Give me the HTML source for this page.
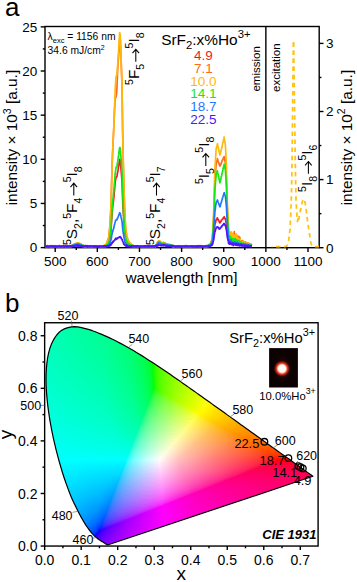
<!DOCTYPE html><html><head><meta charset="utf-8"><style>html,body{margin:0;padding:0;background:#fff;overflow:hidden}svg{display:block}text{font-family:"Liberation Sans", sans-serif}</style></head><body>
<svg width="357" height="582" viewBox="0 0 357 582">
<defs>
<clipPath id="ca"><rect x="45.0" y="26.5" width="274.2" height="223.2"/></clipPath>
</defs>
<text x="5" y="15.5" font-size="26" text-anchor="start" fill="#000" >a</text>
<rect x="45.0" y="26.5" width="274.2" height="221.2" fill="none" stroke="#000" stroke-width="1.4"/>
<line x1="265.87" y1="26.5" x2="265.87" y2="247.7" stroke="#000" stroke-width="1.4" />
<g clip-path="url(#ca)" fill="none" stroke-width="1.7" stroke-linejoin="round">
<polyline points="45.09,246.65 45.3,246.69 45.51,246.26 45.72,246.17 45.93,246.4 46.14,246.21 46.35,246.94 46.56,246.59 46.77,246.62 46.98,246.47 47.19,246.32 47.41,247.11 47.62,245.51 47.83,246.74 48.04,246.37 48.25,246.22 48.46,246.21 48.67,246.4 48.88,247.38 49.09,246.81 49.3,246.24 49.51,246.76 49.72,246.81 49.93,247.21 50.14,246.1 50.35,246.32 50.57,246.76 50.78,246.52 50.99,246.52 51.2,246.83 51.41,246.57 51.62,246.41 51.83,246.32 52.04,246.1 52.25,246.48 52.46,246.63 52.67,246.36 52.88,246.68 53.09,246.88 53.3,246.14 53.51,246.61 53.73,246.45 53.94,246.29 54.15,246.83 54.36,246.29 54.57,246.35 54.78,246.52 54.99,246.37 55.2,246.72 55.41,247.17 55.62,246.58 55.83,246.77 56.04,246.22 56.25,246.41 56.46,246.65 56.67,246.48 56.89,246.07 57.1,246.14 57.31,246.38 57.52,246.36 57.73,246.58 57.94,246.53 58.15,246.31 58.36,246.53 58.57,246.4 58.78,246.84 58.99,247.01 59.2,247.02 59.41,246.63 59.62,246.08 59.83,246.13 60.05,246.8 60.26,246.97 60.47,246.25 60.68,246.35 60.89,246.91 61.1,246.16 61.31,246.44 61.52,246.08 61.73,246.39 61.94,246.22 62.15,246.39 62.36,246.79 62.57,246.56 62.78,246.7 62.99,246.23 63.21,246.8 63.42,246.97 63.63,246.28 63.84,246.14 64.05,246.04 64.26,246.15 64.47,246.96 64.68,246.71 64.89,246.66 65.1,246.5 65.31,247.16 65.52,246.49 65.73,246.4 65.94,246.78 66.15,246.45 66.37,246.12 66.58,246.47 66.79,246.15 67,246.16 67.21,246.35 67.42,246.35 67.63,246.58 67.84,246.08 68.05,246.6 68.26,246.66 68.47,246.22 68.68,246.65 68.89,246.28 69.1,246.07 69.31,246.36 69.53,246.33 69.74,246.06 69.95,246.09 70.16,246.77 70.37,246.68 70.58,245.83 70.79,246.08 71,246.81 71.21,246.54 71.42,246.07 71.63,246.34 71.84,245.84 72.05,245.9 72.26,245.71 72.47,246.16 72.69,245.54 72.9,245.06 73.11,245.84 73.32,245.11 73.53,245.14 73.74,245.17 73.95,245.3 74.16,245.56 74.37,245.4 74.58,244.81 74.79,244.66 75,244.51 75.21,244.52 75.42,244.47 75.63,244.81 75.85,244.99 76.06,244.5 76.27,244.36 76.48,244.44 76.69,244.9 76.9,244.57 77.11,244.84 77.32,244.33 77.53,244.69 77.74,244.43 77.95,244.29 78.16,244.36 78.37,244.01 78.58,244.81 78.79,245.19 79.01,244.27 79.22,244.18 79.43,244.24 79.64,244.66 79.85,244.65 80.06,244.85 80.27,245.36 80.48,245.22 80.69,244.97 80.9,245.38 81.11,244.69 81.32,245.84 81.53,245.57 81.74,245.17 81.95,245.78 82.17,246.01 82.38,246.15 82.59,246.02 82.8,245.39 83.01,245.79 83.22,245.82 83.43,246.19 83.64,245.82 83.85,246.09 84.06,246.45 84.27,246.34 84.48,246.17 84.69,245.9 84.9,246.31 85.11,246.16 85.33,245.72 85.54,246.61 85.75,246.76 85.96,246.09 86.17,246.27 86.38,246.45 86.59,246.35 86.8,246.54 87.01,246.29 87.22,246.56 87.43,246.21 87.64,246.82 87.85,246.72 88.06,246.43 88.27,246.62 88.49,246.26 88.7,246.49 88.91,246.65 89.12,246.41 89.33,246.64 89.54,246.96 89.75,246.83 89.96,246.73 90.17,246.63 90.38,246.45 90.59,246.2 90.8,246.31 91.01,245.93 91.22,246.09 91.43,246.54 91.65,245.97 91.86,246.12 92.07,246.62 92.28,246.39 92.49,246.14 92.7,246.41 92.91,246.17 93.12,246.36 93.33,246.26 93.54,246.58 93.75,246.36 93.96,246.59 94.17,246.27 94.38,247 94.59,246.38 94.81,246.1 95.02,246.3 95.23,246.49 95.44,246.32 95.65,246.74 95.86,246.74 96.07,246.59 96.28,246.53 96.49,246.18 96.7,246.76 96.91,246.17 97.12,246.97 97.33,246.72 97.54,246.49 97.75,246.12 97.96,246.67 98.18,247.14 98.39,246.35 98.6,246.49 98.81,246.82 99.02,246.8 99.23,246.7 99.44,246.45 99.65,246.28 99.86,246.94 100.07,245.77 100.28,246.49 100.49,246.6 100.7,246.27 100.91,246.45 101.12,245.76 101.34,246.14 101.55,246.6 101.76,246.6 101.97,246.64 102.18,246.59 102.39,246.27 102.6,246.64 102.81,245.91 103.02,246.39 103.23,246.37 103.44,246 103.65,246.86 103.86,246.5 104.07,245.99 104.28,246.13 104.5,246.1 104.71,245.93 104.92,246.2 105.13,246.03 105.34,246.36 105.55,246.48 105.76,245.47 105.97,246.11 106.18,246.01 106.39,245.1 106.6,244.95 106.81,245.19 107.02,244.94 107.23,244.55 107.44,244.56 107.66,243.85 107.87,243.72 108.08,243.47 108.29,243.03 108.5,242.78 108.71,242.18 108.92,241.9 109.13,241.97 109.34,240.24 109.55,239.94 109.76,239.11 109.97,237.52 110.18,236.39 110.39,234.71 110.6,232.71 110.82,231.68 111.03,229.85 111.24,226.22 111.45,222.69 111.66,219.66 111.87,217.05 112.08,213.76 112.29,211.56 112.5,208.88 112.71,207.16 112.92,205.14 113.13,203.28 113.34,202 113.55,200.01 113.76,198.25 113.98,196.38 114.19,193.76 114.4,191.25 114.61,189.43 114.82,186.52 115.03,184.21 115.24,181.8 115.45,180.8 115.66,179.48 115.87,178.02 116.08,177.18 116.29,177.45 116.5,176.92 116.71,176.33 116.92,176.57 117.14,175.21 117.35,173.31 117.56,172.89 117.77,171.69 117.98,170.74 118.19,169.41 118.4,167.38 118.61,166.51 118.82,165.46 119.03,164.02 119.24,162.36 119.45,160.75 119.66,159.85 119.87,159.25 120.08,160.3 120.3,160.71 120.51,163.13 120.72,165.57 120.93,168.36 121.14,170.76 121.35,173.05 121.56,176.1 121.77,178.14 121.98,180.53 122.19,185.79 122.4,192.27 122.61,198.47 122.82,202.69 123.03,207.28 123.24,211.45 123.46,215.05 123.67,218.1 123.88,221.52 124.09,224.31 124.3,227.88 124.51,229.99 124.72,232.08 124.93,233.52 125.14,235.61 125.35,236.98 125.56,238.49 125.77,238.98 125.98,240.36 126.19,240.34 126.4,241.31 126.62,242.15 126.83,242.42 127.04,242.88 127.25,243.1 127.46,243.44 127.67,243.37 127.88,243.65 128.09,243.93 128.3,244.39 128.51,244.47 128.72,244.41 128.93,244.36 129.14,244.85 129.35,244.49 129.56,245.02 129.78,245.44 129.99,245 130.2,245.58 130.41,245.24 130.62,245.12 130.83,245.64 131.04,245.66 131.25,244.95 131.46,245.73 131.67,245.76 131.88,245.64 132.09,245.95 132.3,245.99 132.51,245.88 132.72,246.77 132.94,245.64 133.15,246.44 133.36,246.49 133.57,246.02 133.78,246.22 133.99,246.65 134.2,246.24 134.41,246.7 134.62,246.6 134.83,246.89 135.04,246.72 135.25,246.38 135.46,246.46 135.67,246.41 135.88,246.22 136.1,246.51 136.31,246.71 136.52,246.59 136.73,245.99 136.94,246.49 137.15,246.4 137.36,246.53 137.57,246.43 137.78,246.37 137.99,246.5 138.2,246.55 138.41,246.74 138.62,246.76 138.83,246.38 139.04,246.27 139.26,246.22 139.47,246.49 139.68,246.76 139.89,246.31 140.1,246.31 140.31,246.97 140.52,246.25 140.73,246.32 140.94,245.99 141.15,246.85 141.36,246.9 141.57,246.26 141.78,247.06 141.99,246.73 142.2,246.84 142.42,246.81 142.63,247.09 142.84,246.57 143.05,246.2 143.26,246.36 143.47,246.36 143.68,246.61 143.89,246.05 144.1,246.34 144.31,246.18 144.52,246.98 144.73,246.39 144.94,246.85 145.15,246.39 145.36,246.44 145.58,246.85 145.79,246.44 146,246.14 146.21,246.34 146.42,246.32 146.63,246.76 146.84,246.71 147.05,246.84 147.26,246.46 147.47,246.13 147.68,246.36 147.89,246.5 148.1,246.84 148.31,246.36 148.52,246.57 148.74,247.08 148.95,247.03 149.16,246.6 149.37,246.77 149.58,245.99 149.79,246.49 150,246.82 150.21,246.65 150.42,246.01 150.63,246.79 150.84,246.26 151.05,246.36 151.26,246.04 151.47,246.33 151.68,246.62 151.9,246.33 152.11,246.47 152.32,246.19 152.53,246.51 152.74,245.88 152.95,246.52 153.16,246.35 153.37,246.68 153.58,246.42 153.79,246.44 154,246.38 154.21,246.13 154.42,246.53 154.63,246.58 154.84,245.91 155.06,246.26 155.27,246.28 155.48,245.6 155.69,245.57 155.9,246.44 156.11,245.54 156.32,244.95 156.53,244.68 156.74,244.81 156.95,243.88 157.16,244.3 157.37,243.81 157.58,243.4 157.79,243.16 158,242.65 158.22,242.36 158.43,242.51 158.64,241.93 158.85,242.5 159.06,242.33 159.27,241.76 159.48,242.33 159.69,242.14 159.9,242.74 160.11,242.85 160.32,242.97 160.53,243.05 160.74,243.37 160.95,243.4 161.16,243.32 161.38,243.25 161.59,243.65 161.8,243.53 162.01,243.47 162.22,244.09 162.43,244.23 162.64,243.24 162.85,243.31 163.06,243.68 163.27,243.59 163.48,243.99 163.69,244.14 163.9,243.65 164.11,244.25 164.32,243.58 164.54,244.14 164.75,243.93 164.96,243.52 165.17,243.64 165.38,244.41 165.59,244.1 165.8,244.85 166.01,244.81 166.22,244.6 166.43,244.37 166.64,245.04 166.85,244.76 167.06,244.95 167.27,245.41 167.48,245.1 167.7,244.62 167.91,245.14 168.12,244.98 168.33,244.89 168.54,245.39 168.75,244.81 168.96,244.75 169.17,244.74 169.38,244.86 169.59,245.44 169.8,245.51 170.01,245.62 170.22,245.7 170.43,245.72 170.64,245.22 170.86,245.13 171.07,245.84 171.28,245.45 171.49,246.15 171.7,245.93 171.91,246.19 172.12,246.45 172.33,245.98 172.54,246.03 172.75,246.23 172.96,246.31 173.17,246.5 173.38,246.27 173.59,246.45 173.8,246.23 174.02,246.7 174.23,246.29 174.44,246.22 174.65,246.01 174.86,246.09 175.07,246.37 175.28,246.65 175.49,247.02 175.7,246.46 175.91,246.03 176.12,245.96 176.33,247.26 176.54,246.71 176.75,246.59 176.96,246.81 177.18,246.43 177.39,246.48 177.6,246.65 177.81,246.5 178.02,246.98 178.23,246.79 178.44,246.77 178.65,246.22 178.86,247 179.07,246.56 179.28,246.25 179.49,246.51 179.7,246.24 179.91,246.7 180.12,246.36 180.34,246.22 180.55,245.8 180.76,246.27 180.97,246.05 181.18,246.49 181.39,246.46 181.6,246.01 181.81,246.31 182.02,246.05 182.23,246.27 182.44,245.84 182.65,245.76 182.86,246.75 183.07,245.92 183.28,246.36 183.49,246.34 183.71,246.53 183.92,246.27 184.13,246.83 184.34,246.71 184.55,246.73 184.76,246.4 184.97,246.2 185.18,246.26 185.39,246.37 185.6,246.67 185.81,247.03 186.02,246.36 186.23,246.44 186.44,246.38 186.65,246.05 186.87,246.54 187.08,246.55 187.29,247.2 187.5,246.31 187.71,246.5 187.92,246.72 188.13,246.37 188.34,246.81 188.55,246.65 188.76,245.88 188.97,246.25 189.18,246.2 189.39,246.26 189.6,246.29 189.81,246.43 190.03,245.78 190.24,246.51 190.45,246.26 190.66,246.56 190.87,246.6 191.08,247.24 191.29,247.08 191.5,246.01 191.71,246.03 191.92,246.62 192.13,246.5 192.34,246.3 192.55,246.8 192.76,245.94 192.97,246.81 193.19,246.71 193.4,247.34 193.61,246.02 193.82,246.47 194.03,245.99 194.24,246.8 194.45,246.39 194.66,246.47 194.87,246.43 195.08,245.85 195.29,245.79 195.5,246.07 195.71,246.62 195.92,246.22 196.13,246.08 196.35,246.32 196.56,246.32 196.77,246.34 196.98,246.77 197.19,246.42 197.4,246 197.61,246.8 197.82,246.47 198.03,246.23 198.24,246.91 198.45,246.54 198.66,247.02 198.87,246.68 199.08,246.93 199.29,246.77 199.51,246.65 199.72,246.58 199.93,246.56 200.14,247.24 200.35,246 200.56,246.58 200.77,246.83 200.98,246.69 201.19,246.4 201.4,246.81 201.61,246.62 201.82,246.64 202.03,246.33 202.24,246.73 202.45,246.36 202.67,246.39 202.88,246.54 203.09,246.11 203.3,246.49 203.51,246.86 203.72,246.4 203.93,246.46 204.14,246.51 204.35,246.42 204.56,245.77 204.77,246.42 204.98,246.35 205.19,246.57 205.4,246.09 205.61,246.51 205.83,246.74 206.04,246.87 206.25,246.3 206.46,246.21 206.67,246.9 206.88,246.6 207.09,246.15 207.3,246 207.51,246.7 207.72,246.39 207.93,245.97 208.14,246.37 208.35,246.31 208.56,246.31 208.77,246.52 208.99,246.07 209.2,245.96 209.41,246.46 209.62,245.96 209.83,245.62 210.04,245.87 210.25,245.61 210.46,245.9 210.67,245.13 210.88,245.62 211.09,244.61 211.3,245.16 211.51,245.06 211.72,244.94 211.93,244.61 212.15,244.46 212.36,244.34 212.57,243.15 212.78,241.76 212.99,240.6 213.2,239.9 213.41,238.33 213.62,237.93 213.83,235.89 214.04,233.87 214.25,231.28 214.46,229.89 214.67,227.79 214.88,224.91 215.09,223.83 215.31,223.01 215.52,222.94 215.73,221.53 215.94,220.34 216.15,219.63 216.36,219.92 216.57,219.29 216.78,219.47 216.99,219.09 217.2,217.81 217.41,218.03 217.62,219.06 217.83,219.44 218.04,219.21 218.25,219.9 218.47,219.9 218.68,220.65 218.89,220.88 219.1,221.11 219.31,221.87 219.52,222.52 219.73,222.66 219.94,222.87 220.15,222.43 220.36,222.1 220.57,221.82 220.78,221.35 220.99,221.5 221.2,220.51 221.41,220.03 221.63,220.25 221.84,220.02 222.05,219.4 222.26,219.3 222.47,219.16 222.68,218.98 222.89,218.87 223.1,218.72 223.31,217.86 223.52,217.41 223.73,217.82 223.94,217.23 224.15,216.85 224.36,217.4 224.57,217.85 224.79,218.08 225,218.91 225.21,218.67 225.42,219.08 225.63,219.58 225.84,221.19 226.05,222.83 226.26,223.96 226.47,224.67 226.68,226.9 226.89,229.52 227.1,231.81 227.31,234.41 227.52,236.25 227.73,237.34 227.95,237.8 228.16,237.13 228.37,239.51 228.58,239.01 228.79,239.93 229,240.89 229.21,237.31 229.42,238.95 229.63,237.35 229.84,241.06 230.05,238.24 230.26,240 230.47,237.57 230.68,239.67 230.89,240.47 231.11,240.39 231.32,236.51 231.53,238.69 231.74,240.41 231.95,241.44 232.16,241.5 232.37,237.14 232.58,243.04 232.79,241.19 233,238.18 233.21,237.67 233.42,240.29 233.63,238.81 233.84,239.07 234.05,238.05 234.27,240.64 234.48,237.46 234.69,240.34 234.9,238.24 235.11,242.5 235.32,238.7 235.53,242.4 235.74,241.93 235.95,240.22 236.16,242.23 236.37,239.95 236.58,242.17 236.79,238.77 237,241.59 237.21,242.13 237.43,240.74 237.64,239.97 237.85,242.51 238.06,240.59 238.27,239.19 238.48,240.57 238.69,241.8 238.9,242.1 239.11,241.42 239.32,243.81 239.53,245.07 239.74,242.86 239.95,243.44 240.16,240.73 240.37,242.08 240.59,243.76 240.8,243.66 241.01,241.73 241.22,243.52 241.43,243.75 241.64,243.56 241.85,243.09 242.06,243.61 242.27,243.81 242.48,242.77 242.69,242.72 242.9,244.57 243.11,242.52 243.32,243.32 243.53,243.46 243.75,244.45 243.96,243.67 244.17,243.91 244.38,243.86 244.59,244 244.8,244.57 245.01,244.88 245.22,244.89 245.43,244.13 245.64,243.72 245.85,244.65 246.06,244.78 246.27,244.92 246.48,245.16 246.69,245.24 246.91,244.36 247.12,244.74 247.33,244.98 247.54,244.99 247.75,244.34 247.96,243.75 248.17,244.66 248.38,244.67 248.59,245.25 248.8,244.14 249.01,244.22 249.22,245.01 249.43,244.57 249.64,244.88 249.85,244.51 250.07,245.56 250.28,245.26 250.49,245.7 250.7,244.68 250.91,245.49 251.12,245.67 251.33,245.19 251.54,245.49" stroke="#f01c1c"/>
<polyline points="45.09,246.82 45.3,246.16 45.51,246.34 45.72,247 45.93,247.14 46.14,246.21 46.35,245.78 46.56,246.23 46.77,246.57 46.98,246.41 47.19,247.37 47.41,246.82 47.62,246.17 47.83,246.22 48.04,247.18 48.25,246.12 48.46,246.32 48.67,246.19 48.88,246.56 49.09,246.49 49.3,246.84 49.51,246.39 49.72,246.21 49.93,246.8 50.14,246.38 50.35,246.67 50.57,246.16 50.78,246.18 50.99,247.25 51.2,246.35 51.41,246.17 51.62,246.68 51.83,246.56 52.04,246.54 52.25,246.86 52.46,246.53 52.67,246 52.88,246.34 53.09,246.01 53.3,246.18 53.51,246.11 53.73,246.46 53.94,246.25 54.15,245.85 54.36,246.02 54.57,246.39 54.78,246.72 54.99,246.79 55.2,246.42 55.41,246.35 55.62,247.08 55.83,246.42 56.04,246.38 56.25,246.4 56.46,246.67 56.67,245.76 56.89,246.21 57.1,246.94 57.31,246.73 57.52,246.24 57.73,246.33 57.94,246.46 58.15,246.51 58.36,246.57 58.57,246.64 58.78,246.83 58.99,246.31 59.2,247.39 59.41,246.74 59.62,246.1 59.83,246.75 60.05,246.89 60.26,245.9 60.47,246.17 60.68,246.55 60.89,246.69 61.1,246.58 61.31,246.62 61.52,246.59 61.73,246.74 61.94,246.33 62.15,246.69 62.36,247.09 62.57,246.92 62.78,246.51 62.99,246.84 63.21,247.3 63.42,246.03 63.63,246.35 63.84,246.67 64.05,246.68 64.26,246.35 64.47,246.07 64.68,246.71 64.89,246.38 65.1,246.71 65.31,246.41 65.52,246.88 65.73,247.1 65.94,246.48 66.15,246.53 66.37,246.28 66.58,246.72 66.79,246.06 67,246.47 67.21,246 67.42,246.6 67.63,246 67.84,246.49 68.05,246.42 68.26,246.15 68.47,247.01 68.68,246.77 68.89,245.83 69.1,246.88 69.31,246.53 69.53,246.18 69.74,245.86 69.95,246.46 70.16,246.22 70.37,246.58 70.58,246.3 70.79,245.81 71,245.98 71.21,246.04 71.42,245.83 71.63,245.86 71.84,245.78 72.05,245.87 72.26,245.99 72.47,245.38 72.69,245.88 72.9,245.09 73.11,244.64 73.32,244.74 73.53,244.38 73.74,245.35 73.95,244.83 74.16,245.06 74.37,244.93 74.58,245.13 74.79,244.87 75,244.1 75.21,244.06 75.42,243.8 75.63,243.74 75.85,243.76 76.06,244.2 76.27,243.91 76.48,243.58 76.69,243.37 76.9,243.85 77.11,243.86 77.32,243.82 77.53,243.17 77.74,243.5 77.95,243.8 78.16,243.97 78.37,243.62 78.58,244.34 78.79,243.94 79.01,244.11 79.22,244.19 79.43,244.02 79.64,244.04 79.85,243.3 80.06,244.33 80.27,244.24 80.48,244.83 80.69,245.2 80.9,244.42 81.11,244.26 81.32,245.31 81.53,245.12 81.74,244.85 81.95,245.27 82.17,246.16 82.38,245.17 82.59,245.62 82.8,245.43 83.01,246.04 83.22,245.53 83.43,245.55 83.64,246.17 83.85,245.85 84.06,246.26 84.27,246.27 84.48,246.44 84.69,246.33 84.9,246.45 85.11,245.89 85.33,246.37 85.54,246.68 85.75,245.91 85.96,246.19 86.17,246.07 86.38,246.42 86.59,246.19 86.8,246.46 87.01,246.74 87.22,246.41 87.43,246.41 87.64,246.41 87.85,246.2 88.06,247.02 88.27,246.38 88.49,246.73 88.7,246.56 88.91,246.34 89.12,246.46 89.33,246.69 89.54,246.24 89.75,246.5 89.96,246.18 90.17,246.09 90.38,246.59 90.59,246.83 90.8,246.45 91.01,246.22 91.22,246.38 91.43,246.85 91.65,247.02 91.86,246.78 92.07,246.78 92.28,246.28 92.49,246.46 92.7,246.2 92.91,246.51 93.12,245.95 93.33,246.47 93.54,246.3 93.75,246.61 93.96,246.34 94.17,246.13 94.38,246.23 94.59,246.07 94.81,246.67 95.02,246.33 95.23,245.94 95.44,246.4 95.65,246.53 95.86,246.55 96.07,246.64 96.28,246.43 96.49,246.04 96.7,246.33 96.91,246.48 97.12,246.72 97.33,246.83 97.54,247.34 97.75,246.78 97.96,246.63 98.18,246.29 98.39,246.11 98.6,246.18 98.81,246.54 99.02,246.72 99.23,246.7 99.44,246.69 99.65,246.63 99.86,246.31 100.07,246.73 100.28,247.19 100.49,247.04 100.7,245.77 100.91,246.26 101.12,246.83 101.34,246.76 101.55,246.45 101.76,246.58 101.97,246.58 102.18,247.28 102.39,247.1 102.6,246.53 102.81,246.27 103.02,246.29 103.23,245.81 103.44,246.18 103.65,246.02 103.86,245.98 104.07,245.61 104.28,246 104.5,245.09 104.71,245.95 104.92,245.28 105.13,245.21 105.34,244.84 105.55,245.58 105.76,245.42 105.97,245.13 106.18,244.73 106.39,244.07 106.6,244.5 106.81,243.18 107.02,242.39 107.23,241.74 107.44,241.11 107.66,240.65 107.87,239.95 108.08,239.94 108.29,238.47 108.5,238.87 108.71,237.55 108.92,236.83 109.13,234.17 109.34,232.31 109.55,229.46 109.76,227.35 109.97,224.99 110.18,221 110.39,217.13 110.6,213.69 110.82,209.52 111.03,204.94 111.24,196.86 111.45,189.05 111.66,181.88 111.87,173.18 112.08,165.71 112.29,160.84 112.5,155.89 112.71,150.61 112.92,145.86 113.13,141.16 113.34,136.71 113.55,132.87 113.76,128.46 113.98,123.65 114.19,118.38 114.4,113.29 114.61,109.03 114.82,104.78 115.03,101.36 115.24,97.91 115.45,97.65 115.66,97.31 115.87,97.64 116.08,96.12 116.29,95.38 116.5,93.96 116.71,92.27 116.92,88.41 117.14,82.48 117.35,77.56 117.56,72.26 117.77,67.96 117.98,64.22 118.19,61.09 118.4,59.14 118.61,56.48 118.82,53.2 119.03,50.54 119.24,47.21 119.45,44.11 119.66,39.72 119.87,39.4 120.08,39 120.3,39.9 120.51,45.05 120.72,50.16 120.93,54.95 121.14,60.47 121.35,66.93 121.56,72.86 121.77,78.43 121.98,85.09 122.19,98.11 122.4,113.11 122.61,128.06 122.82,139.14 123.03,150.54 123.24,160.38 123.46,169.45 123.67,177.21 123.88,184.64 124.09,192.17 124.3,199.15 124.51,206.64 124.72,210.73 124.93,214.94 125.14,218.68 125.35,223.1 125.56,227.35 125.77,229.28 125.98,230.68 126.19,232.17 126.4,233.33 126.62,235.24 126.83,237.1 127.04,237.31 127.25,237.88 127.46,238.75 127.67,239.01 127.88,240.02 128.09,240.19 128.3,240.15 128.51,241 128.72,241.64 128.93,242.11 129.14,242.37 129.35,243.16 129.56,243.16 129.78,243.44 129.99,243.3 130.2,243.38 130.41,243.26 130.62,244.14 130.83,244.65 131.04,244.43 131.25,244.75 131.46,244.87 131.67,245.04 131.88,244.99 132.09,245.41 132.3,245.24 132.51,245.13 132.72,245.47 132.94,245.45 133.15,245.91 133.36,245.55 133.57,245.93 133.78,246.2 133.99,246.16 134.2,246.31 134.41,246.34 134.62,246.55 134.83,245.96 135.04,246.3 135.25,246.53 135.46,246.53 135.67,246.7 135.88,246.42 136.1,246.74 136.31,246.69 136.52,246.9 136.73,246.3 136.94,246.31 137.15,246.34 137.36,246.33 137.57,247.39 137.78,246.64 137.99,246.36 138.2,246.52 138.41,247.15 138.62,246.58 138.83,246.47 139.04,246.84 139.26,247.02 139.47,246.83 139.68,246.91 139.89,246.43 140.1,247.21 140.31,246.05 140.52,246.94 140.73,246.7 140.94,246.53 141.15,246.11 141.36,246.36 141.57,247.07 141.78,247.01 141.99,246.42 142.2,247.14 142.42,246.58 142.63,246.75 142.84,246.25 143.05,246.12 143.26,247.27 143.47,246.36 143.68,246.3 143.89,246.74 144.1,246.69 144.31,246.87 144.52,246.61 144.73,246.38 144.94,246.09 145.15,246.06 145.36,246.59 145.58,246.76 145.79,246.2 146,247.36 146.21,246.94 146.42,246.31 146.63,245.82 146.84,246.75 147.05,246.48 147.26,246.85 147.47,246.53 147.68,246.53 147.89,246.74 148.1,246.39 148.31,246.56 148.52,246.35 148.74,246.57 148.95,246.88 149.16,246.46 149.37,246.24 149.58,246.75 149.79,246.09 150,246.36 150.21,246.61 150.42,246.49 150.63,246.63 150.84,246.78 151.05,246.22 151.26,246.22 151.47,246.64 151.68,246.56 151.9,246.56 152.11,246.28 152.32,246.04 152.53,246.7 152.74,246.4 152.95,246.49 153.16,246.31 153.37,246.03 153.58,246.73 153.79,247.08 154,246.47 154.21,246.88 154.42,245.82 154.63,246.5 154.84,246.29 155.06,246.03 155.27,245.92 155.48,245.96 155.69,245.65 155.9,245.14 156.11,245.28 156.32,244.33 156.53,244.48 156.74,244.98 156.95,243.61 157.16,244.05 157.37,243.03 157.58,242.06 157.79,242.08 158,242.45 158.22,242.08 158.43,241.6 158.64,241 158.85,241.58 159.06,240.98 159.27,241.26 159.48,241.47 159.69,241.63 159.9,241.23 160.11,242.41 160.32,242.5 160.53,242.07 160.74,242.24 160.95,243.12 161.16,243.15 161.38,243.34 161.59,242.89 161.8,243.32 162.01,242.71 162.22,242.91 162.43,243.06 162.64,243.06 162.85,242.93 163.06,242.82 163.27,243.07 163.48,243 163.69,242.86 163.9,243.17 164.11,242.89 164.32,243.32 164.54,243.61 164.75,243.42 164.96,243.08 165.17,243.26 165.38,244.34 165.59,243.88 165.8,244.25 166.01,244.32 166.22,244.43 166.43,244.5 166.64,244.67 166.85,244.67 167.06,244.58 167.27,245.08 167.48,245.13 167.7,245.13 167.91,245.16 168.12,244.65 168.33,245.2 168.54,244.91 168.75,244.89 168.96,244.71 169.17,244.95 169.38,244.67 169.59,245.06 169.8,245.01 170.01,244.9 170.22,245.64 170.43,245.13 170.64,244.85 170.86,245.36 171.07,245.54 171.28,244.95 171.49,245.58 171.7,245.3 171.91,246.49 172.12,245.8 172.33,246.05 172.54,245.84 172.75,245.66 172.96,246.13 173.17,246.2 173.38,247.05 173.59,245.98 173.8,245.85 174.02,246.25 174.23,246.48 174.44,246.24 174.65,246.06 174.86,246.2 175.07,245.77 175.28,246.6 175.49,246.86 175.7,246.3 175.91,246.07 176.12,246.61 176.33,246.47 176.54,246.68 176.75,246.87 176.96,246.71 177.18,247.13 177.39,246.41 177.6,246.35 177.81,246.22 178.02,246.75 178.23,246.69 178.44,247.02 178.65,246.95 178.86,246.22 179.07,245.62 179.28,246.82 179.49,246.62 179.7,246.21 179.91,246.71 180.12,246.32 180.34,246.59 180.55,246.59 180.76,246.22 180.97,246.58 181.18,246.89 181.39,246.24 181.6,246.49 181.81,246.67 182.02,246.75 182.23,246.32 182.44,246.72 182.65,246.46 182.86,246.19 183.07,246.53 183.28,246.16 183.49,246.92 183.71,246.31 183.92,246.33 184.13,245.92 184.34,246.49 184.55,246.22 184.76,246.55 184.97,246.83 185.18,246.77 185.39,246.72 185.6,246.26 185.81,246.74 186.02,246.48 186.23,246.22 186.44,246.11 186.65,246.21 186.87,246.04 187.08,246.85 187.29,246.65 187.5,246.4 187.71,246.15 187.92,246.34 188.13,246.73 188.34,246.56 188.55,247.01 188.76,246.25 188.97,247.05 189.18,246.43 189.39,246.16 189.6,246.22 189.81,246.99 190.03,246.43 190.24,246.6 190.45,246.59 190.66,245.99 190.87,246.41 191.08,246.94 191.29,246.83 191.5,246.28 191.71,246.43 191.92,246.85 192.13,247.02 192.34,246.67 192.55,246.63 192.76,246.25 192.97,246.69 193.19,246.29 193.4,246.12 193.61,246.99 193.82,246.68 194.03,246.02 194.24,246.64 194.45,246.51 194.66,246.2 194.87,246.74 195.08,246.63 195.29,247.01 195.5,246.33 195.71,246.66 195.92,246.62 196.13,247.3 196.35,246.21 196.56,246.29 196.77,246.75 196.98,246.13 197.19,247.27 197.4,246.53 197.61,247.03 197.82,245.67 198.03,247.32 198.24,246.89 198.45,246.75 198.66,246.27 198.87,246.26 199.08,246.4 199.29,246.59 199.51,245.85 199.72,246.74 199.93,246.42 200.14,245.98 200.35,246.9 200.56,246.77 200.77,246.18 200.98,246.38 201.19,246.92 201.4,246.51 201.61,245.92 201.82,246.6 202.03,246.27 202.24,246.48 202.45,246.73 202.67,246.02 202.88,246.22 203.09,246.15 203.3,246.57 203.51,246.49 203.72,246.45 203.93,246.38 204.14,246.63 204.35,246.68 204.56,246.11 204.77,246.86 204.98,246.66 205.19,246.64 205.4,246.68 205.61,246.9 205.83,246.76 206.04,246.27 206.25,246.55 206.46,246.57 206.67,245.74 206.88,246.58 207.09,245.75 207.3,245.87 207.51,246.31 207.72,245.93 207.93,245.83 208.14,245.22 208.35,245.25 208.56,245.53 208.77,245.72 208.99,245.79 209.2,245.23 209.41,245.52 209.62,245.05 209.83,244.97 210.04,244.7 210.25,244.41 210.46,244.15 210.67,243.5 210.88,243.16 211.09,242.24 211.3,241.77 211.51,240.99 211.72,240.51 211.93,240.63 212.15,240.31 212.36,239.12 212.57,235.66 212.78,232.92 212.99,228.95 213.2,226.08 213.41,222.83 213.62,219.39 213.83,213.52 214.04,207.17 214.25,200.34 214.46,194.18 214.67,187.4 214.88,180.97 215.09,178.85 215.31,175.39 215.52,172.06 215.73,170.04 215.94,166.51 216.15,163.91 216.36,163.37 216.57,161.69 216.78,160.97 216.99,160.71 217.2,160 217.41,158.69 217.62,159.34 217.83,160.3 218.04,160.62 218.25,161.44 218.47,162.16 218.68,162.46 218.89,163.37 219.1,163.65 219.31,164.5 219.52,165.15 219.73,165.77 219.94,166.05 220.15,165.41 220.36,165.08 220.57,165 220.78,164.05 220.99,164.04 221.2,163.62 221.41,162.85 221.63,162.05 221.84,161.6 222.05,161.15 222.26,160.42 222.47,160.09 222.68,159.98 222.89,159.14 223.1,158.98 223.31,158.29 223.52,157.74 223.73,157.46 223.94,157.41 224.15,156.51 224.36,157.61 224.57,158.6 224.79,159.74 225,161.01 225.21,162.21 225.42,162.56 225.63,166.3 225.84,170.21 226.05,174.12 226.26,177.29 226.47,181.47 226.68,188.33 226.89,194.75 227.1,201.69 227.31,208.11 227.52,214.91 227.73,217.99 227.95,222.26 228.16,225.37 228.37,227.55 228.58,232.02 228.79,233.48 229,231.29 229.21,232.98 229.42,234.81 229.63,237.52 229.84,235.19 230.05,239.46 230.26,237.08 230.47,238.37 230.68,234.85 230.89,233.56 231.11,237.9 231.32,237.67 231.53,239 231.74,240.07 231.95,237.21 232.16,234.25 232.37,235.56 232.58,235.29 232.79,237.96 233,244.12 233.21,234.52 233.42,233.76 233.63,234.9 233.84,234.99 234.05,235.05 234.27,231.71 234.48,236.51 234.69,234.03 234.9,235.6 235.11,236.37 235.32,238.04 235.53,238.99 235.74,240.62 235.95,237.07 236.16,238.93 236.37,240.56 236.58,239.95 236.79,241.98 237,235.6 237.21,239.37 237.43,238.57 237.64,241.43 237.85,241.45 238.06,237.75 238.27,240.1 238.48,239.53 238.69,236.23 238.9,236.26 239.11,238.96 239.32,239.17 239.53,239.36 239.74,241.04 239.95,237.61 240.16,242.7 240.37,241.45 240.59,243.98 240.8,243.24 241.01,240.67 241.22,240.76 241.43,240.94 241.64,242.4 241.85,242.45 242.06,242.97 242.27,242.67 242.48,240.73 242.69,240.54 242.9,241.81 243.11,242.61 243.32,243.43 243.53,242.8 243.75,243.33 243.96,244.95 244.17,241.9 244.38,243.45 244.59,243.72 244.8,244.34 245.01,244.6 245.22,241.95 245.43,243.95 245.64,244.09 245.85,242.97 246.06,242.44 246.27,243.9 246.48,243.83 246.69,244.04 246.91,243.08 247.12,242.89 247.33,244.5 247.54,243.64 247.75,243.94 247.96,244.95 248.17,244.66 248.38,243.71 248.59,243.06 248.8,244.33 249.01,244.94 249.22,244.28 249.43,244.07 249.64,244.03 249.85,245.32 250.07,244.44 250.28,245.16 250.49,244.4 250.7,244.7 250.91,244.56 251.12,244.48 251.33,244.42 251.54,245.17" stroke="#ff6a14"/>
<polyline points="45.09,246.21 45.3,246.52 45.51,246.52 45.72,246.74 45.93,246.32 46.14,246.52 46.35,246.62 46.56,246.59 46.77,245.99 46.98,246.49 47.19,246.41 47.41,246.07 47.62,246.53 47.83,246.19 48.04,246.81 48.25,246.29 48.46,247.16 48.67,246.45 48.88,246.63 49.09,246.72 49.3,246.15 49.51,246.26 49.72,246.22 49.93,246.02 50.14,246.33 50.35,246.31 50.57,246.51 50.78,245.9 50.99,246.21 51.2,246.74 51.41,246.77 51.62,246.73 51.83,246.73 52.04,246.09 52.25,246.4 52.46,246.16 52.67,246.74 52.88,246.74 53.09,246.11 53.3,247.13 53.51,246.88 53.73,247.16 53.94,246.71 54.15,245.69 54.36,246.74 54.57,246.17 54.78,245.98 54.99,246.71 55.2,246.72 55.41,246.4 55.62,246.29 55.83,247 56.04,246.76 56.25,245.98 56.46,246.76 56.67,246.38 56.89,246.18 57.1,246.61 57.31,246.56 57.52,246.67 57.73,246.71 57.94,246.69 58.15,247.01 58.36,246.66 58.57,246.57 58.78,246.28 58.99,246.63 59.2,246.71 59.41,245.91 59.62,246.5 59.83,246.57 60.05,246.66 60.26,246.5 60.47,246.77 60.68,246.66 60.89,246.77 61.1,246.88 61.31,246.64 61.52,246.93 61.73,245.96 61.94,246.86 62.15,245.95 62.36,246.4 62.57,246.22 62.78,246.04 62.99,247.02 63.21,245.98 63.42,246.34 63.63,246.65 63.84,246.73 64.05,246.38 64.26,246.99 64.47,245.93 64.68,246.54 64.89,246.24 65.1,246.45 65.31,246.61 65.52,246.6 65.73,246.75 65.94,246.08 66.15,246.47 66.37,246.31 66.58,246.32 66.79,246.25 67,246.31 67.21,246.05 67.42,246.64 67.63,246.74 67.84,246.46 68.05,246.52 68.26,246.38 68.47,246.02 68.68,246.07 68.89,246.18 69.1,246.58 69.31,246.15 69.53,246.23 69.74,246.02 69.95,246.22 70.16,246.3 70.37,246.1 70.58,246.32 70.79,246.31 71,245.91 71.21,245.92 71.42,245.55 71.63,245.74 71.84,246.07 72.05,245.2 72.26,245.03 72.47,245.78 72.69,245.53 72.9,244.93 73.11,245.07 73.32,245.47 73.53,244.55 73.74,244.76 73.95,244.57 74.16,244.19 74.37,244.63 74.58,244.53 74.79,243.99 75,243.79 75.21,243.94 75.42,243.51 75.63,243.64 75.85,243.34 76.06,243.84 76.27,243.58 76.48,243.13 76.69,243.66 76.9,243.61 77.11,243.29 77.32,243.4 77.53,243.6 77.74,243.82 77.95,242.91 78.16,243.35 78.37,242.97 78.58,243.73 78.79,243.5 79.01,243.65 79.22,243.65 79.43,244.26 79.64,243.5 79.85,244.07 80.06,244.02 80.27,244.51 80.48,243.85 80.69,244.91 80.9,243.98 81.11,244.81 81.32,244.91 81.53,245.13 81.74,244.61 81.95,245.42 82.17,245.53 82.38,245.66 82.59,245.32 82.8,245.39 83.01,245.87 83.22,245.57 83.43,245.34 83.64,245.67 83.85,245.83 84.06,246.32 84.27,245.59 84.48,245.91 84.69,246.6 84.9,246.44 85.11,247.09 85.33,246.13 85.54,246.69 85.75,246.42 85.96,245.94 86.17,246.82 86.38,246.14 86.59,246.51 86.8,246.77 87.01,246.05 87.22,246.33 87.43,246.68 87.64,246.31 87.85,246.66 88.06,246.75 88.27,246.61 88.49,246.19 88.7,246.99 88.91,246.9 89.12,246.23 89.33,246.94 89.54,246.57 89.75,246.61 89.96,246.91 90.17,246.74 90.38,246.55 90.59,246.54 90.8,246.32 91.01,246.45 91.22,246.23 91.43,246.45 91.65,246.65 91.86,246.32 92.07,246.38 92.28,246.25 92.49,246.56 92.7,246.55 92.91,246.55 93.12,246.97 93.33,246.37 93.54,246.72 93.75,246.75 93.96,246.63 94.17,245.87 94.38,246.76 94.59,246.05 94.81,247.16 95.02,246.6 95.23,245.92 95.44,246.46 95.65,246.39 95.86,246.68 96.07,247.11 96.28,246.35 96.49,246.22 96.7,246.18 96.91,245.92 97.12,246.53 97.33,246.34 97.54,247.16 97.75,246.61 97.96,246.46 98.18,246.11 98.39,245.93 98.6,246 98.81,246.36 99.02,246.54 99.23,246.52 99.44,246.51 99.65,246.45 99.86,246.14 100.07,246.56 100.28,247.01 100.49,246.87 100.7,245.59 100.91,246.08 101.12,246.65 101.34,246.58 101.55,246.27 101.76,246.4 101.97,246.4 102.18,247.1 102.39,246.92 102.6,246.36 102.81,246.09 103.02,246.11 103.23,245.63 103.44,246 103.65,245.84 103.86,245.81 104.07,245.43 104.28,245.82 104.5,244.91 104.71,245.77 104.92,245.11 105.13,245.03 105.34,244.67 105.55,245.41 105.76,245.24 105.97,244.96 106.18,244.55 106.39,243.89 106.6,244.33 106.81,243.01 107.02,242.21 107.23,241.56 107.44,240.94 107.66,240.47 107.87,239.77 108.08,239.76 108.29,238.29 108.5,238.69 108.71,237.38 108.92,236.65 109.13,234 109.34,232.13 109.55,229.28 109.76,227.17 109.97,224.81 110.18,220.82 110.39,216.95 110.6,213.51 110.82,209.35 111.03,204.77 111.24,196.68 111.45,188.87 111.66,181.7 111.87,173 112.08,165.53 112.29,160.66 112.5,155.71 112.71,150.43 112.92,145.67 113.13,140.96 113.34,136.47 113.55,132.55 113.76,128 113.98,122.9 114.19,117.12 114.4,111.18 114.61,105.66 114.82,99.62 115.03,93.89 115.24,87.7 115.45,84.52 115.66,81.4 115.87,79.53 116.08,76.72 116.29,75.86 116.5,75.47 116.71,75.78 116.92,74.51 117.14,71.35 117.35,68.94 117.56,65.61 117.77,62.55 117.98,59.33 118.19,56.05 118.4,53.48 118.61,49.97 118.82,45.85 119.03,42.59 119.24,39.06 119.45,36.22 119.66,32.53 119.87,33.22 120.08,34 120.3,36.09 120.51,42.29 120.72,48.27 120.93,53.7 121.14,59.66 121.35,66.4 121.56,72.5 121.77,78.17 121.98,84.87 122.19,97.91 122.4,112.93 122.61,127.88 122.82,138.96 123.03,150.36 123.24,160.2 123.46,169.27 123.67,177.03 123.88,184.47 124.09,191.99 124.3,198.97 124.51,206.46 124.72,210.55 124.93,214.77 125.14,218.51 125.35,222.92 125.56,227.17 125.77,229.1 125.98,230.5 126.19,231.99 126.4,233.15 126.62,235.07 126.83,236.93 127.04,237.13 127.25,237.71 127.46,238.57 127.67,238.83 127.88,239.84 128.09,240.02 128.3,239.97 128.51,240.82 128.72,241.47 128.93,241.93 129.14,242.2 129.35,242.98 129.56,242.98 129.78,243.26 129.99,243.13 130.2,243.21 130.41,243.08 130.62,243.96 130.83,244.47 131.04,244.26 131.25,244.57 131.46,244.69 131.67,244.86 131.88,244.81 132.09,245.23 132.3,245.06 132.51,244.95 132.72,245.29 132.94,245.27 133.15,245.73 133.36,245.37 133.57,245.76 133.78,246.02 133.99,245.98 134.2,246.13 134.41,246.16 134.62,246.37 134.83,245.78 135.04,246.12 135.25,246.35 135.46,246.35 135.67,246.52 135.88,246.25 136.1,246.56 136.31,246.52 136.52,246.73 136.73,246.13 136.94,246.14 137.15,246.16 137.36,246.16 137.57,247.21 137.78,246.47 137.99,246.19 138.2,246.34 138.41,246.97 138.62,246.41 138.83,246.29 139.04,246.66 139.26,246.85 139.47,246.68 139.68,247.4 139.89,246.43 140.1,246.76 140.31,246.6 140.52,246.56 140.73,246.54 140.94,246.03 141.15,246.77 141.36,246.58 141.57,247.16 141.78,246.72 141.99,247.1 142.2,246.29 142.42,246.53 142.63,246.71 142.84,246.26 143.05,246.83 143.26,246.57 143.47,246.77 143.68,246.8 143.89,246.59 144.1,246.7 144.31,246.56 144.52,246.85 144.73,246.99 144.94,246.11 145.15,246.4 145.36,246.63 145.58,246.45 145.79,246.82 146,246.4 146.21,246.96 146.42,246.37 146.63,246.4 146.84,246.53 147.05,246.29 147.26,246.53 147.47,246 147.68,246.32 147.89,246.97 148.1,246.81 148.31,246.01 148.52,246.67 148.74,246.4 148.95,246.67 149.16,246.05 149.37,246.17 149.58,246.26 149.79,246.63 150,246.59 150.21,246.08 150.42,246.67 150.63,247.15 150.84,246.02 151.05,246.2 151.26,246.89 151.47,246.41 151.68,246.31 151.9,246.43 152.11,245.99 152.32,246.11 152.53,246.73 152.74,246.53 152.95,246.2 153.16,246.19 153.37,246.57 153.58,246.11 153.79,246.68 154,246.15 154.21,246.91 154.42,246.18 154.63,245.63 154.84,245.71 155.06,246.32 155.27,246.84 155.48,245.69 155.69,245.25 155.9,245.31 156.11,245 156.32,245.18 156.53,244.58 156.74,244.44 156.95,244.05 157.16,243.42 157.37,242.4 157.58,242.32 157.79,242.29 158,241.76 158.22,241.7 158.43,241.35 158.64,240.95 158.85,241.36 159.06,240.78 159.27,241.1 159.48,240.67 159.69,241.44 159.9,241.28 160.11,241.81 160.32,241.62 160.53,242.54 160.74,242.37 160.95,242.67 161.16,243.05 161.38,242.8 161.59,242.84 161.8,243.02 162.01,243.18 162.22,243.09 162.43,243.09 162.64,242.53 162.85,242.66 163.06,242.4 163.27,242.5 163.48,242.24 163.69,242.79 163.9,242.76 164.11,242.88 164.32,243.11 164.54,242.89 164.75,243.08 164.96,243.18 165.17,243.38 165.38,243.28 165.59,244.16 165.8,243.69 166.01,244.01 166.22,244.3 166.43,244.32 166.64,244.16 166.85,244.15 167.06,244.53 167.27,244.3 167.48,244.45 167.7,244.29 167.91,244.33 168.12,244.43 168.33,244.79 168.54,245.05 168.75,244.32 168.96,245.01 169.17,244.55 169.38,244.81 169.59,244.38 169.8,244.96 170.01,245.08 170.22,245.67 170.43,244.93 170.64,245.19 170.86,245.44 171.07,245.46 171.28,245.04 171.49,245.38 171.7,245.33 171.91,245.73 172.12,245.64 172.33,245.53 172.54,245.96 172.75,245.56 172.96,246.08 173.17,245.48 173.38,246.28 173.59,246.3 173.8,246.16 174.02,246.34 174.23,246.3 174.44,246.31 174.65,245.96 174.86,246.49 175.07,246.01 175.28,246.12 175.49,246.35 175.7,246.47 175.91,245.84 176.12,247.18 176.33,246.57 176.54,246.47 176.75,246.28 176.96,246.43 177.18,246.17 177.39,246.28 177.6,246.12 177.81,246.63 178.02,246.31 178.23,245.95 178.44,246.64 178.65,246.39 178.86,246.87 179.07,246.33 179.28,246.69 179.49,246.26 179.7,246.8 179.91,246.44 180.12,246.77 180.34,246.47 180.55,246.33 180.76,245.77 180.97,246.33 181.18,246.31 181.39,245.9 181.6,246.13 181.81,246.78 182.02,246.3 182.23,246.43 182.44,246.21 182.65,246.3 182.86,247 183.07,246.64 183.28,245.92 183.49,246.21 183.71,246.74 183.92,246.62 184.13,246.56 184.34,246.89 184.55,247.5 184.76,246.34 184.97,246.82 185.18,246.71 185.39,246.74 185.6,246.63 185.81,246.65 186.02,246.04 186.23,246.61 186.44,246.33 186.65,246.52 186.87,246.12 187.08,246.48 187.29,247.13 187.5,245.95 187.71,246 187.92,246.3 188.13,247 188.34,246.1 188.55,246.4 188.76,246.77 188.97,246.69 189.18,246.15 189.39,246.71 189.6,246.57 189.81,246.75 190.03,246.35 190.24,246.79 190.45,246.34 190.66,246.61 190.87,245.88 191.08,246.65 191.29,246.48 191.5,246.21 191.71,246.24 191.92,246.98 192.13,246.45 192.34,246.38 192.55,246.29 192.76,246.55 192.97,246.04 193.19,246.07 193.4,246.61 193.61,246.83 193.82,246.52 194.03,246.32 194.24,246.15 194.45,246.85 194.66,246.69 194.87,247.09 195.08,246.78 195.29,246.13 195.5,245.82 195.71,246.24 195.92,246.51 196.13,246.55 196.35,245.86 196.56,246.08 196.77,246.39 196.98,246.62 197.19,246.69 197.4,246.46 197.61,245.89 197.82,246.53 198.03,246.56 198.24,246.37 198.45,246.54 198.66,246.16 198.87,246.77 199.08,246.43 199.29,246.68 199.51,246.2 199.72,246.42 199.93,246.7 200.14,246.64 200.35,246.49 200.56,246.03 200.77,246.31 200.98,246.39 201.19,246.8 201.4,246.96 201.61,246.98 201.82,246.69 202.03,246.38 202.24,246.49 202.45,246.15 202.67,246.84 202.88,246.57 203.09,246.58 203.3,246.81 203.51,247.18 203.72,246.76 203.93,246.22 204.14,247.05 204.35,246.24 204.56,246.24 204.77,246.56 204.98,246.42 205.19,246.55 205.4,246.5 205.61,246.06 205.83,246.15 206.04,246.2 206.25,246.32 206.46,246.32 206.67,246.1 206.88,246.47 207.09,246.23 207.3,245.83 207.51,246.3 207.72,245.63 207.93,245.57 208.14,245.47 208.35,245.35 208.56,245.41 208.77,244.45 208.99,245.58 209.2,245.11 209.41,245.32 209.62,244.56 209.83,244.28 210.04,243.89 210.25,244.57 210.46,243.48 210.67,243.31 210.88,242.4 211.09,241.52 211.3,241.53 211.51,240.47 211.72,239.96 211.93,239 212.15,238.21 212.36,238.26 212.57,233.84 212.78,230.24 212.99,226.52 213.2,222.15 213.41,218.02 213.62,214.19 213.83,206.75 214.04,198.6 214.25,191.56 214.46,183.85 214.67,176.34 214.88,169.32 215.09,165.14 215.31,162.37 215.52,159.03 215.73,155.9 215.94,152.32 216.15,148.67 216.36,147.9 216.57,147 216.78,146.1 216.99,145.78 217.2,144.74 217.41,143.77 217.62,144.77 217.83,145.97 218.04,146.54 218.25,147.75 218.47,148.12 218.68,149.64 218.89,150.27 219.1,151.92 219.31,152.31 219.52,152.91 219.73,154.16 219.94,154.93 220.15,154.18 220.36,153.46 220.57,152.33 220.78,151.47 220.99,150.6 221.2,150.02 221.41,149.1 221.63,148.92 221.84,147.16 222.05,146.63 222.26,145.66 222.47,144.29 222.68,143.6 222.89,142.65 223.1,142.12 223.31,140.86 223.52,140.12 223.73,139.18 223.94,138.39 224.15,136.97 224.36,139.09 224.57,139.95 224.79,141.2 225,142.27 225.21,143.67 225.42,145.25 225.63,149.63 225.84,153.79 226.05,158.51 226.26,163.54 226.47,167.94 226.68,176.11 226.89,183.73 227.1,192.33 227.31,199.87 227.52,207.83 227.73,213.11 227.95,216.62 228.16,222.52 228.37,226.32 228.58,229.6 228.79,231.58 229,231.92 229.21,234.4 229.42,235.75 229.63,237.11 229.84,232.15 230.05,236.9 230.26,235.12 230.47,235.63 230.68,234.9 230.89,237.09 231.11,240.9 231.32,231.96 231.53,239.64 231.74,235.98 231.95,239.67 232.16,236.05 232.37,240.73 232.58,233.43 232.79,236.43 233,240.67 233.21,234.08 233.42,241.75 233.63,238.94 233.84,235.97 234.05,239.05 234.27,235.42 234.48,238.22 234.69,239.28 234.9,235.55 235.11,238.88 235.32,239.78 235.53,236.33 235.74,238.93 235.95,241.96 236.16,240.66 236.37,233.85 236.58,235.25 236.79,241.79 237,238.57 237.21,237.33 237.43,240.42 237.64,238.46 237.85,241.2 238.06,240.4 238.27,238.09 238.48,239.98 238.69,240.11 238.9,240.79 239.11,243.26 239.32,242.75 239.53,241.38 239.74,241.02 239.95,242.01 240.16,238.85 240.37,243.87 240.59,243.5 240.8,242.83 241.01,241.21 241.22,243.86 241.43,242.28 241.64,242.7 241.85,243.18 242.06,241.92 242.27,241.7 242.48,241.69 242.69,244.28 242.9,241.73 243.11,242.32 243.32,243.23 243.53,242.56 243.75,243.3 243.96,243.34 244.17,243.37 244.38,241.66 244.59,244 244.8,243.68 245.01,243.08 245.22,245 245.43,242.84 245.64,243.37 245.85,242.38 246.06,244.14 246.27,244.49 246.48,244.04 246.69,243.76 246.91,245.03 247.12,243.02 247.33,244.44 247.54,245.03 247.75,243.34 247.96,244.42 248.17,244.64 248.38,244.57 248.59,244.09 248.8,245.09 249.01,244.82 249.22,244.48 249.43,244.3 249.64,245.26 249.85,244.45 250.07,245.1 250.28,245.17 250.49,244.72 250.7,244 250.91,245.36 251.12,244.71 251.33,244.87 251.54,244.87" stroke="#ffb80e"/>
<polyline points="45.09,246.58 45.3,246.33 45.51,246.9 45.72,246.49 45.93,246.42 46.14,246.12 46.35,247.08 46.56,246.7 46.77,246.69 46.98,246.19 47.19,245.89 47.41,245.96 47.62,246.72 47.83,246.43 48.04,246.55 48.25,246.51 48.46,246.72 48.67,246.44 48.88,246.53 49.09,246.32 49.3,246.55 49.51,245.71 49.72,247.01 49.93,246.68 50.14,246.68 50.35,246.44 50.57,246.21 50.78,246.51 50.99,245.55 51.2,246.38 51.41,246.04 51.62,246.51 51.83,246.72 52.04,245.72 52.25,246.75 52.46,246.96 52.67,246.71 52.88,246.43 53.09,246.05 53.3,246.57 53.51,246.57 53.73,246.4 53.94,246.24 54.15,246.74 54.36,246.39 54.57,246.66 54.78,246.35 54.99,246.33 55.2,246.17 55.41,245.92 55.62,246.64 55.83,246.76 56.04,246.43 56.25,246.46 56.46,246.46 56.67,246.21 56.89,246.42 57.1,246.2 57.31,246.45 57.52,246.5 57.73,246.73 57.94,246.25 58.15,246.45 58.36,246.09 58.57,246.27 58.78,246.63 58.99,246.4 59.2,246.5 59.41,246.51 59.62,246.89 59.83,246.41 60.05,246.45 60.26,246.85 60.47,246.38 60.68,246.36 60.89,246.82 61.1,246.82 61.31,246.4 61.52,246.25 61.73,246.39 61.94,247.03 62.15,246.82 62.36,246.32 62.57,246.79 62.78,246.16 62.99,246.14 63.21,246.74 63.42,246.41 63.63,246.27 63.84,246.34 64.05,246.62 64.26,246.55 64.47,246.51 64.68,246 64.89,246.28 65.1,246.13 65.31,246.41 65.52,246.31 65.73,246.21 65.94,246.53 66.15,246.7 66.37,246.35 66.58,246.6 66.79,246.64 67,246.7 67.21,246.89 67.42,246.42 67.63,246.74 67.84,246.69 68.05,246.53 68.26,246.8 68.47,246.26 68.68,246.14 68.89,246.73 69.1,246.48 69.31,246.42 69.53,246.41 69.74,246.28 69.95,246.17 70.16,246.44 70.37,245.99 70.58,246.76 70.79,246.44 71,245.8 71.21,246.16 71.42,245.87 71.63,245.55 71.84,245.33 72.05,246.11 72.26,245.93 72.47,245.84 72.69,245.75 72.9,245.37 73.11,245.95 73.32,245.14 73.53,245.18 73.74,244.62 73.95,245.43 74.16,244.67 74.37,244.88 74.58,244.88 74.79,244.31 75,244.21 75.21,244.79 75.42,244.04 75.63,244.29 75.85,244.25 76.06,244.2 76.27,244.02 76.48,244.12 76.69,243.87 76.9,244.6 77.11,243.56 77.32,243.73 77.53,243.98 77.74,243.7 77.95,243.9 78.16,243.68 78.37,243.58 78.58,243.8 78.79,244.92 79.01,243.66 79.22,244.11 79.43,244 79.64,244.53 79.85,244.43 80.06,244.54 80.27,244.4 80.48,244.45 80.69,244.66 80.9,244.8 81.11,244.71 81.32,244.74 81.53,244.97 81.74,245.38 81.95,245.12 82.17,245.64 82.38,245.47 82.59,245.19 82.8,246.16 83.01,246.14 83.22,246.54 83.43,245.36 83.64,245.95 83.85,245.91 84.06,246.03 84.27,246.2 84.48,246.47 84.69,246.17 84.9,246.57 85.11,246.12 85.33,245.86 85.54,245.68 85.75,246.66 85.96,246.53 86.17,246.7 86.38,246.95 86.59,246.81 86.8,246.52 87.01,246.18 87.22,246.12 87.43,246.77 87.64,246.3 87.85,246.57 88.06,246.44 88.27,246.2 88.49,246.22 88.7,246.23 88.91,246.42 89.12,246.43 89.33,246.43 89.54,246.33 89.75,246.54 89.96,246.38 90.17,246.47 90.38,246.1 90.59,246.8 90.8,246.63 91.01,246.49 91.22,246.54 91.43,247.19 91.65,246.19 91.86,246.07 92.07,247.02 92.28,246.92 92.49,246.12 92.7,246.97 92.91,246.48 93.12,246.54 93.33,246.64 93.54,246.41 93.75,246.84 93.96,247 94.17,246.7 94.38,246.57 94.59,246.46 94.81,246.27 95.02,246.07 95.23,246.36 95.44,246.54 95.65,246.38 95.86,246.88 96.07,246.74 96.28,246.75 96.49,246.99 96.7,246.29 96.91,246.84 97.12,246.95 97.33,246.82 97.54,246.08 97.75,246.15 97.96,246.45 98.18,246.33 98.39,247.08 98.6,246.8 98.81,246.44 99.02,246.84 99.23,246.96 99.44,246.75 99.65,246.3 99.86,246.09 100.07,246.84 100.28,246.12 100.49,246.91 100.7,246.5 100.91,246.55 101.12,246.64 101.34,246.02 101.55,246.29 101.76,246.51 101.97,246.21 102.18,246.73 102.39,246.4 102.6,246.05 102.81,246.31 103.02,245.8 103.23,246.67 103.44,246.67 103.65,246.34 103.86,246.27 104.07,246.32 104.28,245.69 104.5,245.97 104.71,246.33 104.92,246.19 105.13,245.81 105.34,246.27 105.55,245.74 105.76,246.12 105.97,245.78 106.18,245.65 106.39,245.88 106.6,245.28 106.81,244.98 107.02,244.53 107.23,244.06 107.44,244.02 107.66,244.12 107.87,243.54 108.08,243.4 108.29,242.9 108.5,242.26 108.71,241.99 108.92,241.47 109.13,241.01 109.34,240.22 109.55,238.94 109.76,237.61 109.97,236.72 110.18,235.12 110.39,232.99 110.6,230.81 110.82,229.49 111.03,227.1 111.24,222.88 111.45,219.96 111.66,215.84 111.87,212.81 112.08,209.19 112.29,206.65 112.5,203.94 112.71,201.9 112.92,199.76 113.13,197.42 113.34,195.16 113.55,193.18 113.76,191.89 113.98,188.78 114.19,186.48 114.4,183.44 114.61,180.67 114.82,178.68 115.03,175.04 115.24,173.61 115.45,171.2 115.66,170.59 115.87,169.03 116.08,167.21 116.29,167.03 116.5,166.6 116.71,167.03 116.92,166.98 117.14,165.58 117.35,163 117.56,162.18 117.77,161.38 117.98,159.69 118.19,158.32 118.4,156.44 118.61,155.35 118.82,154.14 119.03,152.28 119.24,150.31 119.45,148.89 119.66,147.52 119.87,147.57 120.08,147.58 120.3,148.53 120.51,151.8 120.72,154.52 120.93,156.61 121.14,160.1 121.35,162.44 121.56,165.75 121.77,168.6 121.98,171.54 122.19,177.4 122.4,184.45 122.61,191.89 122.82,196.03 123.03,201.61 123.24,206.59 123.46,210.4 123.67,214.42 123.88,217.69 124.09,220.98 124.3,224.22 124.51,228.43 124.72,230.15 124.93,232.51 125.14,233.52 125.35,235.52 125.56,237.35 125.77,238.18 125.98,239.22 126.19,239.59 126.4,240.84 126.62,241.56 126.83,242.12 127.04,241.96 127.25,242.92 127.46,241.86 127.67,243.24 127.88,243.75 128.09,243.47 128.3,244.03 128.51,243.82 128.72,244.01 128.93,244.83 129.14,244.47 129.35,244.89 129.56,244.74 129.78,245.07 129.99,245.06 130.2,245.02 130.41,244.78 130.62,245.45 130.83,245.18 131.04,245.04 131.25,245.87 131.46,245.38 131.67,245.86 131.88,245.7 132.09,245.71 132.3,245.97 132.51,245.48 132.72,245.6 132.94,245.98 133.15,246.08 133.36,246.09 133.57,245.99 133.78,246.04 133.99,246.67 134.2,246.08 134.41,246.18 134.62,246.49 134.83,246.66 135.04,246.98 135.25,246.41 135.46,246.72 135.67,246.65 135.88,245.73 136.1,246.96 136.31,247.11 136.52,246.29 136.73,247.07 136.94,246.69 137.15,246.52 137.36,246.82 137.57,246.17 137.78,246.52 137.99,246.49 138.2,246.75 138.41,246.85 138.62,246.61 138.83,245.96 139.04,246.56 139.26,246.37 139.47,246.39 139.68,246.81 139.89,246.3 140.1,246.7 140.31,247.07 140.52,247.1 140.73,246.34 140.94,245.95 141.15,246.33 141.36,246.2 141.57,246.88 141.78,247.43 141.99,245.99 142.2,246.23 142.42,247.03 142.63,246.46 142.84,246.54 143.05,246.57 143.26,246.86 143.47,246.41 143.68,246.31 143.89,246.95 144.1,246.41 144.31,246.98 144.52,246.32 144.73,246.6 144.94,246.25 145.15,246.38 145.36,247.03 145.58,246.85 145.79,246.5 146,246.35 146.21,246.15 146.42,246.89 146.63,246.57 146.84,245.79 147.05,246.49 147.26,246.81 147.47,247.07 147.68,246.39 147.89,246.24 148.1,246.76 148.31,246.26 148.52,246.18 148.74,246.08 148.95,246.31 149.16,246.6 149.37,246.74 149.58,246.23 149.79,246.93 150,246.04 150.21,246.32 150.42,246.6 150.63,247.08 150.84,246.78 151.05,246.98 151.26,246.85 151.47,246.37 151.68,245.83 151.9,246.84 152.11,246.77 152.32,245.88 152.53,246.49 152.74,246.4 152.95,246.72 153.16,246.02 153.37,246.47 153.58,246.25 153.79,246.21 154,245.97 154.21,246.29 154.42,246.56 154.63,246.15 154.84,246.27 155.06,246.7 155.27,246.24 155.48,246.39 155.69,245.8 155.9,245.71 156.11,245.44 156.32,245.59 156.53,244.63 156.74,244.43 156.95,243.82 157.16,244.18 157.37,243.62 157.58,243.34 157.79,242.68 158,242.75 158.22,242.12 158.43,242.42 158.64,241.8 158.85,241.81 159.06,241.84 159.27,241.91 159.48,241.97 159.69,241.77 159.9,241.9 160.11,242.11 160.32,242.53 160.53,242.92 160.74,243.13 160.95,243.18 161.16,243.25 161.38,243.51 161.59,243.78 161.8,243.79 162.01,243.26 162.22,243.71 162.43,243.5 162.64,243.6 162.85,243.36 163.06,243.52 163.27,243.08 163.48,243.37 163.69,243.8 163.9,243.49 164.11,243.88 164.32,243.73 164.54,243.43 164.75,244.22 164.96,243.74 165.17,244.04 165.38,243.82 165.59,244.24 165.8,244.07 166.01,244.43 166.22,244.2 166.43,244.58 166.64,244.96 166.85,244.74 167.06,244.85 167.27,244.37 167.48,245.18 167.7,245.44 167.91,244.62 168.12,245.22 168.33,245.56 168.54,245.35 168.75,245.32 168.96,245.24 169.17,244.47 169.38,245.24 169.59,245.02 169.8,245.1 170.01,245.47 170.22,245.88 170.43,244.84 170.64,245.62 170.86,245.79 171.07,245.43 171.28,245.93 171.49,245.9 171.7,245.5 171.91,246.01 172.12,245.87 172.33,246.11 172.54,245.59 172.75,246.6 172.96,247.01 173.17,246.18 173.38,246.35 173.59,245.42 173.8,246.3 174.02,246.32 174.23,246.15 174.44,246.32 174.65,246.24 174.86,246.72 175.07,246.56 175.28,246.03 175.49,246.85 175.7,246.61 175.91,246.39 176.12,246.28 176.33,246.5 176.54,246.32 176.75,246.27 176.96,246.48 177.18,246.74 177.39,246.38 177.6,246.7 177.81,246.69 178.02,246.14 178.23,246.38 178.44,246.86 178.65,247.06 178.86,246.77 179.07,246.45 179.28,246.34 179.49,246.53 179.7,245.91 179.91,246.56 180.12,246.83 180.34,246.56 180.55,246.24 180.76,246.39 180.97,246.42 181.18,246.12 181.39,246.2 181.6,246.04 181.81,246.65 182.02,246.39 182.23,246.43 182.44,246.46 182.65,245.93 182.86,246.35 183.07,246.35 183.28,246.85 183.49,246.58 183.71,246.33 183.92,246.44 184.13,246.78 184.34,246.29 184.55,246.49 184.76,246.16 184.97,246.28 185.18,246.17 185.39,246.74 185.6,246.67 185.81,246.2 186.02,245.57 186.23,246.24 186.44,246.27 186.65,246.56 186.87,245.82 187.08,246.35 187.29,246.44 187.5,246.31 187.71,246.58 187.92,246.23 188.13,246.39 188.34,246.49 188.55,246.87 188.76,246.78 188.97,246.55 189.18,247.13 189.39,246.72 189.6,246.46 189.81,246.47 190.03,245.81 190.24,247.08 190.45,246.54 190.66,246.6 190.87,246.39 191.08,246.56 191.29,246.72 191.5,246.42 191.71,246.57 191.92,245.83 192.13,246.59 192.34,246.34 192.55,246.2 192.76,246.35 192.97,246.53 193.19,246.5 193.4,246.54 193.61,246.74 193.82,246.46 194.03,245.98 194.24,246.03 194.45,246.74 194.66,246.22 194.87,246.48 195.08,246.52 195.29,246.56 195.5,246.22 195.71,246.75 195.92,246.75 196.13,246.11 196.35,247.01 196.56,246.64 196.77,246.35 196.98,246.5 197.19,246.57 197.4,245.91 197.61,246.07 197.82,246.37 198.03,246.17 198.24,246.49 198.45,246.57 198.66,246.1 198.87,246.05 199.08,246.83 199.29,246 199.51,245.83 199.72,246.17 199.93,246.81 200.14,246.24 200.35,246.65 200.56,246.09 200.77,246.46 200.98,246.49 201.19,246.73 201.4,246.48 201.61,246.41 201.82,246.88 202.03,246.65 202.24,246.77 202.45,246.15 202.67,246.42 202.88,246.62 203.09,246.15 203.3,246.44 203.51,246.54 203.72,246.59 203.93,246.12 204.14,246.44 204.35,247 204.56,246.66 204.77,246.56 204.98,247.19 205.19,246.19 205.4,246.09 205.61,246.75 205.83,246.15 206.04,246.32 206.25,246.32 206.46,246.58 206.67,245.67 206.88,246.04 207.09,246.29 207.3,245.74 207.51,245.86 207.72,246.08 207.93,245.51 208.14,245.54 208.35,246.17 208.56,245.5 208.77,245.28 208.99,245.05 209.2,244.9 209.41,245.12 209.62,244.99 209.83,245.34 210.04,244.95 210.25,245.05 210.46,244.09 210.67,243.48 210.88,243.53 211.09,243.53 211.3,242.27 211.51,241.57 211.72,241.47 211.93,241.33 212.15,240.2 212.36,240.16 212.57,236.88 212.78,233.95 212.99,230.66 213.2,228.28 213.41,224.48 213.62,221.75 213.83,215.86 214.04,211.5 214.25,206.52 214.46,200.56 214.67,195.63 214.88,189.86 215.09,187.96 215.31,184.58 215.52,182.29 215.73,179.59 215.94,177.32 216.15,175.18 216.36,173.81 216.57,173.12 216.78,172.41 216.99,172.4 217.2,171.57 217.41,170.81 217.62,172.15 217.83,172.96 218.04,173.93 218.25,174.68 218.47,176.52 218.68,176.48 218.89,177.92 219.1,178.9 219.31,180.09 219.52,180.59 219.73,181.69 219.94,182.86 220.15,181.66 220.36,181.21 220.57,179.86 220.78,179.44 220.99,178.36 221.2,176.77 221.41,176.59 221.63,175.7 221.84,174.61 222.05,173.55 222.26,172.52 222.47,171.73 222.68,170.83 222.89,169.89 223.1,168.18 223.31,168.53 223.52,167.02 223.73,165.92 223.94,165.55 224.15,164.14 224.36,165.11 224.57,167.06 224.79,166.6 225,167.84 225.21,168.96 225.42,170.32 225.63,173.57 225.84,177.18 226.05,180.64 226.26,183.54 226.47,187.98 226.68,194.09 226.89,199.66 227.1,205.32 227.31,211.94 227.52,217.48 227.73,221.49 227.95,223.87 228.16,228.42 228.37,232.21 228.58,235.12 228.79,237.55 229,237.58 229.21,238.03 229.42,237.05 229.63,235.98 229.84,237.46 230.05,239.42 230.26,238.69 230.47,240.86 230.68,236.63 230.89,239.3 231.11,238.71 231.32,241.37 231.53,241.54 231.74,242.06 231.95,241.98 232.16,241.11 232.37,238.68 232.58,241.69 232.79,239.66 233,239.37 233.21,240.14 233.42,239.06 233.63,243.71 233.84,240.78 234.05,241.27 234.27,238.77 234.48,240.53 234.69,241.93 234.9,241.01 235.11,241.16 235.32,238.63 235.53,241.59 235.74,240.43 235.95,242.19 236.16,240.96 236.37,241.07 236.58,241.11 236.79,241.92 237,239.9 237.21,240.7 237.43,241.15 237.64,242.47 237.85,240.87 238.06,241.71 238.27,241.13 238.48,241.23 238.69,242.62 238.9,241.85 239.11,240.49 239.32,242.04 239.53,243.7 239.74,243.05 239.95,241.93 240.16,241.91 240.37,244.12 240.59,242.25 240.8,242.26 241.01,242.17 241.22,243.95 241.43,243.22 241.64,242.24 241.85,242.89 242.06,244.11 242.27,244.81 242.48,244.24 242.69,243.53 242.9,244.67 243.11,244.11 243.32,243.6 243.53,242.81 243.75,244.41 243.96,243.14 244.17,244.52 244.38,244.28 244.59,244.14 244.8,244.41 245.01,244.24 245.22,244.5 245.43,244 245.64,244.63 245.85,243.5 246.06,244.81 246.27,244.79 246.48,244.54 246.69,245.34 246.91,244.87 247.12,245.02 247.33,243.83 247.54,244.05 247.75,244.78 247.96,244.88 248.17,245.36 248.38,245.21 248.59,244.68 248.8,245.17 249.01,244.59 249.22,245.22 249.43,244.85 249.64,245.4 249.85,244.55 250.07,245.67 250.28,246.11 250.49,245 250.7,245.63 250.91,245.98 251.12,244.61 251.33,245.97 251.54,245.98" stroke="#19e619"/>
<polyline points="45.09,246.86 45.3,246.53 45.51,246.48 45.72,246.18 45.93,247.17 46.14,246.12 46.35,246.23 46.56,246.31 46.77,246.92 46.98,246.97 47.19,246.18 47.41,246.59 47.62,246.19 47.83,246.86 48.04,246.29 48.25,246.33 48.46,246.91 48.67,246.59 48.88,245.95 49.09,246.73 49.3,246.16 49.51,246.5 49.72,246.79 49.93,246.67 50.14,246.82 50.35,245.96 50.57,246.98 50.78,246.87 50.99,246.5 51.2,246.2 51.41,246.91 51.62,246.78 51.83,246.58 52.04,246.61 52.25,246.49 52.46,246.71 52.67,246.52 52.88,246.28 53.09,246.87 53.3,247.01 53.51,246.74 53.73,246.47 53.94,245.7 54.15,246.25 54.36,246.35 54.57,247.41 54.78,247.09 54.99,246.31 55.2,246.69 55.41,246.73 55.62,246.27 55.83,246.14 56.04,246.34 56.25,246.45 56.46,247.07 56.67,246.58 56.89,246.25 57.1,246.57 57.31,246.97 57.52,247.26 57.73,246.62 57.94,246.34 58.15,246.74 58.36,246.58 58.57,246.38 58.78,246.67 58.99,246.55 59.2,246.71 59.41,246.74 59.62,246.36 59.83,246.33 60.05,246.58 60.26,246.95 60.47,246.38 60.68,246.26 60.89,246.28 61.1,246.29 61.31,246.5 61.52,246.58 61.73,246.34 61.94,246.31 62.15,246.31 62.36,246.77 62.57,247.06 62.78,246.39 62.99,246.4 63.21,246.42 63.42,246.34 63.63,246.97 63.84,246.69 64.05,246.3 64.26,246.65 64.47,246.55 64.68,246.06 64.89,246.27 65.1,246.65 65.31,246.41 65.52,246.72 65.73,246.36 65.94,246.9 66.15,247 66.37,246.02 66.58,246.18 66.79,246.76 67,246.34 67.21,247.22 67.42,246.46 67.63,246.13 67.84,246.23 68.05,246.41 68.26,246.47 68.47,246.37 68.68,245.8 68.89,246.56 69.1,246.34 69.31,246.16 69.53,246.65 69.74,245.9 69.95,246.94 70.16,246.4 70.37,246.44 70.58,246.3 70.79,246.65 71,246.34 71.21,246.1 71.42,246.4 71.63,245.84 71.84,246.67 72.05,246.07 72.26,245.48 72.47,246.21 72.69,245.84 72.9,245.92 73.11,245.92 73.32,245.48 73.53,246.03 73.74,245.4 73.95,245.92 74.16,245.5 74.37,245.12 74.58,245.47 74.79,245.22 75,244.48 75.21,245.05 75.42,244.96 75.63,244.79 75.85,244.76 76.06,244.89 76.27,244.93 76.48,244.74 76.69,244.68 76.9,244.35 77.11,244.72 77.32,244.49 77.53,244.13 77.74,245.24 77.95,244.81 78.16,244.84 78.37,244.84 78.58,244.39 78.79,244.94 79.01,244.84 79.22,244.43 79.43,245.64 79.64,245.43 79.85,245.46 80.06,245.16 80.27,245.07 80.48,245.56 80.69,244.94 80.9,244.93 81.11,245.74 81.32,245.73 81.53,245.94 81.74,245.5 81.95,245.89 82.17,245.52 82.38,245.53 82.59,245.92 82.8,246.23 83.01,246.8 83.22,245.97 83.43,245.96 83.64,246.14 83.85,246.45 84.06,245.9 84.27,246.28 84.48,246.08 84.69,246.07 84.9,246.03 85.11,246.15 85.33,246.86 85.54,246.28 85.75,246.44 85.96,246.58 86.17,246.71 86.38,246.74 86.59,246.6 86.8,246.55 87.01,246.45 87.22,247.05 87.43,246.75 87.64,246.28 87.85,246.15 88.06,246.57 88.27,246.64 88.49,245.92 88.7,246.81 88.91,246.18 89.12,246.24 89.33,246.38 89.54,246.17 89.75,246.29 89.96,246.54 90.17,246.27 90.38,245.72 90.59,246.44 90.8,246.18 91.01,245.91 91.22,246.77 91.43,246.5 91.65,246.79 91.86,246.45 92.07,246.65 92.28,246.13 92.49,246.58 92.7,246.28 92.91,246.43 93.12,246.35 93.33,246.77 93.54,246.2 93.75,246.52 93.96,246.55 94.17,246.73 94.38,246.35 94.59,246.64 94.81,246.72 95.02,246.5 95.23,247.18 95.44,246.13 95.65,246.64 95.86,246.2 96.07,246.87 96.28,247.12 96.49,246.78 96.7,246.38 96.91,246.11 97.12,246.07 97.33,246.15 97.54,246.73 97.75,246.66 97.96,246.38 98.18,246.27 98.39,246.79 98.6,246.79 98.81,246.91 99.02,246.13 99.23,246.78 99.44,246.41 99.65,246.47 99.86,246.35 100.07,246.97 100.28,246.48 100.49,246.22 100.7,246.31 100.91,246.61 101.12,246.26 101.34,246.42 101.55,246.59 101.76,246.47 101.97,245.79 102.18,246.64 102.39,246.96 102.6,246.26 102.81,246.22 103.02,246.29 103.23,246.47 103.44,246.11 103.65,245.79 103.86,245.93 104.07,247.01 104.28,246.61 104.5,246.26 104.71,246.99 104.92,245.76 105.13,246.05 105.34,246.52 105.55,246.57 105.76,245.89 105.97,246.33 106.18,246.12 106.39,246.45 106.6,246.36 106.81,246.07 107.02,245.82 107.23,245.48 107.44,245.79 107.66,245.3 107.87,245.58 108.08,245.61 108.29,245.38 108.5,245.3 108.71,245.44 108.92,245.48 109.13,244.4 109.34,244.13 109.55,243.62 109.76,243.98 109.97,243.24 110.18,242.95 110.39,241.53 110.6,240.82 110.82,240.54 111.03,239.57 111.24,239.2 111.45,237.55 111.66,236.19 111.87,234.84 112.08,233.82 112.29,232.85 112.5,232.19 112.71,231.59 112.92,230.33 113.13,230.17 113.34,229.14 113.55,228.51 113.76,228.36 113.98,227.26 114.19,225.59 114.4,225.33 114.61,224.23 114.82,223.68 115.03,222.31 115.24,221.73 115.45,220.85 115.66,220.48 115.87,220.61 116.08,219.95 116.29,219.66 116.5,220.09 116.71,219.68 116.92,219.68 117.14,218.94 117.35,218.99 117.56,218.07 117.77,217.46 117.98,217.42 118.19,216.92 118.4,216.04 118.61,215.9 118.82,215.06 119.03,214.32 119.24,214.57 119.45,213.5 119.66,212.74 119.87,213.5 120.08,213.25 120.3,213.43 120.51,214.64 120.72,215.39 120.93,216.74 121.14,217.36 121.35,218.56 121.56,219.07 121.77,220.24 121.98,221.19 122.19,222.99 122.4,225.53 122.61,228.2 122.82,229.74 123.03,231.54 123.24,232.82 123.46,234.05 123.67,235.01 123.88,236.5 124.09,238.13 124.3,238.83 124.51,240.54 124.72,241.29 124.93,241.82 125.14,242.04 125.35,243.3 125.56,243.28 125.77,243.73 125.98,243.43 126.19,244.2 126.4,244.57 126.62,245.04 126.83,245.21 127.04,244.97 127.25,245.55 127.46,246.02 127.67,245.47 127.88,245.43 128.09,245.54 128.3,245.67 128.51,245.91 128.72,246.19 128.93,245.37 129.14,245.62 129.35,245.77 129.56,246.06 129.78,246.18 129.99,246.05 130.2,245.82 130.41,246.02 130.62,246.08 130.83,245.93 131.04,246.35 131.25,246.44 131.46,246.33 131.67,246.29 131.88,245.71 132.09,245.57 132.3,246.6 132.51,246.54 132.72,246.31 132.94,246.92 133.15,246.53 133.36,245.95 133.57,246.6 133.78,246.53 133.99,246.08 134.2,245.88 134.41,246.5 134.62,246.45 134.83,246.37 135.04,246.2 135.25,247.03 135.46,246.4 135.67,246.62 135.88,246.4 136.1,246.3 136.31,247.21 136.52,246.18 136.73,246.47 136.94,246.59 137.15,246.33 137.36,246.33 137.57,245.85 137.78,246.25 137.99,246.23 138.2,246.4 138.41,246.27 138.62,246.75 138.83,246.25 139.04,246.42 139.26,246.23 139.47,246.21 139.68,246.91 139.89,246.35 140.1,246.26 140.31,246.17 140.52,247.08 140.73,246.36 140.94,246.9 141.15,246.71 141.36,246.39 141.57,246.32 141.78,246.46 141.99,246.59 142.2,246.62 142.42,246.26 142.63,246.24 142.84,246.45 143.05,247.02 143.26,247.18 143.47,246.98 143.68,246.64 143.89,246.26 144.1,246.62 144.31,246.66 144.52,246.55 144.73,246.58 144.94,246.64 145.15,246.75 145.36,246.72 145.58,246.57 145.79,246.5 146,246.68 146.21,246.25 146.42,246.84 146.63,246.36 146.84,246.72 147.05,246.32 147.26,246.82 147.47,246.51 147.68,246.21 147.89,246.26 148.1,246.76 148.31,246.69 148.52,246.86 148.74,246.61 148.95,246.98 149.16,246.63 149.37,246.77 149.58,246.54 149.79,246.59 150,246.54 150.21,246.51 150.42,246.22 150.63,246.59 150.84,246.67 151.05,246.18 151.26,247.45 151.47,246.81 151.68,246.82 151.9,246.04 152.11,246.32 152.32,246.34 152.53,246.5 152.74,246.39 152.95,246.07 153.16,247.01 153.37,246.76 153.58,246.34 153.79,246.72 154,246.21 154.21,246.19 154.42,246.06 154.63,246.86 154.84,246.26 155.06,245.93 155.27,246.3 155.48,245.77 155.69,246.04 155.9,246.18 156.11,245.15 156.32,245.93 156.53,245.25 156.74,245.11 156.95,245.02 157.16,244.78 157.37,244.89 157.58,244.04 157.79,244.24 158,243.13 158.22,243.66 158.43,243.89 158.64,243.18 158.85,242.97 159.06,242.86 159.27,243.34 159.48,243.31 159.69,243.42 159.9,243.3 160.11,243.18 160.32,243.44 160.53,243.98 160.74,244.04 160.95,244.13 161.16,244.37 161.38,244.59 161.59,244.46 161.8,244.2 162.01,244.22 162.22,244.7 162.43,244.28 162.64,244.43 162.85,244.25 163.06,244.12 163.27,244.19 163.48,244.05 163.69,244.14 163.9,244.12 164.11,244.45 164.32,244.98 164.54,245.2 164.75,244.65 164.96,244.74 165.17,245.23 165.38,245.27 165.59,245.6 165.8,244.63 166.01,245.79 166.22,245.8 166.43,245.03 166.64,245 166.85,245.49 167.06,245.2 167.27,245.21 167.48,245.58 167.7,244.62 167.91,245.27 168.12,245.31 168.33,245.45 168.54,245.33 168.75,245.77 168.96,245.52 169.17,245.47 169.38,245.44 169.59,245.68 169.8,245.52 170.01,245.78 170.22,245.23 170.43,246.05 170.64,246.18 170.86,245.8 171.07,245.62 171.28,246.05 171.49,245.91 171.7,245.98 171.91,245.93 172.12,245.62 172.33,246.45 172.54,246.38 172.75,246.2 172.96,246.33 173.17,246.17 173.38,245.79 173.59,246.13 173.8,246.49 174.02,246.13 174.23,246.2 174.44,245.78 174.65,246.71 174.86,246.33 175.07,246.12 175.28,246.19 175.49,246.38 175.7,246.66 175.91,246.74 176.12,246.77 176.33,246.41 176.54,246.33 176.75,246.57 176.96,246.68 177.18,246.43 177.39,246.96 177.6,245.74 177.81,246.72 178.02,246.4 178.23,246.48 178.44,246.48 178.65,246.38 178.86,246.81 179.07,245.89 179.28,246.4 179.49,246.95 179.7,246.03 179.91,246.26 180.12,246.49 180.34,246.4 180.55,246.72 180.76,245.82 180.97,246.41 181.18,246.63 181.39,246.95 181.6,246.77 181.81,247.05 182.02,246.53 182.23,246.64 182.44,246.76 182.65,246.57 182.86,246.4 183.07,246.5 183.28,246.67 183.49,246.31 183.71,246.55 183.92,246.43 184.13,246.55 184.34,246.63 184.55,245.92 184.76,246.76 184.97,247.07 185.18,246.97 185.39,246.84 185.6,245.91 185.81,245.57 186.02,247.1 186.23,246.2 186.44,246.51 186.65,245.88 186.87,246.35 187.08,246.65 187.29,246.19 187.5,246.42 187.71,246.43 187.92,247.03 188.13,246.38 188.34,246.41 188.55,246.45 188.76,246.55 188.97,246.34 189.18,246.53 189.39,246.88 189.6,246.37 189.81,246.92 190.03,246.4 190.24,246.43 190.45,245.92 190.66,246.19 190.87,246.12 191.08,246.16 191.29,246.6 191.5,246.23 191.71,246.2 191.92,246.83 192.13,246.63 192.34,246 192.55,245.96 192.76,245.9 192.97,246.07 193.19,247.1 193.4,246.73 193.61,247.02 193.82,246.94 194.03,246.29 194.24,246.65 194.45,246.73 194.66,246.75 194.87,246.72 195.08,246.84 195.29,246.89 195.5,246.2 195.71,246.51 195.92,247.03 196.13,246.68 196.35,246.51 196.56,246.76 196.77,246.34 196.98,246.67 197.19,246.39 197.4,246.31 197.61,246.46 197.82,246.6 198.03,246.32 198.24,246.2 198.45,246.06 198.66,246.35 198.87,246.95 199.08,246.05 199.29,246.97 199.51,246.82 199.72,245.81 199.93,246.38 200.14,245.84 200.35,246.47 200.56,246.52 200.77,247.18 200.98,246.51 201.19,246.29 201.4,246.38 201.61,245.71 201.82,246.21 202.03,246.31 202.24,246.14 202.45,246.32 202.67,246.28 202.88,246.69 203.09,247.05 203.3,246.55 203.51,246.6 203.72,246.4 203.93,246.24 204.14,246.49 204.35,246.89 204.56,246.42 204.77,246.21 204.98,246.82 205.19,246.22 205.4,246.7 205.61,246.65 205.83,246.05 206.04,246.52 206.25,246.15 206.46,246.14 206.67,246.23 206.88,245.68 207.09,245.99 207.3,245.81 207.51,245.95 207.72,246.58 207.93,246.58 208.14,246.04 208.35,245.82 208.56,245.29 208.77,245.45 208.99,245.84 209.2,245.64 209.41,245.53 209.62,245.41 209.83,245.37 210.04,245.69 210.25,245.2 210.46,244.91 210.67,244.84 210.88,243.9 211.09,243.82 211.3,243.36 211.51,243.47 211.72,243.82 211.93,242.57 212.15,242.8 212.36,242.53 212.57,240.59 212.78,238.7 212.99,236.3 213.2,234.68 213.41,232.86 213.62,230.8 213.83,227.47 214.04,224.64 214.25,221.34 214.46,217.8 214.67,215.11 214.88,211.88 215.09,210.18 215.31,209.41 215.52,206.82 215.73,205.15 215.94,204.67 216.15,202.57 216.36,201.97 216.57,201.8 216.78,201.17 216.99,201.03 217.2,200.63 217.41,199.97 217.62,200.7 217.83,201.08 218.04,202.02 218.25,202.5 218.47,203.05 218.68,203.42 218.89,203.76 219.1,204.71 219.31,205.31 219.52,205.98 219.73,205.99 219.94,206.88 220.15,206.35 220.36,205.31 220.57,204.7 220.78,203.72 220.99,203.2 221.2,202.45 221.41,202.04 221.63,201.38 221.84,199.98 222.05,199.76 222.26,199.38 222.47,198.05 222.68,197.43 222.89,196.8 223.1,196.31 223.31,195.37 223.52,194.64 223.73,194.58 223.94,193.21 224.15,193 224.36,192.65 224.57,193.58 224.79,194.72 225,195.26 225.21,195.83 225.42,196.58 225.63,198.79 225.84,201.28 226.05,202.67 226.26,205.31 226.47,207.76 226.68,211.33 226.89,215.81 227.1,218.68 227.31,223.9 227.52,227.09 227.73,230.14 227.95,232.52 228.16,234.53 228.37,236.57 228.58,239.21 228.79,239.04 229,241.97 229.21,240.67 229.42,241.22 229.63,240.28 229.84,242.19 230.05,241.78 230.26,241.52 230.47,240.46 230.68,242.18 230.89,239.86 231.11,241.62 231.32,243.79 231.53,243.65 231.74,242.8 231.95,241.91 232.16,242.8 232.37,243.28 232.58,242.44 232.79,243.38 233,243.59 233.21,242.91 233.42,242.89 233.63,244.2 233.84,242.48 234.05,242.6 234.27,244.06 234.48,244.52 234.69,241.95 234.9,241.91 235.11,242.58 235.32,243.04 235.53,243.79 235.74,242.57 235.95,244.59 236.16,243.72 236.37,243.03 236.58,243.74 236.79,243.35 237,243.38 237.21,242.3 237.43,243.86 237.64,244.86 237.85,243.97 238.06,243.88 238.27,242.95 238.48,243.11 238.69,245 238.9,244.17 239.11,243.87 239.32,244.73 239.53,244.25 239.74,243.97 239.95,243.53 240.16,243.81 240.37,245.16 240.59,244.24 240.8,245.19 241.01,244.13 241.22,243.98 241.43,245.89 241.64,244.46 241.85,244.28 242.06,243.88 242.27,244.57 242.48,244.61 242.69,244.76 242.9,244.36 243.11,244.87 243.32,245.2 243.53,244.01 243.75,244.86 243.96,245.21 244.17,245.26 244.38,244.86 244.59,245.3 244.8,245.56 245.01,245.76 245.22,243.96 245.43,244.92 245.64,245.04 245.85,246.13 246.06,245.14 246.27,245.16 246.48,245.76 246.69,245.45 246.91,245.49 247.12,245.09 247.33,245.36 247.54,246 247.75,244.93 247.96,245.4 248.17,245.8 248.38,245.85 248.59,245.33 248.8,245.98 249.01,245.57 249.22,246.31 249.43,245.64 249.64,245.89 249.85,245.67 250.07,245.65 250.28,245.9 250.49,245.82 250.7,245.74 250.91,245.9 251.12,245.88 251.33,245.36 251.54,245.68" stroke="#1e78ff"/>
<polyline points="45.09,246.32 45.3,245.74 45.51,246.15 45.72,246.88 45.93,245.84 46.14,246.75 46.35,246.3 46.56,246.96 46.77,246.32 46.98,246.35 47.19,246.9 47.41,246.89 47.62,246.2 47.83,246.27 48.04,246.76 48.25,246.51 48.46,246.35 48.67,246.8 48.88,247.02 49.09,246.49 49.3,246.49 49.51,246.34 49.72,246.74 49.93,246.75 50.14,246.73 50.35,246.51 50.57,246.09 50.78,246.45 50.99,246.7 51.2,246.06 51.41,246.57 51.62,246.22 51.83,245.98 52.04,245.92 52.25,246.69 52.46,246.78 52.67,246.78 52.88,246.43 53.09,246.16 53.3,246.87 53.51,246.63 53.73,246.59 53.94,246.68 54.15,246.34 54.36,245.95 54.57,246.63 54.78,246.67 54.99,246.73 55.2,246.58 55.41,246.27 55.62,246.66 55.83,246.11 56.04,246.53 56.25,246.84 56.46,246.59 56.67,246.34 56.89,246.55 57.1,246.85 57.31,246.38 57.52,246.78 57.73,246.65 57.94,246.28 58.15,246.27 58.36,246.37 58.57,246.73 58.78,246.04 58.99,246.62 59.2,245.67 59.41,246.73 59.62,246.79 59.83,246.57 60.05,246.22 60.26,246.86 60.47,246.42 60.68,246.82 60.89,246.53 61.1,246.21 61.31,246.21 61.52,246.75 61.73,246.44 61.94,246.36 62.15,246.69 62.36,246.65 62.57,246.52 62.78,246.41 62.99,246.46 63.21,245.59 63.42,246.67 63.63,246.57 63.84,246.15 64.05,246.35 64.26,247.22 64.47,246.55 64.68,246.19 64.89,246.49 65.1,246.7 65.31,246.45 65.52,246.08 65.73,246.37 65.94,246.72 66.15,246.79 66.37,246.9 66.58,246.38 66.79,246.13 67,246.33 67.21,246.04 67.42,246.6 67.63,245.92 67.84,246.88 68.05,246.14 68.26,246.52 68.47,246.54 68.68,246.75 68.89,246.59 69.1,246.22 69.31,246.68 69.53,246.34 69.74,246.65 69.95,246.98 70.16,246.22 70.37,246.6 70.58,246.41 70.79,245.91 71,245.89 71.21,246.61 71.42,246.32 71.63,245.99 71.84,246.37 72.05,246.7 72.26,245.88 72.47,245.57 72.69,245.98 72.9,246.3 73.11,246.46 73.32,246.32 73.53,246.21 73.74,246.16 73.95,246.31 74.16,246.2 74.37,245.72 74.58,245.99 74.79,245.87 75,245.83 75.21,245.44 75.42,245.4 75.63,245.74 75.85,246.21 76.06,245.32 76.27,245.5 76.48,245.77 76.69,245.3 76.9,245.58 77.11,245.76 77.32,245.01 77.53,245.07 77.74,246.5 77.95,245.22 78.16,245.7 78.37,245.1 78.58,246.06 78.79,245.54 79.01,245.89 79.22,245.76 79.43,245.77 79.64,245.62 79.85,246.14 80.06,246.03 80.27,245.81 80.48,246.2 80.69,245.91 80.9,246.35 81.11,246 81.32,246.46 81.53,246.61 81.74,246.21 81.95,245.71 82.17,245.92 82.38,245.8 82.59,246.08 82.8,246.26 83.01,246.08 83.22,246.64 83.43,246.34 83.64,246.59 83.85,245.96 84.06,246.25 84.27,246.55 84.48,246.39 84.69,246.13 84.9,246.44 85.11,246.38 85.33,246.28 85.54,246.46 85.75,245.73 85.96,246.33 86.17,246.67 86.38,246.65 86.59,245.71 86.8,246.41 87.01,246.8 87.22,247.02 87.43,246.28 87.64,245.68 87.85,246.28 88.06,246.56 88.27,246.1 88.49,246.57 88.7,246.58 88.91,246.56 89.12,246.65 89.33,246.92 89.54,246.42 89.75,245.82 89.96,246.93 90.17,246.83 90.38,246.33 90.59,246.58 90.8,246.52 91.01,246.4 91.22,246.29 91.43,246.43 91.65,246.28 91.86,246.25 92.07,246.66 92.28,246.21 92.49,246.46 92.7,246.82 92.91,246 93.12,246.68 93.33,246.27 93.54,246.66 93.75,246.15 93.96,246.95 94.17,246.6 94.38,246.61 94.59,246.68 94.81,245.81 95.02,246.97 95.23,246.73 95.44,246.61 95.65,246.07 95.86,246.48 96.07,246.77 96.28,246.42 96.49,246.69 96.7,246.64 96.91,245.85 97.12,246.71 97.33,246.52 97.54,246.43 97.75,247.09 97.96,246.52 98.18,246.94 98.39,247.23 98.6,246.38 98.81,246.54 99.02,246.33 99.23,247.11 99.44,245.96 99.65,246.07 99.86,246.81 100.07,246.38 100.28,246.62 100.49,246.28 100.7,246.42 100.91,246.46 101.12,246.44 101.34,246.72 101.55,246.79 101.76,246.63 101.97,246.31 102.18,246.59 102.39,246.46 102.6,246.81 102.81,246.46 103.02,246.28 103.23,246.47 103.44,246.77 103.65,245.97 103.86,246.27 104.07,246.72 104.28,246.15 104.5,246.52 104.71,246.26 104.92,246.49 105.13,246.93 105.34,246.55 105.55,245.71 105.76,246.01 105.97,246.35 106.18,246.57 106.39,246.73 106.6,246.5 106.81,246.09 107.02,245.92 107.23,245.7 107.44,246.68 107.66,246.44 107.87,246.03 108.08,246.38 108.29,245.89 108.5,246.32 108.71,245.86 108.92,246.22 109.13,245.46 109.34,245.86 109.55,245.9 109.76,245.42 109.97,245.67 110.18,244.27 110.39,245.01 110.6,245 110.82,245.36 111.03,244.29 111.24,243.91 111.45,244.18 111.66,243.76 111.87,242.9 112.08,242.36 112.29,243.07 112.5,242.72 112.71,241.97 112.92,241.38 113.13,242.13 113.34,241.49 113.55,240.79 113.76,241.2 113.98,240.55 114.19,240.34 114.4,240.3 114.61,240.47 114.82,239.65 115.03,239.48 115.24,238.98 115.45,239.53 115.66,238.8 115.87,238.17 116.08,238.83 116.29,239.24 116.5,238.67 116.71,239.23 116.92,238.7 117.14,238.39 117.35,238.31 117.56,237.88 117.77,238.31 117.98,237.93 118.19,237.69 118.4,237.81 118.61,237.7 118.82,237.29 119.03,237.23 119.24,237.19 119.45,237.08 119.66,236.83 119.87,236.77 120.08,236.72 120.3,237.53 120.51,237.44 120.72,237.66 120.93,237.46 121.14,237.79 121.35,238.54 121.56,238.86 121.77,239 121.98,239.12 122.19,240.08 122.4,240.79 122.61,241.27 122.82,241.5 123.03,241.72 123.24,242.31 123.46,243.32 123.67,243.8 123.88,243.26 124.09,244.52 124.3,244.47 124.51,244.9 124.72,244.61 124.93,245 125.14,245.21 125.35,245.33 125.56,245.96 125.77,245.7 125.98,245.86 126.19,245.47 126.4,246.18 126.62,246.18 126.83,245.04 127.04,246.05 127.25,245.8 127.46,246.13 127.67,246.22 127.88,246.25 128.09,246.67 128.3,246.69 128.51,246.54 128.72,246.39 128.93,246.27 129.14,246.58 129.35,246.43 129.56,246.59 129.78,246.21 129.99,246.6 130.2,246.37 130.41,246.38 130.62,246.83 130.83,246.43 131.04,246.85 131.25,245.79 131.46,246.61 131.67,246.46 131.88,246.92 132.09,246.39 132.3,246.06 132.51,246.42 132.72,246.55 132.94,246.29 133.15,246.33 133.36,246.11 133.57,246.76 133.78,246.06 133.99,246.41 134.2,246.06 134.41,246.35 134.62,246.5 134.83,246.04 135.04,246.71 135.25,246.54 135.46,246.78 135.67,246.16 135.88,246.17 136.1,245.96 136.31,246.83 136.52,246.4 136.73,246.77 136.94,246.27 137.15,246.63 137.36,246.96 137.57,245.84 137.78,246.16 137.99,245.92 138.2,246 138.41,246.23 138.62,246.43 138.83,246.25 139.04,246.44 139.26,246.47 139.47,247.13 139.68,246.31 139.89,246.34 140.1,246.7 140.31,246.32 140.52,246.44 140.73,246.84 140.94,246.23 141.15,246.75 141.36,246.07 141.57,246.15 141.78,246.36 141.99,246.71 142.2,246.43 142.42,246.36 142.63,246.75 142.84,246.53 143.05,246.65 143.26,246.75 143.47,246.02 143.68,246.46 143.89,246.56 144.1,246.71 144.31,246.06 144.52,246.81 144.73,245.95 144.94,246.06 145.15,247.11 145.36,246.67 145.58,245.91 145.79,246.44 146,246.69 146.21,246.26 146.42,246.58 146.63,246.35 146.84,246.68 147.05,246.2 147.26,246.18 147.47,246.25 147.68,246.76 147.89,246.67 148.1,246.69 148.31,245.66 148.52,246.83 148.74,246.48 148.95,246.98 149.16,246.08 149.37,246.92 149.58,246.61 149.79,246.42 150,246.66 150.21,245.94 150.42,246.43 150.63,246.15 150.84,246.45 151.05,246.41 151.26,246.13 151.47,246.37 151.68,246.67 151.9,246.79 152.11,245.97 152.32,246.39 152.53,246.38 152.74,246.3 152.95,246.02 153.16,246.39 153.37,246.8 153.58,246.88 153.79,246.47 154,246.95 154.21,246.14 154.42,245.99 154.63,247.07 154.84,246.55 155.06,246.68 155.27,245.55 155.48,246.5 155.69,245.78 155.9,245.55 156.11,246.07 156.32,245.89 156.53,245.47 156.74,246.55 156.95,245.8 157.16,245.63 157.37,245.97 157.58,245.7 157.79,245.15 158,245.12 158.22,245.72 158.43,244.79 158.64,244.63 158.85,244.65 159.06,244.97 159.27,245.34 159.48,245.05 159.69,245.02 159.9,245.07 160.11,245.34 160.32,245.18 160.53,245.5 160.74,245.65 160.95,245 161.16,245.49 161.38,245.73 161.59,245.24 161.8,245.42 162.01,245.68 162.22,245.5 162.43,245.12 162.64,245.74 162.85,245.3 163.06,244.99 163.27,245.24 163.48,245.05 163.69,245.84 163.9,245.47 164.11,244.78 164.32,245.33 164.54,245.03 164.75,245.57 164.96,245.4 165.17,245.34 165.38,245.21 165.59,245.68 165.8,245.34 166.01,246.02 166.22,246.2 166.43,246.15 166.64,245.82 166.85,245.96 167.06,246.23 167.27,245.97 167.48,245.87 167.7,245.65 167.91,245.84 168.12,246.38 168.33,246.1 168.54,245.62 168.75,245.59 168.96,246.28 169.17,245.99 169.38,246.22 169.59,246.23 169.8,246.16 170.01,245.96 170.22,246.04 170.43,246.26 170.64,246.45 170.86,246.37 171.07,245.37 171.28,246.08 171.49,245.52 171.7,245.74 171.91,245.99 172.12,246.22 172.33,246.76 172.54,246.23 172.75,245.74 172.96,246.74 173.17,246.51 173.38,245.99 173.59,246.4 173.8,246.08 174.02,246.45 174.23,246.33 174.44,246.52 174.65,246.57 174.86,246.51 175.07,246.3 175.28,246.5 175.49,247.12 175.7,246.47 175.91,246.02 176.12,246.57 176.33,246.92 176.54,246.58 176.75,246.95 176.96,246.13 177.18,246.43 177.39,246.41 177.6,246.6 177.81,246.33 178.02,246.51 178.23,246.1 178.44,246.29 178.65,246.95 178.86,246.83 179.07,246.57 179.28,246.34 179.49,246.59 179.7,246.85 179.91,246.77 180.12,246.59 180.34,246.06 180.55,246.81 180.76,246.7 180.97,246.4 181.18,246.46 181.39,246.39 181.6,246.38 181.81,246.31 182.02,246.16 182.23,246.6 182.44,246.05 182.65,246.51 182.86,246.62 183.07,246.64 183.28,246.25 183.49,246.15 183.71,246.73 183.92,246.26 184.13,246.36 184.34,246.74 184.55,246.48 184.76,246.26 184.97,245.97 185.18,246.39 185.39,246.59 185.6,246.63 185.81,246.67 186.02,246.17 186.23,246.71 186.44,246.56 186.65,246.69 186.87,246.41 187.08,246.28 187.29,246.12 187.5,246.02 187.71,246.55 187.92,246.71 188.13,246.16 188.34,246.34 188.55,246.44 188.76,246.52 188.97,246.36 189.18,246.77 189.39,246.64 189.6,246.51 189.81,246.36 190.03,246.32 190.24,246.6 190.45,246.45 190.66,246.42 190.87,246.21 191.08,246.3 191.29,246.71 191.5,246.27 191.71,245.81 191.92,246.94 192.13,246.29 192.34,246.6 192.55,246.92 192.76,246.37 192.97,246.14 193.19,246.85 193.4,246.45 193.61,246.13 193.82,246.64 194.03,246.36 194.24,246.45 194.45,246.94 194.66,246.21 194.87,246.63 195.08,246.21 195.29,246.9 195.5,246.92 195.71,246.68 195.92,245.92 196.13,246.37 196.35,246.32 196.56,246.67 196.77,246.97 196.98,247.08 197.19,246.81 197.4,246.41 197.61,245.94 197.82,247 198.03,247.14 198.24,246.23 198.45,246.14 198.66,246.43 198.87,246.83 199.08,246.14 199.29,246.79 199.51,245.72 199.72,246.57 199.93,246.74 200.14,246.7 200.35,245.71 200.56,246.3 200.77,246.35 200.98,246.84 201.19,246.41 201.4,246.54 201.61,246.06 201.82,246.74 202.03,246.04 202.24,246.79 202.45,246.77 202.67,246.44 202.88,246.45 203.09,247.02 203.3,246.95 203.51,246.8 203.72,246.29 203.93,246.17 204.14,246.24 204.35,246.37 204.56,246.3 204.77,246.69 204.98,246.44 205.19,246.59 205.4,246.65 205.61,245.9 205.83,246.49 206.04,246.14 206.25,246.8 206.46,246.54 206.67,246.63 206.88,246.54 207.09,246.44 207.3,246.25 207.51,246.31 207.72,246.48 207.93,245.79 208.14,246.49 208.35,245.91 208.56,246.39 208.77,246.51 208.99,245.77 209.2,246.57 209.41,246.42 209.62,245.93 209.83,246.18 210.04,246.45 210.25,246 210.46,245.47 210.67,245.58 210.88,245.55 211.09,245.31 211.3,245.51 211.51,244.92 211.72,245.08 211.93,245.39 212.15,245.05 212.36,244.65 212.57,243.79 212.78,243.01 212.99,242.45 213.2,241.21 213.41,240.74 213.62,240.18 213.83,238.51 214.04,236.64 214.25,235.44 214.46,234.5 214.67,232.9 214.88,231.75 215.09,231.49 215.31,230.38 215.52,230.03 215.73,229.41 215.94,228.48 216.15,228.3 216.36,227.75 216.57,227.29 216.78,227.17 216.99,227.4 217.2,226.87 217.41,227.48 217.62,227.01 217.83,227.53 218.04,227.12 218.25,227.64 218.47,227.72 218.68,227.83 218.89,228.4 219.1,229.14 219.31,228.63 219.52,228.54 219.73,228.21 219.94,228.83 220.15,228.35 220.36,228.31 220.57,227.99 220.78,227.54 220.99,227.57 221.2,226.92 221.41,226.36 221.63,226.29 221.84,226.69 222.05,225.88 222.26,225.65 222.47,225.28 222.68,225.42 222.89,224.71 223.1,224.72 223.31,224.68 223.52,223.98 223.73,224.09 223.94,224.22 224.15,223.49 224.36,224.19 224.57,224.26 224.79,224.27 225,225.24 225.21,225.06 225.42,225.26 225.63,226.4 225.84,227.36 226.05,228.53 226.26,229.25 226.47,230.23 226.68,231.51 226.89,233.39 227.1,234.7 227.31,236.52 227.52,238.33 227.73,239.11 227.95,240.42 228.16,240.31 228.37,241.6 228.58,243.39 228.79,243.21 229,243.4 229.21,243.99 229.42,243.45 229.63,244.17 229.84,243.74 230.05,242.33 230.26,243.55 230.47,242.95 230.68,242.86 230.89,243.15 231.11,244.36 231.32,244.04 231.53,243.5 231.74,244.6 231.95,244.22 232.16,243.07 232.37,243.09 232.58,244.42 232.79,244.44 233,243.06 233.21,245.57 233.42,245.17 233.63,243.34 233.84,243.93 234.05,243.99 234.27,244.65 234.48,244.1 234.69,244.28 234.9,244.06 235.11,244.51 235.32,244.49 235.53,243.6 235.74,243.91 235.95,245.46 236.16,243.68 236.37,243.44 236.58,244.05 236.79,244.08 237,244.52 237.21,244.07 237.43,245.51 237.64,244.95 237.85,245.37 238.06,244.94 238.27,245.43 238.48,243.78 238.69,244.93 238.9,245.52 239.11,245.33 239.32,244.52 239.53,245.35 239.74,245.91 239.95,245.23 240.16,244.74 240.37,245.07 240.59,244.25 240.8,244.84 241.01,245.66 241.22,245.6 241.43,245.03 241.64,244.49 241.85,245.18 242.06,245.33 242.27,245.37 242.48,246.02 242.69,245.11 242.9,245.68 243.11,245.18 243.32,245.1 243.53,245.88 243.75,245.31 243.96,246.17 244.17,245.9 244.38,245.4 244.59,246.24 244.8,246.07 245.01,245.19 245.22,245.75 245.43,245.55 245.64,245.74 245.85,246.02 246.06,245.91 246.27,245.35 246.48,245.75 246.69,246.46 246.91,246.59 247.12,246.21 247.33,246.23 247.54,245.93 247.75,245.63 247.96,245.38 248.17,245.36 248.38,245.23 248.59,245.97 248.8,245.95 249.01,246.7 249.22,246.06 249.43,245.51 249.64,246.03 249.85,245.83 250.07,246.26 250.28,245.78 250.49,246 250.7,246.05 250.91,246.47 251.12,245.89 251.33,246.51 251.54,246.4" stroke="#5014ff"/>
<polyline points="293.46,42.31 293.36,49.12 293.25,55.93 293.15,62.74 293.04,69.55 292.94,79.11 292.83,88.67 292.72,98.23 292.62,107.79 292.51,117.35 292.41,128.04 292.3,139.01 292.2,149.98 292.09,159.82 291.99,165.11 291.88,170.39 291.78,175.68 291.67,180.97 291.57,186.25 291.46,191.54 291.36,196.83 291.25,200.49 291.14,203.07 291.04,205.66 290.93,208.24 290.83,210.82 290.72,213.41 290.62,215.99 290.51,218.57 290.41,221.16 290.3,223.74 290.2,226.32 290.09,228.9 289.99,229.76 289.88,230.61 289.78,231.46 289.67,232.31 289.56,233.16 289.46,234.01 289.35,234.86 289.25,235.71 289.14,236.57 289.04,237.42 288.93,238.27 288.83,239.12 288.72,239.97 288.62,240.82 288.51,241.67 288.41,242.06 288.3,242.34 288.2,242.62 288.09,242.89 287.98,243.17 287.88,243.44 287.77,243.72 287.67,244 287.56,244.27 287.46,244.55 287.35,244.83 287.25,245.1 287.14,245.38 287.04,245.65 286.93,245.93 286.83,245.96 286.72,246 286.62,246.03 286.51,246.07 286.4,246.1 286.3,246.13 286.19,246.17 286.09,246.2 285.98,246.24 285.88,246.27 285.77,246.3 285.67,246.34 285.56,246.37 285.46,246.41 285.35,246.44 285.25,246.47 285.14,246.51 285.04,246.54 284.93,246.58 284.82,246.61 284.72,246.61 284.61,246.61 284.51,246.61 284.4,246.61 284.3,246.61 284.19,246.61 284.09,246.61 283.98,246.61 283.88,246.61 283.77,246.61 283.67,246.61 283.56,246.61 283.46,246.61 283.35,246.61 283.24,246.61 283.14,246.61 283.03,246.61 282.93,246.61 282.82,246.61 282.72,246.61 282.61,246.61 282.51,246.61 282.4,246.61 282.3,246.61 282.19,246.61 282.09,246.61 281.98,246.61 281.88,246.61 281.77,246.61 281.66,246.61 281.56,246.61 281.45,246.61 281.35,246.61 281.24,246.61 281.14,246.61 281.03,246.61 280.93,246.61 280.82,246.61 280.72,246.61 280.61,246.61 280.51,246.61 280.4,246.61 280.3,246.61 280.19,246.61 280.08,246.61 279.98,246.61 279.87,246.61 279.77,246.61 279.66,246.61 279.56,246.61 279.45,246.61 279.35,246.61 279.24,246.61 279.14,246.61 279.03,246.61 278.93,246.61 278.82,246.61 278.72,246.61 278.61,246.61 278.5,246.61 278.4,246.61 278.29,246.61 278.19,246.61 278.08,246.61 277.98,246.61 277.87,246.61 277.77,246.61 277.66,246.61 277.56,246.61 277.45,246.61 277.35,246.61 277.24,246.61 277.14,246.61 277.03,246.61 276.92,246.61 276.82,246.61 276.71,246.61 276.61,246.61 276.5,246.61 276.4,246.61 276.29,246.61 276.19,246.61 276.08,246.61 275.98,246.61 275.87,246.61 275.77,246.61 275.66,246.61 275.56,246.61 275.45,246.61 275.34,246.61 275.24,246.61 275.13,246.61 275.03,246.61 274.92,246.61 274.82,246.61 274.71,246.61 274.61,246.61 274.5,246.61 274.4,246.61 274.29,246.61 274.19,246.61 274.08,246.61 273.98,246.61 273.87,246.61 273.76,246.61 273.66,246.61 273.55,246.61 273.45,246.61 273.34,246.61 273.24,246.61 273.13,246.61 273.03,246.61 272.92,246.61 272.82,246.61 272.71,246.61 272.61,246.61 272.5,246.61 272.4,246.61 272.29,246.61 272.18,246.61 272.08,246.61 271.97,246.61 271.87,246.61 271.76,246.61" stroke="#ffc20e" stroke-width="1.75" stroke-dasharray="4.5 3.6"/>
<polyline points="293.46,42.31 293.57,43.33 293.67,49.57 293.78,55.82 293.88,62.06 293.99,68.3 294.09,75.76 294.2,83.53 294.3,91.3 294.41,99.07 294.52,106.84 294.62,114.6 294.73,122.55 294.83,130.78 294.94,139.01 295.04,147.24 295.15,155.47 295.25,161.93 295.36,167.22 295.46,172.51 295.57,177.79 295.67,183.08 295.78,188.37 295.88,193.65 295.99,198.94 296.1,200.94 296.2,202.95 296.31,204.95 296.41,206.95 296.52,208.96 296.62,210.96 296.73,212.81 296.83,214.07 296.94,215.32 297.04,216.57 297.15,217.83 297.25,219.08 297.36,220.34 297.46,221.59 297.57,221.51 297.68,220.54 297.78,219.56 297.89,218.59 297.99,217.62 298.1,216.65 298.2,217.1 298.31,217.55 298.41,218.01 298.52,218.46 298.62,218.92 298.73,219.37 298.83,218.8 298.94,218.24 299.04,217.67 299.15,217.1 299.26,216.53 299.36,215.97 299.47,215.4 299.57,214.83 299.68,214.26 299.78,213.7 299.89,213.13 299.99,212.56 300.1,212.04 300.2,211.53 300.31,211.01 300.41,210.5 300.52,209.98 300.62,209.46 300.73,208.95 300.84,208.43 300.94,207.92 301.05,207.4 301.15,206.89 301.26,206.37 301.36,205.85 301.47,205.4 301.57,204.96 301.68,204.51 301.78,204.07 301.89,203.63 301.99,203.19 302.1,202.75 302.2,202.31 302.31,201.87 302.42,201.42 302.52,200.98 302.63,200.81 302.73,200.64 302.84,200.47 302.94,200.3 303.05,200.13 303.15,199.96 303.26,199.79 303.36,199.62 303.47,199.45 303.57,199.28 303.68,199.11 303.78,198.94 303.89,199.11 304,199.28 304.1,199.45 304.21,199.62 304.31,199.79 304.42,199.96 304.52,200.13 304.63,200.3 304.73,200.87 304.84,201.44 304.94,202 305.05,202.57 305.15,203.14 305.26,203.71 305.36,204.27 305.47,204.84 305.58,205.41 305.68,205.98 305.79,206.54 305.89,207.11 306,208.02 306.1,208.93 306.21,209.84 306.31,210.74 306.42,211.65 306.52,212.56 306.63,213.47 306.73,214.38 306.84,215.28 306.94,216.19 307.05,217.1 307.16,218.01 307.26,218.73 307.37,219.46 307.47,220.18 307.58,220.9 307.68,221.63 307.79,222.35 307.89,223.07 308,223.8 308.1,224.52 308.21,225.24 308.31,225.97 308.42,226.69 308.52,227.41 308.63,228.14 308.74,228.86 308.84,229.59 308.95,230.31 309.05,231.03 309.16,231.76 309.26,232.48 309.37,233.2 309.47,233.93 309.58,234.65 309.68,235.37 309.79,236.1 309.89,236.82 310,237.54 310.1,238.27 310.21,238.99 310.32,239.72 310.42,240.44 310.53,241.16 310.63,241.59 310.74,242.01 310.84,242.44 310.95,242.86 311.05,243.29 311.16,243.72 311.26,244.14 311.37,244.57 311.47,244.7 311.58,244.82 311.68,244.95 311.79,245.08 311.9,245.21 312,245.33 312.11,245.46 312.21,245.59 312.32,245.72 312.42,245.84 312.53,245.97 312.63,246.1 312.74,246.23 312.84,246.36 312.95,246.48 313.05,246.61 313.16,246.61 313.26,246.61 313.37,246.61 313.48,246.61 313.58,246.61 313.69,246.61 313.79,246.61 313.9,246.61 314,246.61 314.11,246.61 314.21,246.61 314.32,246.61 314.42,246.61 314.53,246.61 314.63,246.61 314.74,246.61 314.84,246.61 314.95,246.61 315.06,246.61 315.16,246.61 315.27,246.61 315.37,246.61 315.48,246.61 315.58,246.61 315.69,246.61 315.79,246.61 315.9,246.61 316,246.61 316.11,246.61 316.21,246.61 316.32,246.61 316.42,246.61 316.53,246.61 316.64,246.61 316.74,246.61 316.85,246.61 316.95,246.61 317.06,246.61 317.16,246.61 317.27,246.61 317.37,246.61 317.48,246.61 317.58,246.61 317.69,246.61 317.79,246.61 317.9,246.61 318,246.61 318.11,246.61 318.22,246.61 318.32,246.61 318.43,246.61 318.53,246.61 318.64,246.61 318.74,246.61 318.85,246.61 318.95,246.61 319.06,246.61 319.16,246.61 319.27,246.61 319.37,246.61" stroke="#ffc20e" stroke-width="1.75" stroke-dasharray="4.5 3.6"/>
</g>
<line x1="40.7" y1="247.6" x2="45" y2="247.6" stroke="#000" stroke-width="1.4" />
<text x="37.3" y="252.4" font-size="13.5" text-anchor="end" fill="#000" >0</text>
<line x1="42.8" y1="225.53" x2="45" y2="225.53" stroke="#000" stroke-width="1.4" />
<line x1="40.7" y1="203.45" x2="45" y2="203.45" stroke="#000" stroke-width="1.4" />
<text x="37.3" y="208.25" font-size="13.5" text-anchor="end" fill="#000" >5</text>
<line x1="42.8" y1="181.38" x2="45" y2="181.38" stroke="#000" stroke-width="1.4" />
<line x1="40.7" y1="159.3" x2="45" y2="159.3" stroke="#000" stroke-width="1.4" />
<text x="37.3" y="164.1" font-size="13.5" text-anchor="end" fill="#000" >10</text>
<line x1="42.8" y1="137.22" x2="45" y2="137.22" stroke="#000" stroke-width="1.4" />
<line x1="40.7" y1="115.15" x2="45" y2="115.15" stroke="#000" stroke-width="1.4" />
<text x="37.3" y="119.95" font-size="13.5" text-anchor="end" fill="#000" >15</text>
<line x1="42.8" y1="93.07" x2="45" y2="93.07" stroke="#000" stroke-width="1.4" />
<line x1="40.7" y1="71" x2="45" y2="71" stroke="#000" stroke-width="1.4" />
<text x="37.3" y="75.8" font-size="13.5" text-anchor="end" fill="#000" >20</text>
<line x1="42.8" y1="48.92" x2="45" y2="48.92" stroke="#000" stroke-width="1.4" />
<line x1="40.7" y1="26.85" x2="45" y2="26.85" stroke="#000" stroke-width="1.4" />
<text x="37.3" y="31.65" font-size="13.5" text-anchor="end" fill="#000" >25</text>
<line x1="55.2" y1="247.7" x2="55.2" y2="252" stroke="#000" stroke-width="1.4" />
<text x="55.2" y="266" font-size="13.5" text-anchor="middle" fill="#000" >500</text>
<line x1="76.27" y1="247.7" x2="76.27" y2="249.9" stroke="#000" stroke-width="1.4" />
<line x1="97.33" y1="247.7" x2="97.33" y2="252" stroke="#000" stroke-width="1.4" />
<text x="97.33" y="266" font-size="13.5" text-anchor="middle" fill="#000" >600</text>
<line x1="118.4" y1="247.7" x2="118.4" y2="249.9" stroke="#000" stroke-width="1.4" />
<line x1="139.47" y1="247.7" x2="139.47" y2="252" stroke="#000" stroke-width="1.4" />
<text x="139.47" y="266" font-size="13.5" text-anchor="middle" fill="#000" >700</text>
<line x1="160.53" y1="247.7" x2="160.53" y2="249.9" stroke="#000" stroke-width="1.4" />
<line x1="181.6" y1="247.7" x2="181.6" y2="252" stroke="#000" stroke-width="1.4" />
<text x="181.6" y="266" font-size="13.5" text-anchor="middle" fill="#000" >800</text>
<line x1="202.67" y1="247.7" x2="202.67" y2="249.9" stroke="#000" stroke-width="1.4" />
<line x1="223.73" y1="247.7" x2="223.73" y2="252" stroke="#000" stroke-width="1.4" />
<text x="223.73" y="266" font-size="13.5" text-anchor="middle" fill="#000" >900</text>
<line x1="244.8" y1="247.7" x2="244.8" y2="249.9" stroke="#000" stroke-width="1.4" />
<line x1="265.87" y1="247.7" x2="265.87" y2="252" stroke="#000" stroke-width="1.4" />
<text x="265.87" y="266" font-size="13.5" text-anchor="middle" fill="#000" >1000</text>
<line x1="286.93" y1="247.7" x2="286.93" y2="249.9" stroke="#000" stroke-width="1.4" />
<line x1="308" y1="247.7" x2="308" y2="252" stroke="#000" stroke-width="1.4" />
<text x="308" y="266" font-size="13.5" text-anchor="middle" fill="#000" >1100</text>
<line x1="319.2" y1="247.7" x2="323.5" y2="247.7" stroke="#000" stroke-width="1.4" />
<text x="326" y="252.5" font-size="13.5" text-anchor="start" fill="#000" >0</text>
<line x1="319.2" y1="213.65" x2="321.4" y2="213.65" stroke="#000" stroke-width="1.4" />
<line x1="319.2" y1="179.6" x2="323.5" y2="179.6" stroke="#000" stroke-width="1.4" />
<text x="326" y="184.4" font-size="13.5" text-anchor="start" fill="#000" >1</text>
<line x1="319.2" y1="145.55" x2="321.4" y2="145.55" stroke="#000" stroke-width="1.4" />
<line x1="319.2" y1="111.5" x2="323.5" y2="111.5" stroke="#000" stroke-width="1.4" />
<text x="326" y="116.3" font-size="13.5" text-anchor="start" fill="#000" >2</text>
<line x1="319.2" y1="77.45" x2="321.4" y2="77.45" stroke="#000" stroke-width="1.4" />
<line x1="319.2" y1="43.4" x2="323.5" y2="43.4" stroke="#000" stroke-width="1.4" />
<text x="326" y="48.2" font-size="13.5" text-anchor="start" fill="#000" >3</text>
<text x="181.5" y="282.8" font-size="15.4" text-anchor="middle" fill="#000" >wavelength [nm]</text>
<text transform="translate(16.8,205.3) rotate(-90)" font-size="15.4">intensity × 10<tspan font-size="10.5" dy="-6.2">3</tspan><tspan dy="6.2"> [a.u.]</tspan></text>
<text transform="translate(351.5,205.3) rotate(-90)" font-size="15.4">intensity × 10<tspan font-size="10.5" dy="-6.2">2</tspan><tspan dy="6.2"> [a.u.]</tspan></text>
<text x="47.6" y="40.0" font-size="10.3">λ<tspan font-size="7.5" dy="2.7">exc</tspan><tspan dy="-2.7"> = 1156 nm</tspan></text>
<text x="47.6" y="54.1" font-size="10.3">34.6 mJ/cm<tspan font-size="7" dy="-4.2">2</tspan></text>
<text x="161.2" y="44.6" font-size="15.4">SrF<tspan font-size="11.3" dy="4.6">2</tspan><tspan dy="-4.6">:x%Ho</tspan><tspan font-size="11.3" dy="-6.6">3+</tspan></text>
<text x="203.3" y="59.8" font-size="13.5" text-anchor="middle" fill="#f01c1c" >4.9</text>
<text x="203.3" y="72.65" font-size="13.5" text-anchor="middle" fill="#ff6a14" >7.1</text>
<text x="203.3" y="85.5" font-size="13.5" text-anchor="middle" fill="#ffb80e" >10.0</text>
<text x="203.3" y="98.35" font-size="13.5" text-anchor="middle" fill="#19e619" >14.1</text>
<text x="203.3" y="111.2" font-size="13.5" text-anchor="middle" fill="#1e78ff" >18.7</text>
<text x="203.3" y="124.05" font-size="13.5" text-anchor="middle" fill="#5014ff" >22.5</text>
<text transform="translate(260.2,68.9) rotate(-90)" font-size="11.5" text-anchor="middle">emission</text>
<text transform="translate(279.7,67.7) rotate(-90)" font-size="11.5" text-anchor="middle">excitation</text>
<g transform="translate(139.2,84.9) rotate(-90)"><text x="0" y="-6.1" font-size="10.5">5</text><text x="5.84" y="0" font-size="15.4">F</text><text x="15.25" y="4.8" font-size="10.5">5</text><path d="M23.19,-3.4H35.59M31.69,-6.7L35.59,-3.4L31.69,-0.1" fill="none" stroke="#000" stroke-width="1.05"/><text x="36.49" y="-6.1" font-size="10.5">5</text><text x="42.33" y="0" font-size="15.4">I</text><text x="46.6" y="4.8" font-size="10.5">8</text></g>
<g transform="translate(77.2,245.0) rotate(-90)"><text x="0" y="-6.1" font-size="10.5">5</text><text x="5.84" y="0" font-size="15.4">S</text><text x="16.11" y="4.8" font-size="10.5">2</text><text x="21.95" y="0" font-size="15.4">,</text><text x="26.23" y="-6.1" font-size="10.5">5</text><text x="32.07" y="0" font-size="15.4">F</text><text x="41.48" y="4.8" font-size="10.5">4</text><path d="M49.42,-3.4H61.82M57.92,-6.7L61.82,-3.4L57.92,-0.1" fill="none" stroke="#000" stroke-width="1.05"/><text x="62.72" y="-6.1" font-size="10.5">5</text><text x="68.56" y="0" font-size="15.4">I</text><text x="72.83" y="4.8" font-size="10.5">8</text></g>
<g transform="translate(159.9,245.0) rotate(-90)"><text x="0" y="-6.1" font-size="10.5">5</text><text x="5.84" y="0" font-size="15.4">S</text><text x="16.11" y="4.8" font-size="10.5">2</text><text x="21.95" y="0" font-size="15.4">,</text><text x="26.23" y="-6.1" font-size="10.5">5</text><text x="32.07" y="0" font-size="15.4">F</text><text x="41.48" y="4.8" font-size="10.5">4</text><path d="M49.42,-3.4H61.82M57.92,-6.7L61.82,-3.4L57.92,-0.1" fill="none" stroke="#000" stroke-width="1.05"/><text x="62.72" y="-6.1" font-size="10.5">5</text><text x="68.56" y="0" font-size="15.4">I</text><text x="72.83" y="4.8" font-size="10.5">7</text></g>
<g transform="translate(209.2,184.0) rotate(-90)"><text x="0" y="-6.1" font-size="10.5">5</text><text x="5.84" y="0" font-size="15.4">I</text><text x="10.12" y="4.8" font-size="10.5">5</text><path d="M18.06,-3.4H30.46M26.56,-6.7L30.46,-3.4L26.56,-0.1" fill="none" stroke="#000" stroke-width="1.05"/><text x="31.36" y="-6.1" font-size="10.5">5</text><text x="37.2" y="0" font-size="15.4">I</text><text x="41.48" y="4.8" font-size="10.5">8</text></g>
<g transform="translate(311.8,191.9) rotate(-90)"><text x="0" y="-6.1" font-size="10.5">5</text><text x="5.84" y="0" font-size="15.4">I</text><text x="10.12" y="4.8" font-size="10.5">8</text><path d="M18.06,-3.4H30.46M26.56,-6.7L30.46,-3.4L26.56,-0.1" fill="none" stroke="#000" stroke-width="1.05"/><text x="31.36" y="-6.1" font-size="10.5">5</text><text x="37.2" y="0" font-size="15.4">I</text><text x="41.48" y="4.8" font-size="10.5">6</text></g>
<text x="5" y="311.8" font-size="26" text-anchor="start" fill="#000" >b</text>
<defs><clipPath id="cl"><polygon points="108.23,544.74 108.23,544.74 108.22,544.73 108.21,544.73 108.21,544.73 108.19,544.74 108.18,544.74 108.17,544.75 108.15,544.75 108.14,544.76 108.12,544.76 108.11,544.76 108.09,544.76 108.08,544.76 108.07,544.76 108.05,544.76 108.03,544.77 108.01,544.77 107.98,544.78 107.96,544.78 107.94,544.79 107.92,544.79 107.9,544.79 107.88,544.79 107.85,544.79 107.83,544.79 107.8,544.79 107.78,544.79 107.75,544.79 107.72,544.79 107.68,544.79 107.65,544.79 107.62,544.79 107.58,544.79 107.54,544.79 107.5,544.79 107.46,544.78 107.41,544.77 107.36,544.75 107.31,544.73 107.25,544.71 107.18,544.68 107.1,544.65 107.02,544.61 106.93,544.57 106.84,544.53 106.75,544.48 106.66,544.42 106.56,544.37 106.45,544.31 106.33,544.24 106.2,544.16 106.06,544.08 105.92,543.99 105.76,543.89 105.6,543.79 105.44,543.68 105.26,543.57 105.08,543.45 104.89,543.32 104.69,543.18 104.47,543.05 104.25,542.9 104.01,542.75 103.76,542.59 103.48,542.42 103.19,542.24 102.88,542.04 102.55,541.84 102.2,541.62 101.84,541.4 101.47,541.16 101.08,540.92 100.67,540.66 100.24,540.38 99.8,540.08 99.33,539.76 98.84,539.42 98.33,539.06 97.79,538.67 97.24,538.24 96.67,537.79 96.09,537.33 95.48,536.82 94.83,536.24 94.13,535.56 93.39,534.8 92.6,533.96 91.77,533.04 90.89,532.01 89.97,530.85 89.01,529.59 88,528.23 86.95,526.74 85.84,525.09 84.68,523.23 83.45,521.19 82.18,519 80.85,516.62 79.45,514.02 77.99,511.16 76.45,508.07 74.82,504.76 73.13,501.21 71.43,497.4 69.74,493.29 68.05,488.87 66.33,484.16 64.61,479.19 62.9,473.96 61.23,468.49 59.56,462.73 57.88,456.66 56.23,450.38 54.67,443.97 53.23,437.55 51.9,431.04 50.63,424.37 49.47,417.65 48.47,410.99 47.64,404.5 46.99,398.14 46.48,391.82 46.13,385.63 45.99,379.63 46.07,373.9 46.38,368.39 46.9,363.05 47.62,357.95 48.56,353.18 49.73,348.82 51.14,344.84 52.8,341.18 54.67,337.89 56.7,335.01 58.86,332.58 61.17,330.63 63.68,329.15 66.31,328.08 69.03,327.33 71.78,326.84 74.59,326.7 77.48,326.93 80.43,327.43 83.4,328.11 86.36,328.84 89.31,329.68 92.3,330.69 95.28,331.81 98.24,332.99 101.15,334.18 104,335.38 106.81,336.62 109.6,337.9 112.36,339.22 115.1,340.57 117.82,341.94 120.51,343.35 123.18,344.78 125.84,346.25 128.5,347.74 131.16,349.27 133.81,350.82 136.45,352.4 139.09,354.01 141.72,355.63 144.34,357.27 146.96,358.94 149.57,360.63 152.18,362.33 154.79,364.04 157.4,365.77 160.01,367.52 162.62,369.28 165.22,371.05 167.83,372.83 170.45,374.62 173.06,376.42 175.68,378.23 178.3,380.05 180.91,381.87 183.51,383.7 186.12,385.53 188.72,387.37 191.31,389.21 193.91,391.04 196.5,392.88 199.1,394.72 201.69,396.56 204.27,398.39 206.84,400.22 209.39,402.04 211.94,403.87 214.48,405.68 217,407.49 219.51,409.29 222,411.08 224.48,412.86 226.95,414.63 229.39,416.38 231.81,418.12 234.22,419.85 236.6,421.56 238.97,423.26 241.3,424.93 243.61,426.59 245.89,428.22 248.15,429.83 250.38,431.42 252.57,432.99 254.71,434.53 256.82,436.04 258.89,437.53 260.92,439 262.91,440.43 264.83,441.81 266.69,443.15 268.5,444.44 270.25,445.7 271.96,446.92 273.63,448.12 275.27,449.29 276.87,450.44 278.42,451.55 279.93,452.63 281.37,453.67 282.76,454.66 284.1,455.61 285.38,456.52 286.61,457.39 287.8,458.24 288.94,459.06 290.03,459.84 291.07,460.59 292.07,461.31 293.02,462 293.94,462.66 294.8,463.28 295.63,463.88 296.42,464.45 297.19,465 297.91,465.52 298.61,466.01 299.27,466.48 299.9,466.93 300.51,467.36 301.09,467.78 301.64,468.18 302.17,468.56 302.68,468.93 303.18,469.28 303.66,469.63 304.12,469.96 304.56,470.28 304.99,470.59 305.4,470.89 305.8,471.17 306.18,471.45 306.54,471.71 306.89,471.96 307.23,472.2 307.55,472.43 307.86,472.64 308.15,472.85 308.43,473.04 308.69,473.23 308.94,473.4 309.17,473.57 309.38,473.72 309.59,473.87 309.79,474.02 309.97,474.15 310.15,474.28 310.32,474.4 310.48,474.51 310.63,474.62 310.77,474.72 310.9,474.82 311.02,474.91 311.14,474.99 311.25,475.07 311.34,475.14 311.43,475.2 311.5,475.25 311.58,475.3 311.65,475.36 311.72,475.41 311.79,475.46 311.85,475.5 311.92,475.55 311.98,475.59 312.03,475.63 312.08,475.67 312.13,475.71 312.18,475.74 312.23,475.78 312.28,475.81 312.34,475.85 312.39,475.89 312.44,475.93 312.49,475.96 312.54,475.99 312.58,476.03 312.63,476.06 312.67,476.09 312.71,476.12 312.74,476.14 312.77,476.17 312.8,476.19 312.83,476.21 312.85,476.22 312.87,476.24 312.89,476.25 312.9,476.26 312.91,476.27 312.93,476.28 312.94,476.28 312.94,476.29 312.95,476.3 312.96,476.3 312.96,476.3"/></clipPath>
<linearGradient id="g0" gradientUnits="userSpaceOnUse" x1="70" x2="79" y1="0" y2="0"><stop offset="0.000" stop-color="#00ffa9"/><stop offset="1.000" stop-color="#00ffa4"/></linearGradient>
<linearGradient id="g1" gradientUnits="userSpaceOnUse" x1="68" x2="82" y1="0" y2="0"><stop offset="0.000" stop-color="#00ffab"/><stop offset="1.000" stop-color="#00ffa2"/></linearGradient>
<linearGradient id="g2" gradientUnits="userSpaceOnUse" x1="65" x2="88" y1="0" y2="0"><stop offset="0.000" stop-color="#00ffad"/><stop offset="1.000" stop-color="#00ff9e"/></linearGradient>
<linearGradient id="g3" gradientUnits="userSpaceOnUse" x1="62" x2="91" y1="0" y2="0"><stop offset="0.000" stop-color="#00ffaf"/><stop offset="1.000" stop-color="#00ff9c"/></linearGradient>
<linearGradient id="g4" gradientUnits="userSpaceOnUse" x1="60" x2="94" y1="0" y2="0"><stop offset="0.000" stop-color="#00ffb0"/><stop offset="1.000" stop-color="#00ff9a"/></linearGradient>
<linearGradient id="g5" gradientUnits="userSpaceOnUse" x1="59" x2="97" y1="0" y2="0"><stop offset="0.000" stop-color="#00ffb1"/><stop offset="1.000" stop-color="#00ff98"/></linearGradient>
<linearGradient id="g6" gradientUnits="userSpaceOnUse" x1="57" x2="100" y1="0" y2="0"><stop offset="0.000" stop-color="#00ffb2"/><stop offset="1.000" stop-color="#00ff96"/></linearGradient>
<linearGradient id="g7" gradientUnits="userSpaceOnUse" x1="56" x2="101" y1="0" y2="0"><stop offset="0.000" stop-color="#00ffb3"/><stop offset="1.000" stop-color="#00ff95"/></linearGradient>
<linearGradient id="g8" gradientUnits="userSpaceOnUse" x1="56" x2="103" y1="0" y2="0"><stop offset="0.000" stop-color="#00ffb4"/><stop offset="1.000" stop-color="#00ff94"/></linearGradient>
<linearGradient id="g9" gradientUnits="userSpaceOnUse" x1="55" x2="105" y1="0" y2="0"><stop offset="0.000" stop-color="#00ffb4"/><stop offset="1.000" stop-color="#00ff92"/></linearGradient>
<linearGradient id="g10" gradientUnits="userSpaceOnUse" x1="54" x2="108" y1="0" y2="0"><stop offset="0.000" stop-color="#00ffb5"/><stop offset="0.981" stop-color="#00ff91"/><stop offset="1.000" stop-color="#00ff8f"/></linearGradient>
<linearGradient id="g11" gradientUnits="userSpaceOnUse" x1="53" x2="111" y1="0" y2="0"><stop offset="0.000" stop-color="#00ffb6"/><stop offset="0.922" stop-color="#00ff92"/><stop offset="1.000" stop-color="#00ff8c"/></linearGradient>
<linearGradient id="g12" gradientUnits="userSpaceOnUse" x1="53" x2="112" y1="0" y2="0"><stop offset="0.000" stop-color="#00ffb6"/><stop offset="0.907" stop-color="#00ff92"/><stop offset="1.000" stop-color="#00ff8c"/></linearGradient>
<linearGradient id="g13" gradientUnits="userSpaceOnUse" x1="52" x2="114" y1="0" y2="0"><stop offset="0.000" stop-color="#00ffb7"/><stop offset="0.871" stop-color="#00ff93"/><stop offset="1.000" stop-color="#00ff8a"/></linearGradient>
<linearGradient id="g14" gradientUnits="userSpaceOnUse" x1="52" x2="117" y1="0" y2="0"><stop offset="0.000" stop-color="#00ffb8"/><stop offset="0.831" stop-color="#00ff93"/><stop offset="1.000" stop-color="#00ff86"/></linearGradient>
<linearGradient id="g15" gradientUnits="userSpaceOnUse" x1="51" x2="119" y1="0" y2="0"><stop offset="0.000" stop-color="#00ffb8"/><stop offset="0.801" stop-color="#00ff94"/><stop offset="1.000" stop-color="#00ff84"/></linearGradient>
<linearGradient id="g16" gradientUnits="userSpaceOnUse" x1="51" x2="120" y1="0" y2="0"><stop offset="0.000" stop-color="#00ffb9"/><stop offset="0.790" stop-color="#00ff95"/><stop offset="1.000" stop-color="#00ff83"/></linearGradient>
<linearGradient id="g17" gradientUnits="userSpaceOnUse" x1="50" x2="122" y1="0" y2="0"><stop offset="0.000" stop-color="#00ffba"/><stop offset="0.764" stop-color="#00ff96"/><stop offset="1.000" stop-color="#00ff80"/></linearGradient>
<linearGradient id="g18" gradientUnits="userSpaceOnUse" x1="50" x2="125" y1="0" y2="0"><stop offset="0.000" stop-color="#00ffba"/><stop offset="0.733" stop-color="#00ff96"/><stop offset="1.000" stop-color="#00ff7c"/></linearGradient>
<linearGradient id="g19" gradientUnits="userSpaceOnUse" x1="50" x2="126" y1="0" y2="0"><stop offset="0.000" stop-color="#00ffba"/><stop offset="0.724" stop-color="#00ff97"/><stop offset="1.000" stop-color="#00ff7b"/></linearGradient>
<linearGradient id="g20" gradientUnits="userSpaceOnUse" x1="49" x2="127" y1="0" y2="0"><stop offset="0.000" stop-color="#00ffbb"/><stop offset="0.712" stop-color="#00ff98"/><stop offset="1.000" stop-color="#00ff79"/></linearGradient>
<linearGradient id="g21" gradientUnits="userSpaceOnUse" x1="49" x2="130" y1="0" y2="0"><stop offset="0.000" stop-color="#00ffbc"/><stop offset="0.685" stop-color="#00ff98"/><stop offset="1.000" stop-color="#00ff74"/></linearGradient>
<linearGradient id="g22" gradientUnits="userSpaceOnUse" x1="48" x2="131" y1="0" y2="0"><stop offset="0.000" stop-color="#00ffbc"/><stop offset="0.675" stop-color="#00ff99"/><stop offset="1.000" stop-color="#00ff72"/></linearGradient>
<linearGradient id="g23" gradientUnits="userSpaceOnUse" x1="48" x2="133" y1="0" y2="0"><stop offset="0.000" stop-color="#00ffbd"/><stop offset="0.659" stop-color="#00ff9a"/><stop offset="0.982" stop-color="#00ff72"/><stop offset="1.000" stop-color="#00ff6e"/></linearGradient>
<linearGradient id="g24" gradientUnits="userSpaceOnUse" x1="48" x2="135" y1="0" y2="0"><stop offset="0.000" stop-color="#00ffbd"/><stop offset="0.644" stop-color="#00ff9a"/><stop offset="0.960" stop-color="#00ff72"/><stop offset="1.000" stop-color="#00ff6a"/></linearGradient>
<linearGradient id="g25" gradientUnits="userSpaceOnUse" x1="47" x2="136" y1="0" y2="0"><stop offset="0.000" stop-color="#00ffbe"/><stop offset="0.635" stop-color="#00ff9b"/><stop offset="0.944" stop-color="#00ff74"/><stop offset="1.000" stop-color="#00ff68"/></linearGradient>
<linearGradient id="g26" gradientUnits="userSpaceOnUse" x1="47" x2="138" y1="0" y2="0"><stop offset="0.000" stop-color="#00ffbe"/><stop offset="0.621" stop-color="#00ff9c"/><stop offset="0.923" stop-color="#00ff75"/><stop offset="1.000" stop-color="#00ff63"/></linearGradient>
<linearGradient id="g27" gradientUnits="userSpaceOnUse" x1="47" x2="139" y1="0" y2="0"><stop offset="0.000" stop-color="#00ffbf"/><stop offset="0.614" stop-color="#00ff9c"/><stop offset="0.913" stop-color="#00ff75"/><stop offset="1.000" stop-color="#00ff60"/></linearGradient>
<linearGradient id="g28" gradientUnits="userSpaceOnUse" x1="47" x2="141" y1="0" y2="0"><stop offset="0.000" stop-color="#00ffbf"/><stop offset="0.601" stop-color="#00ff9d"/><stop offset="0.894" stop-color="#00ff76"/><stop offset="1.000" stop-color="#00ff5a"/></linearGradient>
<linearGradient id="g29" gradientUnits="userSpaceOnUse" x1="47" x2="143" y1="0" y2="0"><stop offset="0.000" stop-color="#00ffc0"/><stop offset="0.589" stop-color="#00ff9d"/><stop offset="0.875" stop-color="#00ff76"/><stop offset="1.000" stop-color="#00ff53"/></linearGradient>
<linearGradient id="g30" gradientUnits="userSpaceOnUse" x1="46" x2="144" y1="0" y2="0"><stop offset="0.000" stop-color="#00ffc1"/><stop offset="0.582" stop-color="#00ff9e"/><stop offset="0.867" stop-color="#00ff77"/><stop offset="1.000" stop-color="#00ff50"/></linearGradient>
<linearGradient id="g31" gradientUnits="userSpaceOnUse" x1="46" x2="146" y1="0" y2="0"><stop offset="0.000" stop-color="#00ffc1"/><stop offset="0.570" stop-color="#00ff9f"/><stop offset="0.850" stop-color="#00ff77"/><stop offset="0.985" stop-color="#00ff4e"/><stop offset="1.000" stop-color="#00ff47"/></linearGradient>
<linearGradient id="g32" gradientUnits="userSpaceOnUse" x1="46" x2="148" y1="0" y2="0"><stop offset="0.000" stop-color="#00ffc1"/><stop offset="0.559" stop-color="#00ff9f"/><stop offset="0.833" stop-color="#00ff78"/><stop offset="0.966" stop-color="#00ff4f"/><stop offset="1.000" stop-color="#00ff3b"/></linearGradient>
<linearGradient id="g33" gradientUnits="userSpaceOnUse" x1="46" x2="149" y1="0" y2="0"><stop offset="0.000" stop-color="#00ffc2"/><stop offset="0.553" stop-color="#00ffa0"/><stop offset="0.825" stop-color="#00ff79"/><stop offset="0.956" stop-color="#00ff4f"/><stop offset="1.000" stop-color="#00ff35"/></linearGradient>
<linearGradient id="g34" gradientUnits="userSpaceOnUse" x1="46" x2="151" y1="0" y2="0"><stop offset="0.000" stop-color="#00ffc2"/><stop offset="0.543" stop-color="#00ffa0"/><stop offset="0.810" stop-color="#00ff79"/><stop offset="0.938" stop-color="#00ff50"/><stop offset="0.990" stop-color="#00ff2c"/><stop offset="1.000" stop-color="#00ff21"/></linearGradient>
<linearGradient id="g35" gradientUnits="userSpaceOnUse" x1="45" x2="152" y1="0" y2="0"><stop offset="0.000" stop-color="#00ffc3"/><stop offset="0.537" stop-color="#00ffa1"/><stop offset="0.799" stop-color="#00ff7b"/><stop offset="0.925" stop-color="#00ff53"/><stop offset="0.981" stop-color="#00ff2d"/><stop offset="1.000" stop-color="#00ff0f"/></linearGradient>
<linearGradient id="g36" gradientUnits="userSpaceOnUse" x1="45" x2="154" y1="0" y2="0"><stop offset="0.000" stop-color="#00ffc3"/><stop offset="0.528" stop-color="#00ffa2"/><stop offset="0.784" stop-color="#00ff7b"/><stop offset="0.908" stop-color="#00ff54"/><stop offset="0.963" stop-color="#00ff2e"/><stop offset="0.982" stop-color="#00ff11"/><stop offset="0.986" stop-color="#00ff00"/><stop offset="0.995" stop-color="#1bff00"/><stop offset="1.000" stop-color="#23ff00"/></linearGradient>
<linearGradient id="g37" gradientUnits="userSpaceOnUse" x1="45" x2="155" y1="0" y2="0"><stop offset="0.000" stop-color="#00ffc4"/><stop offset="0.527" stop-color="#00ffa2"/><stop offset="0.782" stop-color="#00ff7b"/><stop offset="0.905" stop-color="#00ff52"/><stop offset="0.955" stop-color="#00ff2f"/><stop offset="0.973" stop-color="#00ff13"/><stop offset="0.977" stop-color="#00ff03"/><stop offset="0.991" stop-color="#22ff00"/><stop offset="1.000" stop-color="#2eff00"/></linearGradient>
<linearGradient id="g38" gradientUnits="userSpaceOnUse" x1="45" x2="156" y1="0" y2="0"><stop offset="0.000" stop-color="#00ffc4"/><stop offset="0.523" stop-color="#00ffa3"/><stop offset="0.775" stop-color="#00ff7c"/><stop offset="0.896" stop-color="#00ff53"/><stop offset="0.946" stop-color="#00ff30"/><stop offset="0.964" stop-color="#00ff15"/><stop offset="0.968" stop-color="#00ff05"/><stop offset="0.982" stop-color="#22ff00"/><stop offset="1.000" stop-color="#37ff00"/></linearGradient>
<linearGradient id="g39" gradientUnits="userSpaceOnUse" x1="45" x2="159" y1="0" y2="0"><stop offset="0.000" stop-color="#00ffc5"/><stop offset="0.509" stop-color="#00ffa3"/><stop offset="0.754" stop-color="#00ff7c"/><stop offset="0.873" stop-color="#00ff53"/><stop offset="0.921" stop-color="#00ff31"/><stop offset="0.939" stop-color="#00ff16"/><stop offset="0.943" stop-color="#00ff08"/><stop offset="0.952" stop-color="#18ff00"/><stop offset="0.978" stop-color="#3bff00"/><stop offset="1.000" stop-color="#4dff00"/></linearGradient>
<linearGradient id="g40" gradientUnits="userSpaceOnUse" x1="45" x2="160" y1="0" y2="0"><stop offset="0.000" stop-color="#00ffc5"/><stop offset="0.504" stop-color="#00ffa4"/><stop offset="0.748" stop-color="#00ff7d"/><stop offset="0.865" stop-color="#00ff54"/><stop offset="0.913" stop-color="#00ff32"/><stop offset="0.930" stop-color="#00ff18"/><stop offset="0.935" stop-color="#00ff0a"/><stop offset="0.939" stop-color="#09ff00"/><stop offset="0.948" stop-color="#20ff00"/><stop offset="0.983" stop-color="#46ff00"/><stop offset="1.000" stop-color="#52ff00"/></linearGradient>
<linearGradient id="g41" gradientUnits="userSpaceOnUse" x1="45" x2="162" y1="0" y2="0"><stop offset="0.000" stop-color="#00ffc6"/><stop offset="0.496" stop-color="#00ffa4"/><stop offset="0.735" stop-color="#00ff7d"/><stop offset="0.850" stop-color="#00ff55"/><stop offset="0.902" stop-color="#00ff2e"/><stop offset="0.915" stop-color="#00ff19"/><stop offset="0.923" stop-color="#06ff00"/><stop offset="0.932" stop-color="#1fff00"/><stop offset="0.962" stop-color="#43ff00"/><stop offset="1.000" stop-color="#5dff00"/></linearGradient>
<linearGradient id="g42" gradientUnits="userSpaceOnUse" x1="45" x2="163" y1="0" y2="0"><stop offset="0.000" stop-color="#00ffc6"/><stop offset="0.492" stop-color="#00ffa5"/><stop offset="0.729" stop-color="#00ff7e"/><stop offset="0.843" stop-color="#00ff56"/><stop offset="0.894" stop-color="#00ff2f"/><stop offset="0.911" stop-color="#00ff0f"/><stop offset="0.915" stop-color="#04ff00"/><stop offset="0.924" stop-color="#1eff00"/><stop offset="0.953" stop-color="#43ff00"/><stop offset="1.000" stop-color="#62ff00"/></linearGradient>
<linearGradient id="g43" gradientUnits="userSpaceOnUse" x1="45" x2="164" y1="0" y2="0"><stop offset="0.000" stop-color="#00ffc6"/><stop offset="0.487" stop-color="#00ffa5"/><stop offset="0.723" stop-color="#00ff7f"/><stop offset="0.836" stop-color="#00ff56"/><stop offset="0.887" stop-color="#00ff30"/><stop offset="0.903" stop-color="#00ff11"/><stop offset="0.908" stop-color="#01ff00"/><stop offset="0.916" stop-color="#1dff00"/><stop offset="0.945" stop-color="#43ff00"/><stop offset="1.000" stop-color="#67ff00"/></linearGradient>
<linearGradient id="g44" gradientUnits="userSpaceOnUse" x1="45" x2="165" y1="0" y2="0"><stop offset="0.000" stop-color="#00ffc7"/><stop offset="0.483" stop-color="#00ffa6"/><stop offset="0.717" stop-color="#00ff7f"/><stop offset="0.829" stop-color="#00ff57"/><stop offset="0.879" stop-color="#00ff31"/><stop offset="0.896" stop-color="#00ff13"/><stop offset="0.900" stop-color="#00ff01"/><stop offset="0.908" stop-color="#1dff00"/><stop offset="0.933" stop-color="#3fff00"/><stop offset="1.000" stop-color="#6bff00"/></linearGradient>
<linearGradient id="g45" gradientUnits="userSpaceOnUse" x1="45" x2="167" y1="0" y2="0"><stop offset="0.000" stop-color="#00ffc7"/><stop offset="0.475" stop-color="#00ffa7"/><stop offset="0.705" stop-color="#00ff80"/><stop offset="0.816" stop-color="#00ff58"/><stop offset="0.865" stop-color="#00ff32"/><stop offset="0.881" stop-color="#00ff15"/><stop offset="0.885" stop-color="#00ff04"/><stop offset="0.898" stop-color="#24ff00"/><stop offset="0.930" stop-color="#49ff00"/><stop offset="1.000" stop-color="#74ff00"/></linearGradient>
<linearGradient id="g46" gradientUnits="userSpaceOnUse" x1="45" x2="169" y1="0" y2="0"><stop offset="0.000" stop-color="#00ffc8"/><stop offset="0.468" stop-color="#00ffa7"/><stop offset="0.694" stop-color="#00ff81"/><stop offset="0.802" stop-color="#00ff58"/><stop offset="0.851" stop-color="#00ff32"/><stop offset="0.867" stop-color="#00ff16"/><stop offset="0.871" stop-color="#00ff07"/><stop offset="0.879" stop-color="#1aff00"/><stop offset="0.903" stop-color="#3eff00"/><stop offset="0.972" stop-color="#6eff00"/><stop offset="1.000" stop-color="#7cff00"/></linearGradient>
<linearGradient id="g47" gradientUnits="userSpaceOnUse" x1="45" x2="170" y1="0" y2="0"><stop offset="0.000" stop-color="#00ffc8"/><stop offset="0.464" stop-color="#00ffa8"/><stop offset="0.688" stop-color="#00ff81"/><stop offset="0.796" stop-color="#00ff59"/><stop offset="0.844" stop-color="#00ff33"/><stop offset="0.860" stop-color="#00ff18"/><stop offset="0.864" stop-color="#00ff09"/><stop offset="0.868" stop-color="#0bff00"/><stop offset="0.880" stop-color="#29ff00"/><stop offset="0.920" stop-color="#53ff00"/><stop offset="1.000" stop-color="#80ff00"/></linearGradient>
<linearGradient id="g48" gradientUnits="userSpaceOnUse" x1="45" x2="172" y1="0" y2="0"><stop offset="0.000" stop-color="#00ffc9"/><stop offset="0.457" stop-color="#00ffa8"/><stop offset="0.677" stop-color="#00ff82"/><stop offset="0.783" stop-color="#00ff5a"/><stop offset="0.831" stop-color="#00ff34"/><stop offset="0.846" stop-color="#00ff1a"/><stop offset="0.850" stop-color="#00ff0c"/><stop offset="0.854" stop-color="#09ff00"/><stop offset="0.862" stop-color="#22ff00"/><stop offset="0.890" stop-color="#46ff00"/><stop offset="0.965" stop-color="#77ff00"/><stop offset="1.000" stop-color="#87ff00"/></linearGradient>
<linearGradient id="g49" gradientUnits="userSpaceOnUse" x1="45" x2="173" y1="0" y2="0"><stop offset="0.000" stop-color="#00ffc9"/><stop offset="0.453" stop-color="#00ffa9"/><stop offset="0.672" stop-color="#00ff83"/><stop offset="0.777" stop-color="#00ff5b"/><stop offset="0.824" stop-color="#00ff35"/><stop offset="0.840" stop-color="#00ff1b"/><stop offset="0.848" stop-color="#06ff00"/><stop offset="0.855" stop-color="#21ff00"/><stop offset="0.883" stop-color="#46ff00"/><stop offset="0.957" stop-color="#77ff00"/><stop offset="1.000" stop-color="#8bff00"/></linearGradient>
<linearGradient id="g50" gradientUnits="userSpaceOnUse" x1="45" x2="175" y1="0" y2="0"><stop offset="0.000" stop-color="#00ffca"/><stop offset="0.446" stop-color="#00ffaa"/><stop offset="0.662" stop-color="#00ff83"/><stop offset="0.765" stop-color="#00ff5b"/><stop offset="0.812" stop-color="#00ff36"/><stop offset="0.827" stop-color="#00ff1d"/><stop offset="0.835" stop-color="#03ff00"/><stop offset="0.842" stop-color="#20ff00"/><stop offset="0.869" stop-color="#46ff00"/><stop offset="0.942" stop-color="#78ff00"/><stop offset="1.000" stop-color="#92ff00"/></linearGradient>
<linearGradient id="g51" gradientUnits="userSpaceOnUse" x1="44" x2="176" y1="0" y2="0"><stop offset="0.000" stop-color="#00ffca"/><stop offset="0.443" stop-color="#00ffab"/><stop offset="0.655" stop-color="#00ff85"/><stop offset="0.761" stop-color="#00ff5c"/><stop offset="0.807" stop-color="#00ff37"/><stop offset="0.822" stop-color="#00ff1e"/><stop offset="0.830" stop-color="#01ff00"/><stop offset="0.833" stop-color="#14ff00"/><stop offset="0.848" stop-color="#33ff00"/><stop offset="0.894" stop-color="#5fff00"/><stop offset="1.000" stop-color="#95ff00"/></linearGradient>
<linearGradient id="g52" gradientUnits="userSpaceOnUse" x1="44" x2="177" y1="0" y2="0"><stop offset="0.000" stop-color="#00ffcb"/><stop offset="0.444" stop-color="#00ffab"/><stop offset="0.654" stop-color="#00ff85"/><stop offset="0.756" stop-color="#00ff5d"/><stop offset="0.801" stop-color="#00ff38"/><stop offset="0.816" stop-color="#00ff1f"/><stop offset="0.823" stop-color="#00ff02"/><stop offset="0.831" stop-color="#1eff00"/><stop offset="0.853" stop-color="#41ff00"/><stop offset="0.917" stop-color="#72ff00"/><stop offset="1.000" stop-color="#99ff00"/></linearGradient>
<linearGradient id="g53" gradientUnits="userSpaceOnUse" x1="44" x2="178" y1="0" y2="0"><stop offset="0.000" stop-color="#00ffcb"/><stop offset="0.440" stop-color="#00ffab"/><stop offset="0.649" stop-color="#00ff86"/><stop offset="0.750" stop-color="#00ff5e"/><stop offset="0.795" stop-color="#00ff39"/><stop offset="0.810" stop-color="#00ff21"/><stop offset="0.817" stop-color="#00ff05"/><stop offset="0.828" stop-color="#26ff00"/><stop offset="0.858" stop-color="#4dff00"/><stop offset="0.937" stop-color="#81ff00"/><stop offset="1.000" stop-color="#9cff00"/></linearGradient>
<linearGradient id="g54" gradientUnits="userSpaceOnUse" x1="44" x2="180" y1="0" y2="0"><stop offset="0.000" stop-color="#00ffcc"/><stop offset="0.434" stop-color="#00ffac"/><stop offset="0.640" stop-color="#00ff86"/><stop offset="0.739" stop-color="#00ff5e"/><stop offset="0.783" stop-color="#00ff3a"/><stop offset="0.801" stop-color="#00ff18"/><stop offset="0.805" stop-color="#00ff08"/><stop offset="0.809" stop-color="#0eff00"/><stop offset="0.820" stop-color="#2cff00"/><stop offset="0.857" stop-color="#57ff00"/><stop offset="0.945" stop-color="#8cff00"/><stop offset="1.000" stop-color="#a3ff00"/></linearGradient>
<linearGradient id="g55" gradientUnits="userSpaceOnUse" x1="44" x2="182" y1="0" y2="0"><stop offset="0.000" stop-color="#00ffcc"/><stop offset="0.428" stop-color="#00ffad"/><stop offset="0.630" stop-color="#00ff87"/><stop offset="0.728" stop-color="#00ff5f"/><stop offset="0.772" stop-color="#00ff3b"/><stop offset="0.790" stop-color="#00ff1a"/><stop offset="0.793" stop-color="#00ff0b"/><stop offset="0.797" stop-color="#0cff00"/><stop offset="0.804" stop-color="#24ff00"/><stop offset="0.830" stop-color="#49ff00"/><stop offset="0.899" stop-color="#7cff00"/><stop offset="1.000" stop-color="#a9ff00"/></linearGradient>
<linearGradient id="g56" gradientUnits="userSpaceOnUse" x1="44" x2="183" y1="0" y2="0"><stop offset="0.000" stop-color="#00ffcd"/><stop offset="0.424" stop-color="#00ffad"/><stop offset="0.626" stop-color="#00ff88"/><stop offset="0.723" stop-color="#00ff60"/><stop offset="0.766" stop-color="#00ff3c"/><stop offset="0.784" stop-color="#00ff1c"/><stop offset="0.788" stop-color="#00ff0e"/><stop offset="0.791" stop-color="#09ff00"/><stop offset="0.799" stop-color="#23ff00"/><stop offset="0.824" stop-color="#49ff00"/><stop offset="0.888" stop-color="#7aff00"/><stop offset="1.000" stop-color="#adff00"/></linearGradient>
<linearGradient id="g57" gradientUnits="userSpaceOnUse" x1="45" x2="185" y1="0" y2="0"><stop offset="0.000" stop-color="#00ffcd"/><stop offset="0.418" stop-color="#00ffae"/><stop offset="0.614" stop-color="#00ff88"/><stop offset="0.711" stop-color="#00ff61"/><stop offset="0.754" stop-color="#00ff3d"/><stop offset="0.771" stop-color="#00ff1d"/><stop offset="0.779" stop-color="#06ff00"/><stop offset="0.786" stop-color="#22ff00"/><stop offset="0.811" stop-color="#49ff00"/><stop offset="0.875" stop-color="#7bff00"/><stop offset="1.000" stop-color="#b3ff00"/></linearGradient>
<linearGradient id="g58" gradientUnits="userSpaceOnUse" x1="45" x2="186" y1="0" y2="0"><stop offset="0.000" stop-color="#00ffcd"/><stop offset="0.415" stop-color="#00ffae"/><stop offset="0.610" stop-color="#00ff89"/><stop offset="0.706" stop-color="#00ff62"/><stop offset="0.752" stop-color="#00ff39"/><stop offset="0.766" stop-color="#00ff1f"/><stop offset="0.773" stop-color="#03ff00"/><stop offset="0.777" stop-color="#16ff00"/><stop offset="0.791" stop-color="#36ff00"/><stop offset="0.833" stop-color="#63ff00"/><stop offset="0.933" stop-color="#9cff00"/><stop offset="1.000" stop-color="#b6ff00"/></linearGradient>
<linearGradient id="g59" gradientUnits="userSpaceOnUse" x1="45" x2="188" y1="0" y2="0"><stop offset="0.000" stop-color="#00ffce"/><stop offset="0.409" stop-color="#00ffaf"/><stop offset="0.601" stop-color="#00ff8a"/><stop offset="0.696" stop-color="#00ff63"/><stop offset="0.741" stop-color="#00ff3a"/><stop offset="0.755" stop-color="#00ff20"/><stop offset="0.759" stop-color="#00ff15"/><stop offset="0.762" stop-color="#00ff00"/><stop offset="0.766" stop-color="#15ff00"/><stop offset="0.780" stop-color="#36ff00"/><stop offset="0.822" stop-color="#63ff00"/><stop offset="0.920" stop-color="#9cff00"/><stop offset="1.000" stop-color="#bcff00"/></linearGradient>
<linearGradient id="g60" gradientUnits="userSpaceOnUse" x1="45" x2="189" y1="0" y2="0"><stop offset="0.000" stop-color="#00ffce"/><stop offset="0.406" stop-color="#00ffb0"/><stop offset="0.597" stop-color="#00ff8b"/><stop offset="0.691" stop-color="#00ff63"/><stop offset="0.736" stop-color="#00ff3b"/><stop offset="0.750" stop-color="#00ff22"/><stop offset="0.753" stop-color="#00ff17"/><stop offset="0.757" stop-color="#00ff04"/><stop offset="0.764" stop-color="#1fff00"/><stop offset="0.785" stop-color="#45ff00"/><stop offset="0.840" stop-color="#75ff00"/><stop offset="0.962" stop-color="#b2ff00"/><stop offset="1.000" stop-color="#c0ff00"/></linearGradient>
<linearGradient id="g61" gradientUnits="userSpaceOnUse" x1="45" x2="190" y1="0" y2="0"><stop offset="0.000" stop-color="#00ffcf"/><stop offset="0.403" stop-color="#00ffb0"/><stop offset="0.593" stop-color="#00ff8c"/><stop offset="0.686" stop-color="#00ff64"/><stop offset="0.731" stop-color="#00ff3c"/><stop offset="0.745" stop-color="#00ff23"/><stop offset="0.752" stop-color="#00ff07"/><stop offset="0.759" stop-color="#1eff00"/><stop offset="0.779" stop-color="#45ff00"/><stop offset="0.834" stop-color="#76ff00"/><stop offset="0.955" stop-color="#b2ff00"/><stop offset="1.000" stop-color="#c3ff00"/></linearGradient>
<linearGradient id="g62" gradientUnits="userSpaceOnUse" x1="45" x2="191" y1="0" y2="0"><stop offset="0.000" stop-color="#00ffcf"/><stop offset="0.401" stop-color="#00ffb1"/><stop offset="0.589" stop-color="#00ff8c"/><stop offset="0.682" stop-color="#00ff65"/><stop offset="0.726" stop-color="#00ff3d"/><stop offset="0.743" stop-color="#00ff1b"/><stop offset="0.747" stop-color="#00ff0a"/><stop offset="0.750" stop-color="#0fff00"/><stop offset="0.760" stop-color="#2eff00"/><stop offset="0.791" stop-color="#58ff00"/><stop offset="0.866" stop-color="#8dff00"/><stop offset="1.000" stop-color="#c7ff00"/></linearGradient>
<linearGradient id="g63" gradientUnits="userSpaceOnUse" x1="45" x2="193" y1="0" y2="0"><stop offset="0.000" stop-color="#00ffd0"/><stop offset="0.399" stop-color="#00ffb1"/><stop offset="0.584" stop-color="#00ff8c"/><stop offset="0.676" stop-color="#00ff64"/><stop offset="0.716" stop-color="#00ff3e"/><stop offset="0.733" stop-color="#00ff1c"/><stop offset="0.736" stop-color="#05ff11"/><stop offset="0.743" stop-color="#1fff08"/><stop offset="0.753" stop-color="#34ff00"/><stop offset="0.791" stop-color="#62ff00"/><stop offset="0.875" stop-color="#99ff00"/><stop offset="1.000" stop-color="#cdff00"/></linearGradient>
<linearGradient id="g64" gradientUnits="userSpaceOnUse" x1="45" x2="194" y1="0" y2="0"><stop offset="0.000" stop-color="#00ffd0"/><stop offset="0.396" stop-color="#00ffb2"/><stop offset="0.581" stop-color="#00ff8d"/><stop offset="0.671" stop-color="#00ff65"/><stop offset="0.711" stop-color="#00ff3f"/><stop offset="0.728" stop-color="#01ff1e"/><stop offset="0.735" stop-color="#1dff19"/><stop offset="0.758" stop-color="#44ff00"/><stop offset="0.809" stop-color="#75ff00"/><stop offset="0.919" stop-color="#b1ff00"/><stop offset="1.000" stop-color="#d0ff00"/></linearGradient>
<linearGradient id="g65" gradientUnits="userSpaceOnUse" x1="45" x2="195" y1="0" y2="0"><stop offset="0.000" stop-color="#00ffd1"/><stop offset="0.393" stop-color="#00ffb2"/><stop offset="0.577" stop-color="#00ff8e"/><stop offset="0.667" stop-color="#00ff66"/><stop offset="0.707" stop-color="#00ff40"/><stop offset="0.720" stop-color="#00ff29"/><stop offset="0.730" stop-color="#24ff22"/><stop offset="0.757" stop-color="#4aff09"/><stop offset="0.767" stop-color="#55ff00"/><stop offset="0.833" stop-color="#89ff00"/><stop offset="0.973" stop-color="#caff00"/><stop offset="1.000" stop-color="#d4ff00"/></linearGradient>
<linearGradient id="g66" gradientUnits="userSpaceOnUse" x1="45" x2="198" y1="0" y2="0"><stop offset="0.000" stop-color="#00ffd1"/><stop offset="0.386" stop-color="#00ffb3"/><stop offset="0.565" stop-color="#00ff8f"/><stop offset="0.654" stop-color="#00ff66"/><stop offset="0.693" stop-color="#00ff41"/><stop offset="0.703" stop-color="#00ff31"/><stop offset="0.712" stop-color="#22ff2b"/><stop offset="0.739" stop-color="#4aff1a"/><stop offset="0.761" stop-color="#5fff00"/><stop offset="0.840" stop-color="#97ff00"/><stop offset="0.997" stop-color="#dbff00"/><stop offset="1.000" stop-color="#dcff00"/></linearGradient>
<linearGradient id="g67" gradientUnits="userSpaceOnUse" x1="45" x2="199" y1="0" y2="0"><stop offset="0.000" stop-color="#00ffd2"/><stop offset="0.383" stop-color="#00ffb4"/><stop offset="0.562" stop-color="#00ff8f"/><stop offset="0.649" stop-color="#00ff67"/><stop offset="0.688" stop-color="#00ff43"/><stop offset="0.695" stop-color="#00ff39"/><stop offset="0.698" stop-color="#07ff34"/><stop offset="0.705" stop-color="#21ff32"/><stop offset="0.727" stop-color="#45ff26"/><stop offset="0.756" stop-color="#61ff0e"/><stop offset="0.766" stop-color="#69ff00"/><stop offset="0.854" stop-color="#a3ff00"/><stop offset="1.000" stop-color="#dfff00"/></linearGradient>
<linearGradient id="g68" gradientUnits="userSpaceOnUse" x1="45" x2="201" y1="0" y2="0"><stop offset="0.000" stop-color="#00ffd3"/><stop offset="0.378" stop-color="#00ffb5"/><stop offset="0.554" stop-color="#00ff90"/><stop offset="0.641" stop-color="#00ff68"/><stop offset="0.679" stop-color="#00ff44"/><stop offset="0.686" stop-color="#03ff3a"/><stop offset="0.692" stop-color="#1fff38"/><stop offset="0.715" stop-color="#45ff2e"/><stop offset="0.756" stop-color="#6bff10"/><stop offset="0.769" stop-color="#74ff00"/><stop offset="0.869" stop-color="#b1ff00"/><stop offset="1.000" stop-color="#e5ff00"/></linearGradient>
<linearGradient id="g69" gradientUnits="userSpaceOnUse" x1="45" x2="202" y1="0" y2="0"><stop offset="0.000" stop-color="#00ffd3"/><stop offset="0.376" stop-color="#00ffb5"/><stop offset="0.551" stop-color="#00ff91"/><stop offset="0.637" stop-color="#00ff69"/><stop offset="0.678" stop-color="#00ff40"/><stop offset="0.685" stop-color="#1dff3d"/><stop offset="0.704" stop-color="#40ff36"/><stop offset="0.758" stop-color="#72ff16"/><stop offset="0.774" stop-color="#7cff00"/><stop offset="0.882" stop-color="#bbff00"/><stop offset="1.000" stop-color="#e9ff00"/></linearGradient>
<linearGradient id="g70" gradientUnits="userSpaceOnUse" x1="45" x2="203" y1="0" y2="0"><stop offset="0.000" stop-color="#00ffd4"/><stop offset="0.373" stop-color="#00ffb6"/><stop offset="0.547" stop-color="#00ff92"/><stop offset="0.633" stop-color="#00ff6a"/><stop offset="0.671" stop-color="#00ff46"/><stop offset="0.680" stop-color="#24ff42"/><stop offset="0.706" stop-color="#4bff39"/><stop offset="0.763" stop-color="#7aff18"/><stop offset="0.782" stop-color="#86ff00"/><stop offset="0.899" stop-color="#c6ff00"/><stop offset="1.000" stop-color="#ecff00"/></linearGradient>
<linearGradient id="g71" gradientUnits="userSpaceOnUse" x1="45" x2="204" y1="0" y2="0"><stop offset="0.000" stop-color="#00ffd4"/><stop offset="0.374" stop-color="#00ffb6"/><stop offset="0.544" stop-color="#00ff93"/><stop offset="0.629" stop-color="#00ff6b"/><stop offset="0.664" stop-color="#00ff4b"/><stop offset="0.676" stop-color="#29ff46"/><stop offset="0.708" stop-color="#54ff3b"/><stop offset="0.767" stop-color="#82ff1a"/><stop offset="0.786" stop-color="#8eff00"/><stop offset="0.912" stop-color="#cfff00"/><stop offset="1.000" stop-color="#f0ff00"/></linearGradient>
<linearGradient id="g72" gradientUnits="userSpaceOnUse" x1="45" x2="206" y1="0" y2="0"><stop offset="0.000" stop-color="#00ffd5"/><stop offset="0.370" stop-color="#00ffb7"/><stop offset="0.537" stop-color="#00ff94"/><stop offset="0.621" stop-color="#00ff6c"/><stop offset="0.652" stop-color="#00ff50"/><stop offset="0.655" stop-color="#05ff4d"/><stop offset="0.661" stop-color="#20ff4b"/><stop offset="0.683" stop-color="#46ff45"/><stop offset="0.742" stop-color="#7aff2d"/><stop offset="0.776" stop-color="#8fff11"/><stop offset="0.786" stop-color="#95ff00"/><stop offset="0.916" stop-color="#d7ff00"/><stop offset="1.000" stop-color="#f6ff00"/></linearGradient>
<linearGradient id="g73" gradientUnits="userSpaceOnUse" x1="45" x2="207" y1="0" y2="0"><stop offset="0.000" stop-color="#00ffd5"/><stop offset="0.367" stop-color="#00ffb8"/><stop offset="0.534" stop-color="#00ff95"/><stop offset="0.617" stop-color="#00ff6d"/><stop offset="0.648" stop-color="#00ff51"/><stop offset="0.654" stop-color="#1eff4f"/><stop offset="0.673" stop-color="#41ff4a"/><stop offset="0.725" stop-color="#73ff38"/><stop offset="0.778" stop-color="#95ff17"/><stop offset="0.793" stop-color="#9eff00"/><stop offset="0.935" stop-color="#e2ff00"/><stop offset="1.000" stop-color="#faff00"/></linearGradient>
<linearGradient id="g74" gradientUnits="userSpaceOnUse" x1="45" x2="208" y1="0" y2="0"><stop offset="0.000" stop-color="#00ffd6"/><stop offset="0.365" stop-color="#00ffb9"/><stop offset="0.534" stop-color="#00ff95"/><stop offset="0.617" stop-color="#00ff6c"/><stop offset="0.641" stop-color="#00ff56"/><stop offset="0.650" stop-color="#25ff53"/><stop offset="0.675" stop-color="#4cff4c"/><stop offset="0.739" stop-color="#82ff35"/><stop offset="0.785" stop-color="#9eff16"/><stop offset="0.798" stop-color="#a4ff00"/><stop offset="0.945" stop-color="#e9ff00"/><stop offset="1.000" stop-color="#fdff00"/></linearGradient>
<linearGradient id="g75" gradientUnits="userSpaceOnUse" x1="45" x2="209" y1="0" y2="0"><stop offset="0.000" stop-color="#00ffd6"/><stop offset="0.363" stop-color="#00ffb9"/><stop offset="0.530" stop-color="#00ff96"/><stop offset="0.613" stop-color="#00ff6d"/><stop offset="0.634" stop-color="#00ff5a"/><stop offset="0.643" stop-color="#23ff57"/><stop offset="0.668" stop-color="#4cff51"/><stop offset="0.732" stop-color="#82ff3c"/><stop offset="0.787" stop-color="#a3ff1b"/><stop offset="0.805" stop-color="#acff00"/><stop offset="0.960" stop-color="#f3ff00"/><stop offset="1.000" stop-color="#fffd00"/></linearGradient>
<linearGradient id="g76" gradientUnits="userSpaceOnUse" x1="46" x2="211" y1="0" y2="0"><stop offset="0.000" stop-color="#00ffd7"/><stop offset="0.358" stop-color="#00ffba"/><stop offset="0.521" stop-color="#00ff97"/><stop offset="0.603" stop-color="#00ff6e"/><stop offset="0.621" stop-color="#00ff5e"/><stop offset="0.624" stop-color="#07ff5c"/><stop offset="0.630" stop-color="#21ff5b"/><stop offset="0.652" stop-color="#48ff56"/><stop offset="0.709" stop-color="#7cff45"/><stop offset="0.779" stop-color="#a6ff22"/><stop offset="0.800" stop-color="#b1ff07"/><stop offset="0.806" stop-color="#b5ff00"/><stop offset="0.970" stop-color="#fdff00"/><stop offset="1.000" stop-color="#fff700"/></linearGradient>
<linearGradient id="g77" gradientUnits="userSpaceOnUse" x1="46" x2="213" y1="0" y2="0"><stop offset="0.000" stop-color="#00ffd7"/><stop offset="0.356" stop-color="#00ffba"/><stop offset="0.518" stop-color="#00ff96"/><stop offset="0.596" stop-color="#00ff6f"/><stop offset="0.614" stop-color="#02ff60"/><stop offset="0.617" stop-color="#15ff5f"/><stop offset="0.629" stop-color="#34ff5c"/><stop offset="0.665" stop-color="#61ff54"/><stop offset="0.754" stop-color="#a0ff33"/><stop offset="0.793" stop-color="#b5ff14"/><stop offset="0.805" stop-color="#bbff00"/><stop offset="0.961" stop-color="#fffe00"/><stop offset="1.000" stop-color="#fff100"/></linearGradient>
<linearGradient id="g78" gradientUnits="userSpaceOnUse" x1="46" x2="214" y1="0" y2="0"><stop offset="0.000" stop-color="#00ffd8"/><stop offset="0.354" stop-color="#00ffbb"/><stop offset="0.515" stop-color="#00ff97"/><stop offset="0.592" stop-color="#00ff70"/><stop offset="0.607" stop-color="#00ff63"/><stop offset="0.613" stop-color="#1eff62"/><stop offset="0.631" stop-color="#42ff5e"/><stop offset="0.682" stop-color="#75ff51"/><stop offset="0.774" stop-color="#afff2b"/><stop offset="0.804" stop-color="#beff0e"/><stop offset="0.810" stop-color="#c1ff00"/><stop offset="0.952" stop-color="#fffe00"/><stop offset="1.000" stop-color="#ffee00"/></linearGradient>
<linearGradient id="g79" gradientUnits="userSpaceOnUse" x1="46" x2="216" y1="0" y2="0"><stop offset="0.000" stop-color="#00ffd8"/><stop offset="0.350" stop-color="#00ffbc"/><stop offset="0.509" stop-color="#00ff98"/><stop offset="0.585" stop-color="#00ff71"/><stop offset="0.597" stop-color="#00ff67"/><stop offset="0.606" stop-color="#25ff65"/><stop offset="0.629" stop-color="#4dff60"/><stop offset="0.691" stop-color="#85ff50"/><stop offset="0.776" stop-color="#b7ff2b"/><stop offset="0.803" stop-color="#c4ff10"/><stop offset="0.812" stop-color="#c9ff00"/><stop offset="0.938" stop-color="#fffd00"/><stop offset="1.000" stop-color="#ffe800"/></linearGradient>
<linearGradient id="g80" gradientUnits="userSpaceOnUse" x1="46" x2="217" y1="0" y2="0"><stop offset="0.000" stop-color="#00ffd9"/><stop offset="0.348" stop-color="#00ffbd"/><stop offset="0.506" stop-color="#00ff99"/><stop offset="0.582" stop-color="#00ff72"/><stop offset="0.591" stop-color="#00ff6b"/><stop offset="0.602" stop-color="#2bff68"/><stop offset="0.629" stop-color="#54ff62"/><stop offset="0.696" stop-color="#8dff51"/><stop offset="0.781" stop-color="#bdff2c"/><stop offset="0.810" stop-color="#ccff0e"/><stop offset="0.816" stop-color="#cfff00"/><stop offset="0.930" stop-color="#fffc00"/><stop offset="1.000" stop-color="#ffe500"/></linearGradient>
<linearGradient id="g81" gradientUnits="userSpaceOnUse" x1="46" x2="219" y1="0" y2="0"><stop offset="0.000" stop-color="#00ffd9"/><stop offset="0.344" stop-color="#00ffbe"/><stop offset="0.500" stop-color="#00ff9b"/><stop offset="0.575" stop-color="#00ff73"/><stop offset="0.584" stop-color="#04ff6d"/><stop offset="0.590" stop-color="#21ff6c"/><stop offset="0.610" stop-color="#48ff68"/><stop offset="0.665" stop-color="#7eff5b"/><stop offset="0.772" stop-color="#bfff33"/><stop offset="0.806" stop-color="#d1ff15"/><stop offset="0.818" stop-color="#d6ff00"/><stop offset="0.916" stop-color="#fffb00"/><stop offset="1.000" stop-color="#ffe000"/></linearGradient>
<linearGradient id="g82" gradientUnits="userSpaceOnUse" x1="47" x2="220" y1="0" y2="0"><stop offset="0.000" stop-color="#00ffda"/><stop offset="0.341" stop-color="#00ffbe"/><stop offset="0.494" stop-color="#00ff9c"/><stop offset="0.569" stop-color="#00ff75"/><stop offset="0.575" stop-color="#00ff70"/><stop offset="0.581" stop-color="#1fff6f"/><stop offset="0.598" stop-color="#44ff6c"/><stop offset="0.647" stop-color="#77ff61"/><stop offset="0.763" stop-color="#c0ff3b"/><stop offset="0.806" stop-color="#d6ff1b"/><stop offset="0.821" stop-color="#ddff00"/><stop offset="0.905" stop-color="#fffb00"/><stop offset="1.000" stop-color="#ffdd00"/></linearGradient>
<linearGradient id="g83" gradientUnits="userSpaceOnUse" x1="47" x2="221" y1="0" y2="0"><stop offset="0.000" stop-color="#00ffda"/><stop offset="0.342" stop-color="#00ffbe"/><stop offset="0.494" stop-color="#00ff9c"/><stop offset="0.569" stop-color="#00ff74"/><stop offset="0.578" stop-color="#26ff71"/><stop offset="0.601" stop-color="#4fff6d"/><stop offset="0.661" stop-color="#87ff60"/><stop offset="0.773" stop-color="#c9ff39"/><stop offset="0.813" stop-color="#ddff1a"/><stop offset="0.828" stop-color="#e4ff00"/><stop offset="0.894" stop-color="#fffc00"/><stop offset="1.000" stop-color="#ffd900"/></linearGradient>
<linearGradient id="g84" gradientUnits="userSpaceOnUse" x1="47" x2="222" y1="0" y2="0"><stop offset="0.000" stop-color="#00ffdb"/><stop offset="0.340" stop-color="#00ffbf"/><stop offset="0.491" stop-color="#00ff9d"/><stop offset="0.563" stop-color="#00ff77"/><stop offset="0.571" stop-color="#24ff75"/><stop offset="0.591" stop-color="#4bff71"/><stop offset="0.646" stop-color="#80ff66"/><stop offset="0.771" stop-color="#cdff3d"/><stop offset="0.817" stop-color="#e3ff1c"/><stop offset="0.831" stop-color="#eaff00"/><stop offset="0.886" stop-color="#fffb00"/><stop offset="1.000" stop-color="#ffd600"/></linearGradient>
<linearGradient id="g85" gradientUnits="userSpaceOnUse" x1="47" x2="224" y1="0" y2="0"><stop offset="0.000" stop-color="#00ffdb"/><stop offset="0.336" stop-color="#00ffc0"/><stop offset="0.486" stop-color="#00ff9e"/><stop offset="0.554" stop-color="#00ff7a"/><stop offset="0.556" stop-color="#06ff79"/><stop offset="0.562" stop-color="#22ff78"/><stop offset="0.582" stop-color="#4aff74"/><stop offset="0.636" stop-color="#80ff6a"/><stop offset="0.763" stop-color="#cfff43"/><stop offset="0.814" stop-color="#e8ff21"/><stop offset="0.828" stop-color="#efff0c"/><stop offset="0.836" stop-color="#f3ff00"/><stop offset="0.873" stop-color="#fffa00"/><stop offset="1.000" stop-color="#ffd100"/></linearGradient>
<linearGradient id="g86" gradientUnits="userSpaceOnUse" x1="47" x2="226" y1="0" y2="0"><stop offset="0.000" stop-color="#00ffdc"/><stop offset="0.332" stop-color="#00ffc1"/><stop offset="0.480" stop-color="#00ff9f"/><stop offset="0.547" stop-color="#00ff7c"/><stop offset="0.550" stop-color="#15ff7b"/><stop offset="0.561" stop-color="#36ff79"/><stop offset="0.595" stop-color="#65ff73"/><stop offset="0.676" stop-color="#a4ff62"/><stop offset="0.782" stop-color="#dfff3a"/><stop offset="0.821" stop-color="#f3ff19"/><stop offset="0.832" stop-color="#f8ff00"/><stop offset="0.869" stop-color="#fff600"/><stop offset="1.000" stop-color="#ffcd00"/></linearGradient>
<linearGradient id="g87" gradientUnits="userSpaceOnUse" x1="47" x2="227" y1="0" y2="0"><stop offset="0.000" stop-color="#00ffdd"/><stop offset="0.333" stop-color="#00ffc2"/><stop offset="0.478" stop-color="#00ffa0"/><stop offset="0.542" stop-color="#00ff7f"/><stop offset="0.547" stop-color="#1eff7e"/><stop offset="0.564" stop-color="#44ff7b"/><stop offset="0.608" stop-color="#77ff73"/><stop offset="0.714" stop-color="#bfff59"/><stop offset="0.800" stop-color="#edff33"/><stop offset="0.831" stop-color="#fbff12"/><stop offset="0.839" stop-color="#fffe00"/><stop offset="0.978" stop-color="#ffcf00"/><stop offset="1.000" stop-color="#ffca00"/></linearGradient>
<linearGradient id="g88" gradientUnits="userSpaceOnUse" x1="47" x2="228" y1="0" y2="0"><stop offset="0.000" stop-color="#00ffdd"/><stop offset="0.331" stop-color="#00ffc2"/><stop offset="0.475" stop-color="#00ffa1"/><stop offset="0.536" stop-color="#00ff82"/><stop offset="0.544" stop-color="#26ff80"/><stop offset="0.564" stop-color="#4cff7d"/><stop offset="0.616" stop-color="#83ff74"/><stop offset="0.740" stop-color="#d2ff53"/><stop offset="0.812" stop-color="#f7ff2e"/><stop offset="0.837" stop-color="#fffb0f"/><stop offset="0.843" stop-color="#fff800"/><stop offset="0.989" stop-color="#ffc900"/><stop offset="1.000" stop-color="#ffc700"/></linearGradient>
<linearGradient id="g89" gradientUnits="userSpaceOnUse" x1="48" x2="229" y1="0" y2="0"><stop offset="0.000" stop-color="#00ffde"/><stop offset="0.329" stop-color="#00ffc3"/><stop offset="0.472" stop-color="#00ffa1"/><stop offset="0.528" stop-color="#00ff85"/><stop offset="0.530" stop-color="#08ff84"/><stop offset="0.536" stop-color="#24ff83"/><stop offset="0.555" stop-color="#4cff80"/><stop offset="0.608" stop-color="#83ff77"/><stop offset="0.729" stop-color="#d1ff59"/><stop offset="0.812" stop-color="#fcff32"/><stop offset="0.840" stop-color="#fff512"/><stop offset="0.848" stop-color="#fff100"/><stop offset="1.000" stop-color="#ffc400"/></linearGradient>
<linearGradient id="g90" gradientUnits="userSpaceOnUse" x1="48" x2="231" y1="0" y2="0"><stop offset="0.000" stop-color="#00ffde"/><stop offset="0.325" stop-color="#00ffc4"/><stop offset="0.467" stop-color="#00ffa3"/><stop offset="0.522" stop-color="#02ff87"/><stop offset="0.525" stop-color="#17ff87"/><stop offset="0.536" stop-color="#38ff85"/><stop offset="0.568" stop-color="#67ff80"/><stop offset="0.648" stop-color="#a7ff71"/><stop offset="0.776" stop-color="#f0ff48"/><stop offset="0.814" stop-color="#fffa30"/><stop offset="0.842" stop-color="#ffee0e"/><stop offset="0.847" stop-color="#ffec00"/><stop offset="1.000" stop-color="#ffbf00"/></linearGradient>
<linearGradient id="g91" gradientUnits="userSpaceOnUse" x1="48" x2="232" y1="0" y2="0"><stop offset="0.000" stop-color="#00ffdf"/><stop offset="0.326" stop-color="#00ffc5"/><stop offset="0.465" stop-color="#00ffa4"/><stop offset="0.516" stop-color="#00ff8a"/><stop offset="0.522" stop-color="#20ff89"/><stop offset="0.538" stop-color="#46ff87"/><stop offset="0.582" stop-color="#79ff80"/><stop offset="0.685" stop-color="#c3ff6a"/><stop offset="0.796" stop-color="#ffff41"/><stop offset="0.840" stop-color="#ffeb1a"/><stop offset="0.853" stop-color="#ffe500"/><stop offset="1.000" stop-color="#ffbc00"/></linearGradient>
<linearGradient id="g92" gradientUnits="userSpaceOnUse" x1="48" x2="233" y1="0" y2="0"><stop offset="0.000" stop-color="#00ffdf"/><stop offset="0.324" stop-color="#00ffc5"/><stop offset="0.462" stop-color="#00ffa5"/><stop offset="0.511" stop-color="#00ff8d"/><stop offset="0.519" stop-color="#27ff8b"/><stop offset="0.538" stop-color="#4eff89"/><stop offset="0.589" stop-color="#85ff81"/><stop offset="0.711" stop-color="#d6ff66"/><stop offset="0.795" stop-color="#fffb45"/><stop offset="0.843" stop-color="#ffe51b"/><stop offset="0.857" stop-color="#ffe000"/><stop offset="1.000" stop-color="#ffb900"/></linearGradient>
<linearGradient id="g93" gradientUnits="userSpaceOnUse" x1="48" x2="236" y1="0" y2="0"><stop offset="0.000" stop-color="#00ffe0"/><stop offset="0.319" stop-color="#00ffc6"/><stop offset="0.455" stop-color="#00ffa6"/><stop offset="0.500" stop-color="#00ff90"/><stop offset="0.508" stop-color="#25ff8e"/><stop offset="0.527" stop-color="#4dff8c"/><stop offset="0.577" stop-color="#85ff84"/><stop offset="0.694" stop-color="#d5ff6b"/><stop offset="0.777" stop-color="#fffc4d"/><stop offset="0.838" stop-color="#ffe01c"/><stop offset="0.854" stop-color="#ffda00"/><stop offset="1.000" stop-color="#ffb400"/></linearGradient>
<linearGradient id="g94" gradientUnits="userSpaceOnUse" x1="48" x2="237" y1="0" y2="0"><stop offset="0.000" stop-color="#00ffe1"/><stop offset="0.320" stop-color="#00ffc7"/><stop offset="0.455" stop-color="#00ffa7"/><stop offset="0.495" stop-color="#00ff93"/><stop offset="0.497" stop-color="#05ff92"/><stop offset="0.500" stop-color="#18ff91"/><stop offset="0.511" stop-color="#39ff90"/><stop offset="0.542" stop-color="#69ff8c"/><stop offset="0.619" stop-color="#aaff7e"/><stop offset="0.762" stop-color="#ffff57"/><stop offset="0.839" stop-color="#ffdc20"/><stop offset="0.854" stop-color="#ffd606"/><stop offset="0.860" stop-color="#ffd400"/><stop offset="1.000" stop-color="#ffb100"/></linearGradient>
<linearGradient id="g95" gradientUnits="userSpaceOnUse" x1="48" x2="238" y1="0" y2="0"><stop offset="0.000" stop-color="#00ffe1"/><stop offset="0.318" stop-color="#00ffc8"/><stop offset="0.453" stop-color="#00ffa8"/><stop offset="0.492" stop-color="#00ff95"/><stop offset="0.495" stop-color="#15ff94"/><stop offset="0.505" stop-color="#38ff93"/><stop offset="0.537" stop-color="#68ff8e"/><stop offset="0.613" stop-color="#abff82"/><stop offset="0.755" stop-color="#fffe5d"/><stop offset="0.839" stop-color="#ffd824"/><stop offset="0.858" stop-color="#ffd109"/><stop offset="0.866" stop-color="#ffce00"/><stop offset="1.000" stop-color="#ffae00"/></linearGradient>
<linearGradient id="g96" gradientUnits="userSpaceOnUse" x1="49" x2="239" y1="0" y2="0"><stop offset="0.000" stop-color="#00ffe2"/><stop offset="0.316" stop-color="#00ffc9"/><stop offset="0.450" stop-color="#00ffa8"/><stop offset="0.484" stop-color="#00ff98"/><stop offset="0.489" stop-color="#1fff97"/><stop offset="0.505" stop-color="#47ff95"/><stop offset="0.547" stop-color="#7cff8f"/><stop offset="0.647" stop-color="#c7ff7d"/><stop offset="0.750" stop-color="#fffb60"/><stop offset="0.842" stop-color="#ffd324"/><stop offset="0.863" stop-color="#ffcb06"/><stop offset="0.868" stop-color="#ffc900"/><stop offset="1.000" stop-color="#ffab00"/></linearGradient>
<linearGradient id="g97" gradientUnits="userSpaceOnUse" x1="49" x2="240" y1="0" y2="0"><stop offset="0.000" stop-color="#00ffe2"/><stop offset="0.317" stop-color="#00ffc9"/><stop offset="0.448" stop-color="#00ffaa"/><stop offset="0.479" stop-color="#00ff9b"/><stop offset="0.487" stop-color="#27ff99"/><stop offset="0.505" stop-color="#4fff97"/><stop offset="0.552" stop-color="#86ff90"/><stop offset="0.665" stop-color="#d6ff7c"/><stop offset="0.741" stop-color="#fffc66"/><stop offset="0.846" stop-color="#ffce25"/><stop offset="0.866" stop-color="#ffc609"/><stop offset="0.874" stop-color="#ffc400"/><stop offset="1.000" stop-color="#ffa800"/></linearGradient>
<linearGradient id="g98" gradientUnits="userSpaceOnUse" x1="49" x2="243" y1="0" y2="0"><stop offset="0.000" stop-color="#00ffe3"/><stop offset="0.312" stop-color="#00ffcb"/><stop offset="0.441" stop-color="#00ffab"/><stop offset="0.469" stop-color="#00ff9e"/><stop offset="0.472" stop-color="#07ff9c"/><stop offset="0.477" stop-color="#25ff9c"/><stop offset="0.495" stop-color="#4fff9a"/><stop offset="0.541" stop-color="#86ff93"/><stop offset="0.652" stop-color="#d7ff80"/><stop offset="0.727" stop-color="#fffb6b"/><stop offset="0.840" stop-color="#ffc925"/><stop offset="0.861" stop-color="#ffc20c"/><stop offset="0.869" stop-color="#ffc000"/><stop offset="1.000" stop-color="#ffa400"/></linearGradient>
<linearGradient id="g99" gradientUnits="userSpaceOnUse" x1="49" x2="244" y1="0" y2="0"><stop offset="0.000" stop-color="#00ffe4"/><stop offset="0.313" stop-color="#00ffcb"/><stop offset="0.441" stop-color="#00ffab"/><stop offset="0.467" stop-color="#01ff9f"/><stop offset="0.469" stop-color="#17ff9f"/><stop offset="0.479" stop-color="#3aff9e"/><stop offset="0.510" stop-color="#6bff9a"/><stop offset="0.585" stop-color="#aeff8f"/><stop offset="0.715" stop-color="#fffd72"/><stop offset="0.844" stop-color="#ffc426"/><stop offset="0.867" stop-color="#ffbd08"/><stop offset="0.874" stop-color="#ffba00"/><stop offset="1.000" stop-color="#ffa100"/></linearGradient>
<linearGradient id="g100" gradientUnits="userSpaceOnUse" x1="49" x2="245" y1="0" y2="0"><stop offset="0.000" stop-color="#00ffe4"/><stop offset="0.311" stop-color="#00ffcc"/><stop offset="0.439" stop-color="#00ffad"/><stop offset="0.462" stop-color="#00ffa2"/><stop offset="0.467" stop-color="#21ffa1"/><stop offset="0.482" stop-color="#49ffa0"/><stop offset="0.523" stop-color="#7eff9a"/><stop offset="0.620" stop-color="#cbff8b"/><stop offset="0.709" stop-color="#fffc76"/><stop offset="0.847" stop-color="#ffc026"/><stop offset="0.870" stop-color="#ffb80b"/><stop offset="0.878" stop-color="#ffb600"/><stop offset="1.000" stop-color="#ff9e00"/></linearGradient>
<linearGradient id="g101" gradientUnits="userSpaceOnUse" x1="49" x2="246" y1="0" y2="0"><stop offset="0.000" stop-color="#00ffe5"/><stop offset="0.312" stop-color="#00ffcd"/><stop offset="0.437" stop-color="#00ffae"/><stop offset="0.457" stop-color="#00ffa5"/><stop offset="0.464" stop-color="#29ffa4"/><stop offset="0.482" stop-color="#51ffa2"/><stop offset="0.528" stop-color="#88ff9c"/><stop offset="0.637" stop-color="#dbff8a"/><stop offset="0.701" stop-color="#fffc7b"/><stop offset="0.835" stop-color="#ffc132"/><stop offset="0.871" stop-color="#ffb511"/><stop offset="0.881" stop-color="#ffb200"/><stop offset="1.000" stop-color="#ff9b00"/></linearGradient>
<linearGradient id="g102" gradientUnits="userSpaceOnUse" x1="49" x2="247" y1="0" y2="0"><stop offset="0.000" stop-color="#00ffe6"/><stop offset="0.311" stop-color="#00ffce"/><stop offset="0.434" stop-color="#00ffb0"/><stop offset="0.452" stop-color="#00ffa8"/><stop offset="0.460" stop-color="#27ffa6"/><stop offset="0.477" stop-color="#50ffa5"/><stop offset="0.523" stop-color="#88ff9f"/><stop offset="0.631" stop-color="#dbff8e"/><stop offset="0.694" stop-color="#fffb7f"/><stop offset="0.828" stop-color="#ffbf38"/><stop offset="0.874" stop-color="#ffb113"/><stop offset="0.886" stop-color="#ffad00"/><stop offset="1.000" stop-color="#ff9800"/></linearGradient>
<linearGradient id="g103" gradientUnits="userSpaceOnUse" x1="50" x2="250" y1="0" y2="0"><stop offset="0.000" stop-color="#00ffe6"/><stop offset="0.305" stop-color="#00ffcf"/><stop offset="0.427" stop-color="#00ffb0"/><stop offset="0.443" stop-color="#04ffaa"/><stop offset="0.445" stop-color="#19ffa9"/><stop offset="0.455" stop-color="#3cffa8"/><stop offset="0.485" stop-color="#6dffa5"/><stop offset="0.557" stop-color="#b2ff9c"/><stop offset="0.675" stop-color="#fffd85"/><stop offset="0.805" stop-color="#ffc142"/><stop offset="0.865" stop-color="#ffad17"/><stop offset="0.880" stop-color="#ffa900"/><stop offset="1.000" stop-color="#ff9300"/></linearGradient>
<linearGradient id="g104" gradientUnits="userSpaceOnUse" x1="50" x2="251" y1="0" y2="0"><stop offset="0.000" stop-color="#00ffe7"/><stop offset="0.306" stop-color="#00ffd0"/><stop offset="0.428" stop-color="#00ffb1"/><stop offset="0.438" stop-color="#00ffad"/><stop offset="0.440" stop-color="#16ffac"/><stop offset="0.448" stop-color="#34ffab"/><stop offset="0.470" stop-color="#5fffa9"/><stop offset="0.527" stop-color="#9dffa2"/><stop offset="0.664" stop-color="#ffff8b"/><stop offset="0.791" stop-color="#ffc34b"/><stop offset="0.866" stop-color="#ffaa1b"/><stop offset="0.886" stop-color="#ffa400"/><stop offset="1.000" stop-color="#ff9100"/></linearGradient>
<linearGradient id="g105" gradientUnits="userSpaceOnUse" x1="50" x2="252" y1="0" y2="0"><stop offset="0.000" stop-color="#00ffe8"/><stop offset="0.307" stop-color="#00ffd1"/><stop offset="0.426" stop-color="#00ffb3"/><stop offset="0.433" stop-color="#00ffaf"/><stop offset="0.438" stop-color="#20ffaf"/><stop offset="0.450" stop-color="#45ffad"/><stop offset="0.485" stop-color="#79ffaa"/><stop offset="0.567" stop-color="#c2ff9f"/><stop offset="0.661" stop-color="#fffc8d"/><stop offset="0.787" stop-color="#ffc14e"/><stop offset="0.866" stop-color="#ffa71e"/><stop offset="0.891" stop-color="#ffa000"/><stop offset="1.000" stop-color="#ff8e00"/></linearGradient>
<linearGradient id="g106" gradientUnits="userSpaceOnUse" x1="50" x2="254" y1="0" y2="0"><stop offset="0.000" stop-color="#00ffe8"/><stop offset="0.304" stop-color="#00ffd2"/><stop offset="0.422" stop-color="#00ffb4"/><stop offset="0.426" stop-color="#00ffb2"/><stop offset="0.434" stop-color="#29ffb1"/><stop offset="0.451" stop-color="#52ffaf"/><stop offset="0.495" stop-color="#8bffab"/><stop offset="0.598" stop-color="#dfff9c"/><stop offset="0.652" stop-color="#fffb91"/><stop offset="0.777" stop-color="#ffc052"/><stop offset="0.865" stop-color="#ffa31f"/><stop offset="0.890" stop-color="#ff9c00"/><stop offset="1.000" stop-color="#ff8a00"/></linearGradient>
<linearGradient id="g107" gradientUnits="userSpaceOnUse" x1="50" x2="255" y1="0" y2="0"><stop offset="0.000" stop-color="#00ffe9"/><stop offset="0.305" stop-color="#00ffd3"/><stop offset="0.422" stop-color="#00ffb5"/><stop offset="0.424" stop-color="#06ffb4"/><stop offset="0.427" stop-color="#1bffb4"/><stop offset="0.437" stop-color="#3dffb3"/><stop offset="0.466" stop-color="#6fffb0"/><stop offset="0.534" stop-color="#b3ffa8"/><stop offset="0.644" stop-color="#fffc95"/><stop offset="0.766" stop-color="#ffc058"/><stop offset="0.866" stop-color="#ff9f21"/><stop offset="0.888" stop-color="#ff9907"/><stop offset="0.898" stop-color="#ff9700"/><stop offset="1.000" stop-color="#ff8700"/></linearGradient>
<linearGradient id="g108" gradientUnits="userSpaceOnUse" x1="51" x2="256" y1="0" y2="0"><stop offset="0.000" stop-color="#00ffea"/><stop offset="0.302" stop-color="#00ffd4"/><stop offset="0.417" stop-color="#00ffb7"/><stop offset="0.420" stop-color="#18ffb7"/><stop offset="0.429" stop-color="#3cffb6"/><stop offset="0.456" stop-color="#6cffb3"/><stop offset="0.522" stop-color="#b0ffac"/><stop offset="0.634" stop-color="#fffc9a"/><stop offset="0.754" stop-color="#ffc15e"/><stop offset="0.868" stop-color="#ff9b22"/><stop offset="0.893" stop-color="#ff9504"/><stop offset="0.920" stop-color="#ff9000"/><stop offset="1.000" stop-color="#ff8400"/></linearGradient>
<linearGradient id="g109" gradientUnits="userSpaceOnUse" x1="51" x2="257" y1="0" y2="0"><stop offset="0.000" stop-color="#00ffea"/><stop offset="0.303" stop-color="#00ffd5"/><stop offset="0.413" stop-color="#00ffba"/><stop offset="0.417" stop-color="#22ffb9"/><stop offset="0.430" stop-color="#47ffb8"/><stop offset="0.464" stop-color="#7bffb5"/><stop offset="0.544" stop-color="#c6ffac"/><stop offset="0.629" stop-color="#fffb9d"/><stop offset="0.748" stop-color="#ffc062"/><stop offset="0.871" stop-color="#ff9722"/><stop offset="0.896" stop-color="#ff9107"/><stop offset="0.908" stop-color="#ff8e00"/><stop offset="1.000" stop-color="#ff8100"/></linearGradient>
<linearGradient id="g110" gradientUnits="userSpaceOnUse" x1="51" x2="258" y1="0" y2="0"><stop offset="0.000" stop-color="#00ffeb"/><stop offset="0.304" stop-color="#00ffd6"/><stop offset="0.408" stop-color="#00ffbd"/><stop offset="0.415" stop-color="#2affbc"/><stop offset="0.432" stop-color="#55ffba"/><stop offset="0.476" stop-color="#8effb6"/><stop offset="0.577" stop-color="#e4ffaa"/><stop offset="0.621" stop-color="#fffca1"/><stop offset="0.739" stop-color="#ffc066"/><stop offset="0.872" stop-color="#ff9425"/><stop offset="0.899" stop-color="#ff8d09"/><stop offset="0.906" stop-color="#ff8b00"/><stop offset="1.000" stop-color="#ff7e00"/></linearGradient>
<linearGradient id="g111" gradientUnits="userSpaceOnUse" x1="52" x2="260" y1="0" y2="0"><stop offset="0.000" stop-color="#00ffec"/><stop offset="0.300" stop-color="#00ffd7"/><stop offset="0.399" stop-color="#00ffc0"/><stop offset="0.401" stop-color="#09ffbf"/><stop offset="0.406" stop-color="#28ffbe"/><stop offset="0.421" stop-color="#4fffbd"/><stop offset="0.459" stop-color="#87ffba"/><stop offset="0.550" stop-color="#d8ffb0"/><stop offset="0.608" stop-color="#fffca6"/><stop offset="0.724" stop-color="#ffc06b"/><stop offset="0.870" stop-color="#ff9025"/><stop offset="0.899" stop-color="#ff8806"/><stop offset="0.911" stop-color="#ff8600"/><stop offset="1.000" stop-color="#ff7a00"/></linearGradient>
<linearGradient id="g112" gradientUnits="userSpaceOnUse" x1="52" x2="262" y1="0" y2="0"><stop offset="0.000" stop-color="#00ffed"/><stop offset="0.300" stop-color="#00ffd8"/><stop offset="0.395" stop-color="#02ffc2"/><stop offset="0.398" stop-color="#1affc1"/><stop offset="0.407" stop-color="#3effc1"/><stop offset="0.433" stop-color="#6fffbe"/><stop offset="0.498" stop-color="#b4ffb8"/><stop offset="0.598" stop-color="#fffdaa"/><stop offset="0.710" stop-color="#ffc171"/><stop offset="0.869" stop-color="#ff8c25"/><stop offset="0.898" stop-color="#ff8508"/><stop offset="0.905" stop-color="#ff8300"/><stop offset="1.000" stop-color="#ff7700"/></linearGradient>
<linearGradient id="g113" gradientUnits="userSpaceOnUse" x1="52" x2="263" y1="0" y2="0"><stop offset="0.000" stop-color="#00ffed"/><stop offset="0.301" stop-color="#00ffd9"/><stop offset="0.391" stop-color="#00ffc4"/><stop offset="0.393" stop-color="#16ffc4"/><stop offset="0.400" stop-color="#36ffc4"/><stop offset="0.422" stop-color="#64ffc2"/><stop offset="0.474" stop-color="#a3ffbd"/><stop offset="0.588" stop-color="#ffffb0"/><stop offset="0.697" stop-color="#ffc377"/><stop offset="0.872" stop-color="#ff8826"/><stop offset="0.900" stop-color="#ff810a"/><stop offset="0.910" stop-color="#ff7f00"/><stop offset="1.000" stop-color="#ff7400"/></linearGradient>
<linearGradient id="g114" gradientUnits="userSpaceOnUse" x1="52" x2="264" y1="0" y2="0"><stop offset="0.000" stop-color="#00ffee"/><stop offset="0.302" stop-color="#00ffda"/><stop offset="0.387" stop-color="#00ffc7"/><stop offset="0.392" stop-color="#22ffc7"/><stop offset="0.403" stop-color="#48ffc6"/><stop offset="0.434" stop-color="#7bffc3"/><stop offset="0.507" stop-color="#c5ffbd"/><stop offset="0.585" stop-color="#fffcb1"/><stop offset="0.693" stop-color="#ffc179"/><stop offset="0.875" stop-color="#ff8526"/><stop offset="0.906" stop-color="#ff7c08"/><stop offset="0.915" stop-color="#ff7b00"/><stop offset="1.000" stop-color="#ff7000"/></linearGradient>
<linearGradient id="g115" gradientUnits="userSpaceOnUse" x1="53" x2="266" y1="0" y2="0"><stop offset="0.000" stop-color="#00ffef"/><stop offset="0.300" stop-color="#00ffdb"/><stop offset="0.378" stop-color="#00ffca"/><stop offset="0.385" stop-color="#2affc9"/><stop offset="0.399" stop-color="#52ffc8"/><stop offset="0.437" stop-color="#8affc5"/><stop offset="0.526" stop-color="#ddffbd"/><stop offset="0.575" stop-color="#fffbb4"/><stop offset="0.683" stop-color="#ffc07b"/><stop offset="0.873" stop-color="#ff8126"/><stop offset="0.904" stop-color="#ff790a"/><stop offset="0.913" stop-color="#ff7700"/><stop offset="1.000" stop-color="#ff6d00"/></linearGradient>
<linearGradient id="g116" gradientUnits="userSpaceOnUse" x1="53" x2="267" y1="0" y2="0"><stop offset="0.000" stop-color="#00fff0"/><stop offset="0.301" stop-color="#00ffdc"/><stop offset="0.374" stop-color="#00ffcd"/><stop offset="0.376" stop-color="#05ffcc"/><stop offset="0.379" stop-color="#1cffcc"/><stop offset="0.388" stop-color="#40ffcc"/><stop offset="0.414" stop-color="#71ffca"/><stop offset="0.477" stop-color="#b8ffc5"/><stop offset="0.565" stop-color="#fffdba"/><stop offset="0.671" stop-color="#ffc181"/><stop offset="0.864" stop-color="#ff802e"/><stop offset="0.904" stop-color="#ff750f"/><stop offset="0.916" stop-color="#ff7300"/><stop offset="1.000" stop-color="#ff6900"/></linearGradient>
<linearGradient id="g117" gradientUnits="userSpaceOnUse" x1="53" x2="268" y1="0" y2="0"><stop offset="0.000" stop-color="#00fff0"/><stop offset="0.305" stop-color="#00ffdd"/><stop offset="0.372" stop-color="#00ffcf"/><stop offset="0.374" stop-color="#18ffcf"/><stop offset="0.381" stop-color="#38ffce"/><stop offset="0.402" stop-color="#66ffcd"/><stop offset="0.453" stop-color="#a6ffc9"/><stop offset="0.558" stop-color="#fffebe"/><stop offset="0.660" stop-color="#ffc286"/><stop offset="0.849" stop-color="#ff8137"/><stop offset="0.905" stop-color="#ff7213"/><stop offset="0.921" stop-color="#ff6e00"/><stop offset="1.000" stop-color="#ff6600"/></linearGradient>
<linearGradient id="g118" gradientUnits="userSpaceOnUse" x1="53" x2="270" y1="0" y2="0"><stop offset="0.000" stop-color="#00fff1"/><stop offset="0.304" stop-color="#00ffdf"/><stop offset="0.366" stop-color="#00ffd2"/><stop offset="0.371" stop-color="#24ffd2"/><stop offset="0.382" stop-color="#4affd1"/><stop offset="0.412" stop-color="#7effcf"/><stop offset="0.484" stop-color="#caffca"/><stop offset="0.551" stop-color="#fffcc1"/><stop offset="0.652" stop-color="#ffc189"/><stop offset="0.841" stop-color="#ff7f3a"/><stop offset="0.903" stop-color="#ff6e14"/><stop offset="0.919" stop-color="#ff6a00"/><stop offset="1.000" stop-color="#ff6200"/></linearGradient>
<linearGradient id="g119" gradientUnits="userSpaceOnUse" x1="53" x2="272" y1="0" y2="0"><stop offset="0.000" stop-color="#00fff2"/><stop offset="0.304" stop-color="#00ffe0"/><stop offset="0.361" stop-color="#00ffd5"/><stop offset="0.368" stop-color="#2cffd4"/><stop offset="0.381" stop-color="#54ffd3"/><stop offset="0.418" stop-color="#8dffd1"/><stop offset="0.505" stop-color="#e3ffcb"/><stop offset="0.543" stop-color="#fffbc4"/><stop offset="0.644" stop-color="#ffc08b"/><stop offset="0.831" stop-color="#ff7e3e"/><stop offset="0.900" stop-color="#ff6b17"/><stop offset="0.920" stop-color="#ff6600"/><stop offset="1.000" stop-color="#ff5e00"/></linearGradient>
<linearGradient id="g120" gradientUnits="userSpaceOnUse" x1="54" x2="273" y1="0" y2="0"><stop offset="0.000" stop-color="#00fff3"/><stop offset="0.306" stop-color="#00ffe1"/><stop offset="0.354" stop-color="#00ffd8"/><stop offset="0.356" stop-color="#08ffd7"/><stop offset="0.358" stop-color="#1effd7"/><stop offset="0.368" stop-color="#42ffd7"/><stop offset="0.393" stop-color="#74ffd5"/><stop offset="0.452" stop-color="#baffd1"/><stop offset="0.534" stop-color="#fffcc8"/><stop offset="0.632" stop-color="#ffc190"/><stop offset="0.815" stop-color="#ff7f46"/><stop offset="0.900" stop-color="#ff681a"/><stop offset="0.922" stop-color="#ff6200"/><stop offset="1.000" stop-color="#ff5b00"/></linearGradient>
<linearGradient id="g121" gradientUnits="userSpaceOnUse" x1="54" x2="274" y1="0" y2="0"><stop offset="0.000" stop-color="#00fff4"/><stop offset="0.307" stop-color="#00ffe2"/><stop offset="0.352" stop-color="#01ffda"/><stop offset="0.355" stop-color="#1bffda"/><stop offset="0.361" stop-color="#3affda"/><stop offset="0.382" stop-color="#69ffd9"/><stop offset="0.432" stop-color="#abffd6"/><stop offset="0.525" stop-color="#fffece"/><stop offset="0.620" stop-color="#ffc296"/><stop offset="0.795" stop-color="#ff824f"/><stop offset="0.898" stop-color="#ff651e"/><stop offset="0.927" stop-color="#ff5d00"/><stop offset="1.000" stop-color="#ff5700"/></linearGradient>
<linearGradient id="g122" gradientUnits="userSpaceOnUse" x1="54" x2="275" y1="0" y2="0"><stop offset="0.000" stop-color="#00fff4"/><stop offset="0.310" stop-color="#00ffe4"/><stop offset="0.348" stop-color="#00ffdd"/><stop offset="0.353" stop-color="#26ffdd"/><stop offset="0.364" stop-color="#4cffdc"/><stop offset="0.394" stop-color="#82ffdb"/><stop offset="0.464" stop-color="#cfffd7"/><stop offset="0.523" stop-color="#fffbcf"/><stop offset="0.620" stop-color="#ffbf96"/><stop offset="0.801" stop-color="#ff7d4d"/><stop offset="0.903" stop-color="#ff601d"/><stop offset="0.930" stop-color="#ff5900"/><stop offset="1.000" stop-color="#ff5300"/></linearGradient>
<linearGradient id="g123" gradientUnits="userSpaceOnUse" x1="54" x2="277" y1="0" y2="0"><stop offset="0.000" stop-color="#00fff5"/><stop offset="0.312" stop-color="#00ffe5"/><stop offset="0.343" stop-color="#00ffe0"/><stop offset="0.348" stop-color="#23ffe0"/><stop offset="0.359" stop-color="#4cffdf"/><stop offset="0.388" stop-color="#82ffde"/><stop offset="0.457" stop-color="#d0ffda"/><stop offset="0.513" stop-color="#fffbd3"/><stop offset="0.608" stop-color="#ffc09a"/><stop offset="0.783" stop-color="#ff7e54"/><stop offset="0.899" stop-color="#ff5c1f"/><stop offset="0.930" stop-color="#ff5400"/><stop offset="1.000" stop-color="#ff4f00"/></linearGradient>
<linearGradient id="g124" gradientUnits="userSpaceOnUse" x1="55" x2="278" y1="0" y2="0"><stop offset="0.000" stop-color="#00fff6"/><stop offset="0.314" stop-color="#00ffe7"/><stop offset="0.336" stop-color="#00ffe3"/><stop offset="0.339" stop-color="#0cffe3"/><stop offset="0.341" stop-color="#20ffe3"/><stop offset="0.350" stop-color="#44ffe2"/><stop offset="0.374" stop-color="#77ffe1"/><stop offset="0.433" stop-color="#bfffde"/><stop offset="0.504" stop-color="#fffcd8"/><stop offset="0.596" stop-color="#ffc19f"/><stop offset="0.767" stop-color="#ff7f5a"/><stop offset="0.899" stop-color="#ff5921"/><stop offset="0.928" stop-color="#ff5003"/><stop offset="1.000" stop-color="#ff4a00"/></linearGradient>
<linearGradient id="g125" gradientUnits="userSpaceOnUse" x1="55" x2="280" y1="0" y2="0"><stop offset="0.000" stop-color="#00fff7"/><stop offset="0.318" stop-color="#00ffe8"/><stop offset="0.333" stop-color="#04ffe6"/><stop offset="0.336" stop-color="#1dffe5"/><stop offset="0.344" stop-color="#43ffe5"/><stop offset="0.369" stop-color="#77ffe4"/><stop offset="0.427" stop-color="#c0ffe2"/><stop offset="0.496" stop-color="#fffddc"/><stop offset="0.587" stop-color="#ffc0a2"/><stop offset="0.756" stop-color="#ff7e5d"/><stop offset="0.896" stop-color="#ff5522"/><stop offset="0.927" stop-color="#ff4c05"/><stop offset="0.953" stop-color="#ff4900"/><stop offset="1.000" stop-color="#ff4600"/></linearGradient>
<linearGradient id="g126" gradientUnits="userSpaceOnUse" x1="55" x2="281" y1="0" y2="0"><stop offset="0.000" stop-color="#00fff8"/><stop offset="0.323" stop-color="#00ffe9"/><stop offset="0.330" stop-color="#00ffe9"/><stop offset="0.332" stop-color="#19ffe8"/><stop offset="0.338" stop-color="#3bffe8"/><stop offset="0.358" stop-color="#6cffe8"/><stop offset="0.407" stop-color="#b0ffe6"/><stop offset="0.489" stop-color="#fffde0"/><stop offset="0.577" stop-color="#ffc1a7"/><stop offset="0.741" stop-color="#ff8063"/><stop offset="0.898" stop-color="#ff5023"/><stop offset="0.929" stop-color="#ff4706"/><stop offset="0.940" stop-color="#ff4500"/><stop offset="1.000" stop-color="#ff4100"/></linearGradient>
<linearGradient id="g127" gradientUnits="userSpaceOnUse" x1="55" x2="283" y1="0" y2="0"><stop offset="0.000" stop-color="#00fff9"/><stop offset="0.325" stop-color="#00ffeb"/><stop offset="0.329" stop-color="#25ffeb"/><stop offset="0.340" stop-color="#4effeb"/><stop offset="0.368" stop-color="#85ffea"/><stop offset="0.436" stop-color="#d6ffe8"/><stop offset="0.482" stop-color="#fffce3"/><stop offset="0.570" stop-color="#ffc0a9"/><stop offset="0.732" stop-color="#ff7e66"/><stop offset="0.895" stop-color="#ff4c24"/><stop offset="0.928" stop-color="#ff4208"/><stop offset="0.941" stop-color="#ff3f00"/><stop offset="1.000" stop-color="#ff3b00"/></linearGradient>
<linearGradient id="g128" gradientUnits="userSpaceOnUse" x1="56" x2="284" y1="0" y2="0"><stop offset="0.000" stop-color="#00fffa"/><stop offset="0.318" stop-color="#00ffef"/><stop offset="0.325" stop-color="#2effee"/><stop offset="0.338" stop-color="#58ffee"/><stop offset="0.371" stop-color="#92ffed"/><stop offset="0.450" stop-color="#ebffeb"/><stop offset="0.476" stop-color="#fffae5"/><stop offset="0.564" stop-color="#ffbfab"/><stop offset="0.726" stop-color="#ff7d68"/><stop offset="0.897" stop-color="#ff4725"/><stop offset="0.932" stop-color="#ff3b06"/><stop offset="0.943" stop-color="#ff3900"/><stop offset="1.000" stop-color="#ff3600"/></linearGradient>
<linearGradient id="g129" gradientUnits="userSpaceOnUse" x1="56" x2="286" y1="0" y2="0"><stop offset="0.000" stop-color="#00fffb"/><stop offset="0.313" stop-color="#00fff2"/><stop offset="0.315" stop-color="#07fff1"/><stop offset="0.317" stop-color="#1ffff1"/><stop offset="0.326" stop-color="#46fff1"/><stop offset="0.350" stop-color="#7bfff1"/><stop offset="0.407" stop-color="#c5ffef"/><stop offset="0.465" stop-color="#fffdec"/><stop offset="0.548" stop-color="#ffc2b2"/><stop offset="0.700" stop-color="#ff8171"/><stop offset="0.896" stop-color="#ff4225"/><stop offset="0.930" stop-color="#ff3508"/><stop offset="0.943" stop-color="#ff3300"/><stop offset="1.000" stop-color="#ff3000"/></linearGradient>
<linearGradient id="g130" gradientUnits="userSpaceOnUse" x1="56" x2="287" y1="0" y2="0"><stop offset="0.000" stop-color="#00fffc"/><stop offset="0.312" stop-color="#00fff4"/><stop offset="0.314" stop-color="#1cfff4"/><stop offset="0.320" stop-color="#3dfff4"/><stop offset="0.340" stop-color="#6ffff4"/><stop offset="0.385" stop-color="#b2fff3"/><stop offset="0.459" stop-color="#fffef0"/><stop offset="0.541" stop-color="#ffc2b5"/><stop offset="0.693" stop-color="#ff8074"/><stop offset="0.898" stop-color="#ff3c25"/><stop offset="0.933" stop-color="#ff2e09"/><stop offset="0.944" stop-color="#ff2b00"/><stop offset="1.000" stop-color="#ff2900"/></linearGradient>
<linearGradient id="g131" gradientUnits="userSpaceOnUse" x1="56" x2="288" y1="0" y2="0"><stop offset="0.000" stop-color="#00fffc"/><stop offset="0.308" stop-color="#00fff7"/><stop offset="0.312" stop-color="#27fff7"/><stop offset="0.323" stop-color="#51fff7"/><stop offset="0.351" stop-color="#89fff7"/><stop offset="0.418" stop-color="#dcfff6"/><stop offset="0.455" stop-color="#fffcf3"/><stop offset="0.537" stop-color="#ffc0b8"/><stop offset="0.688" stop-color="#ff7e76"/><stop offset="0.901" stop-color="#ff3626"/><stop offset="0.938" stop-color="#ff2607"/><stop offset="0.950" stop-color="#ff2200"/><stop offset="1.000" stop-color="#ff2000"/></linearGradient>
<linearGradient id="g132" gradientUnits="userSpaceOnUse" x1="56" x2="289" y1="0" y2="0"><stop offset="0.000" stop-color="#00fffd"/><stop offset="0.305" stop-color="#00fffb"/><stop offset="0.309" stop-color="#25fffb"/><stop offset="0.318" stop-color="#49fffa"/><stop offset="0.341" stop-color="#7efffa"/><stop offset="0.397" stop-color="#cafffa"/><stop offset="0.448" stop-color="#fffdf7"/><stop offset="0.528" stop-color="#ffc1bc"/><stop offset="0.674" stop-color="#ff807b"/><stop offset="0.903" stop-color="#ff2f26"/><stop offset="0.940" stop-color="#ff1c09"/><stop offset="0.951" stop-color="#ff1700"/><stop offset="1.000" stop-color="#ff1500"/></linearGradient>
<linearGradient id="g133" gradientUnits="userSpaceOnUse" x1="57" x2="292" y1="0" y2="0"><stop offset="0.000" stop-color="#00fffe"/><stop offset="0.296" stop-color="#00fffe"/><stop offset="0.298" stop-color="#0bfffe"/><stop offset="0.300" stop-color="#22fffe"/><stop offset="0.309" stop-color="#48fffe"/><stop offset="0.332" stop-color="#7efffe"/><stop offset="0.387" stop-color="#cbfffe"/><stop offset="0.438" stop-color="#fffbfa"/><stop offset="0.517" stop-color="#ffc0be"/><stop offset="0.664" stop-color="#ff7d7c"/><stop offset="0.898" stop-color="#ff2726"/><stop offset="0.936" stop-color="#ff0a07"/><stop offset="0.949" stop-color="#ff0300"/><stop offset="1.000" stop-color="#ff0200"/></linearGradient>
<linearGradient id="g134" gradientUnits="userSpaceOnUse" x1="57" x2="293" y1="0" y2="0"><stop offset="0.000" stop-color="#00ffff"/><stop offset="0.294" stop-color="#02fdff"/><stop offset="0.297" stop-color="#1efdff"/><stop offset="0.303" stop-color="#3ffdff"/><stop offset="0.322" stop-color="#71fdff"/><stop offset="0.367" stop-color="#b6fdff"/><stop offset="0.434" stop-color="#fffafc"/><stop offset="0.513" stop-color="#ffbec0"/><stop offset="0.657" stop-color="#ff7c7f"/><stop offset="0.886" stop-color="#ff262e"/><stop offset="0.922" stop-color="#ff0a19"/><stop offset="0.932" stop-color="#ff0014"/><stop offset="1.000" stop-color="#ff0012"/></linearGradient>
<linearGradient id="g135" gradientUnits="userSpaceOnUse" x1="57" x2="294" y1="0" y2="0"><stop offset="0.000" stop-color="#00feff"/><stop offset="0.291" stop-color="#00faff"/><stop offset="0.293" stop-color="#19faff"/><stop offset="0.300" stop-color="#3dfaff"/><stop offset="0.316" stop-color="#6bfaff"/><stop offset="0.359" stop-color="#aef9ff"/><stop offset="0.432" stop-color="#fff6fd"/><stop offset="0.511" stop-color="#ffbbc1"/><stop offset="0.654" stop-color="#ff7a80"/><stop offset="0.871" stop-color="#ff2735"/><stop offset="0.907" stop-color="#ff0a24"/><stop offset="0.918" stop-color="#ff0020"/><stop offset="1.000" stop-color="#ff001e"/></linearGradient>
<linearGradient id="g136" gradientUnits="userSpaceOnUse" x1="58" x2="295" y1="0" y2="0"><stop offset="0.000" stop-color="#00fdff"/><stop offset="0.285" stop-color="#00f7ff"/><stop offset="0.289" stop-color="#26f7ff"/><stop offset="0.297" stop-color="#49f7ff"/><stop offset="0.321" stop-color="#7ef6ff"/><stop offset="0.376" stop-color="#c9f6ff"/><stop offset="0.428" stop-color="#fff3fd"/><stop offset="0.506" stop-color="#ffb8c2"/><stop offset="0.652" stop-color="#ff7681"/><stop offset="0.859" stop-color="#ff263b"/><stop offset="0.895" stop-color="#ff072c"/><stop offset="0.907" stop-color="#ff0029"/><stop offset="1.000" stop-color="#ff0026"/></linearGradient>
<linearGradient id="g137" gradientUnits="userSpaceOnUse" x1="58" x2="297" y1="0" y2="0"><stop offset="0.000" stop-color="#00fcff"/><stop offset="0.280" stop-color="#00f4ff"/><stop offset="0.287" stop-color="#2ef4ff"/><stop offset="0.299" stop-color="#59f4ff"/><stop offset="0.331" stop-color="#94f3ff"/><stop offset="0.406" stop-color="#eef1ff"/><stop offset="0.427" stop-color="#ffedfb"/><stop offset="0.508" stop-color="#ffb2bf"/><stop offset="0.659" stop-color="#ff6f7e"/><stop offset="0.841" stop-color="#ff2641"/><stop offset="0.874" stop-color="#ff0a34"/><stop offset="0.885" stop-color="#ff0031"/><stop offset="1.000" stop-color="#ff002c"/></linearGradient>
<linearGradient id="g138" gradientUnits="userSpaceOnUse" x1="58" x2="299" y1="0" y2="0"><stop offset="0.000" stop-color="#00faff"/><stop offset="0.276" stop-color="#00f1ff"/><stop offset="0.278" stop-color="#05f1ff"/><stop offset="0.280" stop-color="#1ef1ff"/><stop offset="0.288" stop-color="#45f1ff"/><stop offset="0.311" stop-color="#7af0ff"/><stop offset="0.365" stop-color="#c5efff"/><stop offset="0.423" stop-color="#ffe9fc"/><stop offset="0.504" stop-color="#ffafc0"/><stop offset="0.654" stop-color="#ff6c7f"/><stop offset="0.826" stop-color="#ff2546"/><stop offset="0.859" stop-color="#ff073a"/><stop offset="0.869" stop-color="#ff0038"/><stop offset="1.000" stop-color="#ff0031"/></linearGradient>
<linearGradient id="g139" gradientUnits="userSpaceOnUse" x1="59" x2="299" y1="0" y2="0"><stop offset="0.000" stop-color="#00f9ff"/><stop offset="0.273" stop-color="#00eeff"/><stop offset="0.275" stop-color="#1aeeff"/><stop offset="0.281" stop-color="#3ceeff"/><stop offset="0.300" stop-color="#6dedff"/><stop offset="0.344" stop-color="#afecff"/><stop offset="0.419" stop-color="#ffe8fe"/><stop offset="0.500" stop-color="#ffadc2"/><stop offset="0.648" stop-color="#ff6b81"/><stop offset="0.815" stop-color="#ff254b"/><stop offset="0.848" stop-color="#ff0740"/><stop offset="0.858" stop-color="#ff003e"/><stop offset="1.000" stop-color="#ff0036"/></linearGradient>
<linearGradient id="g140" gradientUnits="userSpaceOnUse" x1="59" x2="301" y1="0" y2="0"><stop offset="0.000" stop-color="#00f8ff"/><stop offset="0.269" stop-color="#00ebff"/><stop offset="0.273" stop-color="#26ebff"/><stop offset="0.283" stop-color="#4eebff"/><stop offset="0.310" stop-color="#85eaff"/><stop offset="0.374" stop-color="#d6e7ff"/><stop offset="0.417" stop-color="#ffe2fc"/><stop offset="0.500" stop-color="#ffa8c0"/><stop offset="0.653" stop-color="#ff647f"/><stop offset="0.802" stop-color="#ff234f"/><stop offset="0.831" stop-color="#ff0745"/><stop offset="0.841" stop-color="#ff0043"/><stop offset="1.000" stop-color="#ff003a"/></linearGradient>
<linearGradient id="g141" gradientUnits="userSpaceOnUse" x1="59" x2="303" y1="0" y2="0"><stop offset="0.000" stop-color="#00f7ff"/><stop offset="0.264" stop-color="#00e8ff"/><stop offset="0.270" stop-color="#2ee8ff"/><stop offset="0.283" stop-color="#57e7ff"/><stop offset="0.314" stop-color="#90e6ff"/><stop offset="0.387" stop-color="#e7e2ff"/><stop offset="0.416" stop-color="#ffddfb"/><stop offset="0.500" stop-color="#ffa3bf"/><stop offset="0.656" stop-color="#ff5e7d"/><stop offset="0.787" stop-color="#ff2253"/><stop offset="0.816" stop-color="#ff034a"/><stop offset="1.000" stop-color="#ff003e"/></linearGradient>
<linearGradient id="g142" gradientUnits="userSpaceOnUse" x1="60" x2="304" y1="0" y2="0"><stop offset="0.000" stop-color="#00f6ff"/><stop offset="0.252" stop-color="#00e7ff"/><stop offset="0.258" stop-color="#00e5ff"/><stop offset="0.260" stop-color="#08e5ff"/><stop offset="0.262" stop-color="#1fe5ff"/><stop offset="0.270" stop-color="#44e5ff"/><stop offset="0.293" stop-color="#78e4ff"/><stop offset="0.346" stop-color="#c0e1ff"/><stop offset="0.410" stop-color="#ffdbfd"/><stop offset="0.494" stop-color="#ffa1c1"/><stop offset="0.648" stop-color="#ff5d80"/><stop offset="0.773" stop-color="#ff2258"/><stop offset="0.799" stop-color="#ff0750"/><stop offset="0.807" stop-color="#ff004e"/><stop offset="1.000" stop-color="#ff0041"/></linearGradient>
<linearGradient id="g143" gradientUnits="userSpaceOnUse" x1="60" x2="306" y1="0" y2="0"><stop offset="0.000" stop-color="#00f5ff"/><stop offset="0.244" stop-color="#00e5ff"/><stop offset="0.256" stop-color="#00e2ff"/><stop offset="0.258" stop-color="#1be2ff"/><stop offset="0.264" stop-color="#3be2ff"/><stop offset="0.283" stop-color="#6be1ff"/><stop offset="0.327" stop-color="#aedfff"/><stop offset="0.407" stop-color="#ffd7fd"/><stop offset="0.490" stop-color="#ff9ec2"/><stop offset="0.644" stop-color="#ff5980"/><stop offset="0.758" stop-color="#ff215c"/><stop offset="0.785" stop-color="#ff0354"/><stop offset="1.000" stop-color="#ff0044"/></linearGradient>
<linearGradient id="g144" gradientUnits="userSpaceOnUse" x1="60" x2="307" y1="0" y2="0"><stop offset="0.000" stop-color="#00f4ff"/><stop offset="0.237" stop-color="#00e3ff"/><stop offset="0.253" stop-color="#00dfff"/><stop offset="0.257" stop-color="#26dfff"/><stop offset="0.267" stop-color="#4ddfff"/><stop offset="0.294" stop-color="#82ddff"/><stop offset="0.356" stop-color="#d1d9ff"/><stop offset="0.407" stop-color="#ffd2fb"/><stop offset="0.492" stop-color="#ff99c0"/><stop offset="0.650" stop-color="#ff527f"/><stop offset="0.749" stop-color="#ff1e5f"/><stop offset="0.775" stop-color="#ff0058"/><stop offset="1.000" stop-color="#ff0047"/></linearGradient>
<linearGradient id="g145" gradientUnits="userSpaceOnUse" x1="60" x2="308" y1="0" y2="0"><stop offset="0.000" stop-color="#00f3ff"/><stop offset="0.230" stop-color="#00e1ff"/><stop offset="0.250" stop-color="#00ddff"/><stop offset="0.256" stop-color="#2edcff"/><stop offset="0.268" stop-color="#56dcff"/><stop offset="0.300" stop-color="#90daff"/><stop offset="0.377" stop-color="#e7d4ff"/><stop offset="0.405" stop-color="#ffcffc"/><stop offset="0.492" stop-color="#ff95c0"/><stop offset="0.651" stop-color="#ff4d7e"/><stop offset="0.738" stop-color="#ff1d63"/><stop offset="0.762" stop-color="#ff005c"/><stop offset="1.000" stop-color="#ff004a"/></linearGradient>
<linearGradient id="g146" gradientUnits="userSpaceOnUse" x1="61" x2="310" y1="0" y2="0"><stop offset="0.000" stop-color="#00f2ff"/><stop offset="0.221" stop-color="#00dfff"/><stop offset="0.243" stop-color="#00daff"/><stop offset="0.245" stop-color="#0bdaff"/><stop offset="0.247" stop-color="#1fdaff"/><stop offset="0.255" stop-color="#43d9ff"/><stop offset="0.277" stop-color="#75d8ff"/><stop offset="0.329" stop-color="#bcd4ff"/><stop offset="0.400" stop-color="#ffcbfc"/><stop offset="0.486" stop-color="#ff92c0"/><stop offset="0.647" stop-color="#ff487f"/><stop offset="0.725" stop-color="#ff1966"/><stop offset="0.745" stop-color="#ff0060"/><stop offset="1.000" stop-color="#ff004c"/></linearGradient>
<linearGradient id="g147" gradientUnits="userSpaceOnUse" x1="61" x2="311" y1="0" y2="0"><stop offset="0.000" stop-color="#00f1ff"/><stop offset="0.214" stop-color="#00deff"/><stop offset="0.242" stop-color="#03d7ff"/><stop offset="0.244" stop-color="#1bd7ff"/><stop offset="0.252" stop-color="#41d6ff"/><stop offset="0.274" stop-color="#74d5ff"/><stop offset="0.326" stop-color="#bad1ff"/><stop offset="0.398" stop-color="#ffc7fc"/><stop offset="0.484" stop-color="#ff8fc1"/><stop offset="0.644" stop-color="#ff4480"/><stop offset="0.714" stop-color="#ff186a"/><stop offset="0.732" stop-color="#ff0065"/><stop offset="1.000" stop-color="#ff004f"/></linearGradient>
<linearGradient id="g148" gradientUnits="userSpaceOnUse" x1="61" x2="313" y1="0" y2="0"><stop offset="0.000" stop-color="#00f0ff"/><stop offset="0.208" stop-color="#00dcff"/><stop offset="0.238" stop-color="#00d4ff"/><stop offset="0.240" stop-color="#17d4ff"/><stop offset="0.246" stop-color="#38d4ff"/><stop offset="0.264" stop-color="#67d2ff"/><stop offset="0.308" stop-color="#a8cfff"/><stop offset="0.393" stop-color="#ffc5fe"/><stop offset="0.478" stop-color="#ff8dc3"/><stop offset="0.635" stop-color="#ff4282"/><stop offset="0.698" stop-color="#ff186e"/><stop offset="0.716" stop-color="#ff0069"/><stop offset="1.000" stop-color="#ff0051"/></linearGradient>
<linearGradient id="g149" gradientUnits="userSpaceOnUse" x1="61" x2="314" y1="0" y2="0"><stop offset="0.000" stop-color="#00eeff"/><stop offset="0.204" stop-color="#00daff"/><stop offset="0.235" stop-color="#00d2ff"/><stop offset="0.239" stop-color="#23d1ff"/><stop offset="0.249" stop-color="#4ad0ff"/><stop offset="0.275" stop-color="#7eceff"/><stop offset="0.336" stop-color="#cac9ff"/><stop offset="0.395" stop-color="#ffbffb"/><stop offset="0.484" stop-color="#ff85bf"/><stop offset="0.650" stop-color="#ff337d"/><stop offset="0.692" stop-color="#ff1170"/><stop offset="0.704" stop-color="#ff006d"/><stop offset="1.000" stop-color="#ff0053"/></linearGradient>
<linearGradient id="g150" gradientUnits="userSpaceOnUse" x1="62" x2="314" y1="0" y2="0"><stop offset="0.000" stop-color="#00edff"/><stop offset="0.196" stop-color="#00d9ff"/><stop offset="0.230" stop-color="#00cfff"/><stop offset="0.236" stop-color="#2bceff"/><stop offset="0.248" stop-color="#53cdff"/><stop offset="0.280" stop-color="#8bcbff"/><stop offset="0.355" stop-color="#e0c3ff"/><stop offset="0.393" stop-color="#ffbbfb"/><stop offset="0.482" stop-color="#ff82c0"/><stop offset="0.649" stop-color="#ff2d7e"/><stop offset="0.683" stop-color="#ff0e74"/><stop offset="0.692" stop-color="#ff0071"/><stop offset="1.000" stop-color="#ff0055"/></linearGradient>
<linearGradient id="g151" gradientUnits="userSpaceOnUse" x1="62" x2="314" y1="0" y2="0"><stop offset="0.000" stop-color="#00ecff"/><stop offset="0.192" stop-color="#00d7ff"/><stop offset="0.228" stop-color="#00ccff"/><stop offset="0.230" stop-color="#06ccff"/><stop offset="0.232" stop-color="#1cccff"/><stop offset="0.240" stop-color="#40cbff"/><stop offset="0.262" stop-color="#71c9ff"/><stop offset="0.313" stop-color="#b6c4ff"/><stop offset="0.393" stop-color="#ffb7fc"/><stop offset="0.484" stop-color="#ff7ec0"/><stop offset="0.649" stop-color="#ff277f"/><stop offset="0.675" stop-color="#ff0a77"/><stop offset="0.683" stop-color="#ff0075"/><stop offset="1.000" stop-color="#ff0057"/></linearGradient>
<linearGradient id="g152" gradientUnits="userSpaceOnUse" x1="62" x2="311" y1="0" y2="0"><stop offset="0.000" stop-color="#00ebff"/><stop offset="0.191" stop-color="#00d5ff"/><stop offset="0.231" stop-color="#00c9ff"/><stop offset="0.233" stop-color="#18c9ff"/><stop offset="0.239" stop-color="#37c8ff"/><stop offset="0.257" stop-color="#65c7ff"/><stop offset="0.301" stop-color="#a5c2ff"/><stop offset="0.396" stop-color="#ffb5fd"/><stop offset="0.486" stop-color="#ff7dc2"/><stop offset="0.647" stop-color="#ff2784"/><stop offset="0.673" stop-color="#ff0a7b"/><stop offset="0.681" stop-color="#ff0079"/><stop offset="1.000" stop-color="#ff005a"/></linearGradient>
<linearGradient id="g153" gradientUnits="userSpaceOnUse" x1="63" x2="308" y1="0" y2="0"><stop offset="0.000" stop-color="#00e9ff"/><stop offset="0.188" stop-color="#00d3ff"/><stop offset="0.229" stop-color="#00c7ff"/><stop offset="0.233" stop-color="#23c6ff"/><stop offset="0.243" stop-color="#49c5ff"/><stop offset="0.271" stop-color="#7fc2ff"/><stop offset="0.339" stop-color="#cbbbff"/><stop offset="0.400" stop-color="#ffb0fc"/><stop offset="0.496" stop-color="#ff76c0"/><stop offset="0.645" stop-color="#ff2687"/><stop offset="0.669" stop-color="#ff0a7f"/><stop offset="0.678" stop-color="#ff007d"/><stop offset="1.000" stop-color="#ff005d"/></linearGradient>
<linearGradient id="g154" gradientUnits="userSpaceOnUse" x1="63" x2="305" y1="0" y2="0"><stop offset="0.000" stop-color="#00e8ff"/><stop offset="0.188" stop-color="#00d1ff"/><stop offset="0.229" stop-color="#00c4ff"/><stop offset="0.236" stop-color="#2bc3ff"/><stop offset="0.250" stop-color="#56c2ff"/><stop offset="0.287" stop-color="#91beff"/><stop offset="0.374" stop-color="#e8b3ff"/><stop offset="0.407" stop-color="#ffabfb"/><stop offset="0.506" stop-color="#ff70bf"/><stop offset="0.643" stop-color="#ff268b"/><stop offset="0.667" stop-color="#ff0a84"/><stop offset="0.676" stop-color="#ff0081"/><stop offset="1.000" stop-color="#ff0060"/></linearGradient>
<linearGradient id="g155" gradientUnits="userSpaceOnUse" x1="63" x2="302" y1="0" y2="0"><stop offset="0.000" stop-color="#00e7ff"/><stop offset="0.186" stop-color="#00d0ff"/><stop offset="0.230" stop-color="#00c2ff"/><stop offset="0.232" stop-color="#08c1ff"/><stop offset="0.234" stop-color="#1cc1ff"/><stop offset="0.243" stop-color="#3fc0ff"/><stop offset="0.266" stop-color="#6fbeff"/><stop offset="0.322" stop-color="#b4b7ff"/><stop offset="0.410" stop-color="#ffa9fd"/><stop offset="0.508" stop-color="#ff6fc1"/><stop offset="0.642" stop-color="#ff258f"/><stop offset="0.665" stop-color="#ff0a88"/><stop offset="0.674" stop-color="#ff0086"/><stop offset="0.992" stop-color="#ff0063"/><stop offset="1.000" stop-color="#ff0062"/></linearGradient>
<linearGradient id="g156" gradientUnits="userSpaceOnUse" x1="64" x2="299" y1="0" y2="0"><stop offset="0.000" stop-color="#00e6ff"/><stop offset="0.183" stop-color="#00ceff"/><stop offset="0.230" stop-color="#01beff"/><stop offset="0.232" stop-color="#19beff"/><stop offset="0.240" stop-color="#3ebdff"/><stop offset="0.264" stop-color="#6ebbff"/><stop offset="0.321" stop-color="#b3b4ff"/><stop offset="0.413" stop-color="#ffa5fd"/><stop offset="0.515" stop-color="#ff6ac1"/><stop offset="0.638" stop-color="#ff2593"/><stop offset="0.662" stop-color="#ff0a8c"/><stop offset="0.670" stop-color="#ff008a"/><stop offset="0.981" stop-color="#ff0066"/><stop offset="1.000" stop-color="#ff0065"/></linearGradient>
<linearGradient id="g157" gradientUnits="userSpaceOnUse" x1="64" x2="296" y1="0" y2="0"><stop offset="0.000" stop-color="#00e4ff"/><stop offset="0.183" stop-color="#00ccff"/><stop offset="0.231" stop-color="#00bcff"/><stop offset="0.235" stop-color="#23bbff"/><stop offset="0.246" stop-color="#47baff"/><stop offset="0.276" stop-color="#7cb7ff"/><stop offset="0.347" stop-color="#c7aeff"/><stop offset="0.420" stop-color="#ff9ffb"/><stop offset="0.526" stop-color="#ff64c0"/><stop offset="0.638" stop-color="#ff2496"/><stop offset="0.662" stop-color="#ff068f"/><stop offset="0.675" stop-color="#ff008c"/><stop offset="0.985" stop-color="#ff0069"/><stop offset="1.000" stop-color="#ff0068"/></linearGradient>
<linearGradient id="g158" gradientUnits="userSpaceOnUse" x1="65" x2="293" y1="0" y2="0"><stop offset="0.000" stop-color="#00e3ff"/><stop offset="0.180" stop-color="#00caff"/><stop offset="0.228" stop-color="#00b9ff"/><stop offset="0.235" stop-color="#2ab8ff"/><stop offset="0.250" stop-color="#54b7ff"/><stop offset="0.289" stop-color="#8eb2ff"/><stop offset="0.382" stop-color="#e3a5ff"/><stop offset="0.423" stop-color="#ff9cfc"/><stop offset="0.531" stop-color="#ff60c0"/><stop offset="0.636" stop-color="#ff239a"/><stop offset="0.658" stop-color="#ff0693"/><stop offset="0.671" stop-color="#ff0090"/><stop offset="0.976" stop-color="#ff006c"/><stop offset="1.000" stop-color="#ff006b"/></linearGradient>
<linearGradient id="g159" gradientUnits="userSpaceOnUse" x1="65" x2="290" y1="0" y2="0"><stop offset="0.000" stop-color="#00e2ff"/><stop offset="0.180" stop-color="#00c8ff"/><stop offset="0.229" stop-color="#00b7ff"/><stop offset="0.231" stop-color="#0ab6ff"/><stop offset="0.236" stop-color="#28b6ff"/><stop offset="0.249" stop-color="#4eb4ff"/><stop offset="0.284" stop-color="#85b0ff"/><stop offset="0.369" stop-color="#d5a5ff"/><stop offset="0.429" stop-color="#ff98fc"/><stop offset="0.540" stop-color="#ff5ac0"/><stop offset="0.636" stop-color="#ff219e"/><stop offset="0.656" stop-color="#ff0697"/><stop offset="0.669" stop-color="#ff0094"/><stop offset="0.964" stop-color="#ff0070"/><stop offset="1.000" stop-color="#ff006d"/></linearGradient>
<linearGradient id="g160" gradientUnits="userSpaceOnUse" x1="66" x2="287" y1="0" y2="0"><stop offset="0.000" stop-color="#00e0ff"/><stop offset="0.176" stop-color="#00c6ff"/><stop offset="0.229" stop-color="#03b4ff"/><stop offset="0.231" stop-color="#19b3ff"/><stop offset="0.240" stop-color="#3db2ff"/><stop offset="0.265" stop-color="#6cb0ff"/><stop offset="0.326" stop-color="#afa8ff"/><stop offset="0.432" stop-color="#ff94fc"/><stop offset="0.545" stop-color="#ff56c1"/><stop offset="0.633" stop-color="#ff1fa1"/><stop offset="0.656" stop-color="#ff009a"/><stop offset="0.937" stop-color="#ff0075"/><stop offset="1.000" stop-color="#ff0070"/></linearGradient>
<linearGradient id="g161" gradientUnits="userSpaceOnUse" x1="66" x2="284" y1="0" y2="0"><stop offset="0.000" stop-color="#00dfff"/><stop offset="0.177" stop-color="#00c5ff"/><stop offset="0.229" stop-color="#00b1ff"/><stop offset="0.232" stop-color="#16b1ff"/><stop offset="0.239" stop-color="#34b0ff"/><stop offset="0.259" stop-color="#60aeff"/><stop offset="0.312" stop-color="#9fa7ff"/><stop offset="0.433" stop-color="#ff92ff"/><stop offset="0.550" stop-color="#ff52c2"/><stop offset="0.631" stop-color="#ff20a6"/><stop offset="0.654" stop-color="#ff009f"/><stop offset="0.927" stop-color="#ff0079"/><stop offset="1.000" stop-color="#ff0073"/></linearGradient>
<linearGradient id="g162" gradientUnits="userSpaceOnUse" x1="67" x2="281" y1="0" y2="0"><stop offset="0.000" stop-color="#00ddff"/><stop offset="0.173" stop-color="#00c3ff"/><stop offset="0.227" stop-color="#00afff"/><stop offset="0.231" stop-color="#20aeff"/><stop offset="0.243" stop-color="#45adff"/><stop offset="0.276" stop-color="#79a9ff"/><stop offset="0.353" stop-color="#c29eff"/><stop offset="0.442" stop-color="#ff8bfd"/><stop offset="0.561" stop-color="#ff4bc1"/><stop offset="0.631" stop-color="#ff1ba8"/><stop offset="0.650" stop-color="#ff00a3"/><stop offset="0.916" stop-color="#ff007d"/><stop offset="1.000" stop-color="#ff0075"/></linearGradient>
<linearGradient id="g163" gradientUnits="userSpaceOnUse" x1="67" x2="278" y1="0" y2="0"><stop offset="0.000" stop-color="#00dcff"/><stop offset="0.173" stop-color="#00c1ff"/><stop offset="0.227" stop-color="#00acff"/><stop offset="0.235" stop-color="#28abff"/><stop offset="0.251" stop-color="#52a9ff"/><stop offset="0.294" stop-color="#8aa4ff"/><stop offset="0.393" stop-color="#dc94ff"/><stop offset="0.450" stop-color="#ff86fb"/><stop offset="0.573" stop-color="#ff43c0"/><stop offset="0.630" stop-color="#ff19ac"/><stop offset="0.647" stop-color="#ff00a7"/><stop offset="0.908" stop-color="#ff0080"/><stop offset="1.000" stop-color="#ff0078"/></linearGradient>
<linearGradient id="g164" gradientUnits="userSpaceOnUse" x1="67" x2="275" y1="0" y2="0"><stop offset="0.000" stop-color="#00dbff"/><stop offset="0.173" stop-color="#00bfff"/><stop offset="0.228" stop-color="#00aaff"/><stop offset="0.231" stop-color="#06a9ff"/><stop offset="0.233" stop-color="#1aa9ff"/><stop offset="0.243" stop-color="#3ca8ff"/><stop offset="0.272" stop-color="#6da4ff"/><stop offset="0.341" stop-color="#b29aff"/><stop offset="0.454" stop-color="#ff83fd"/><stop offset="0.579" stop-color="#ff3ec1"/><stop offset="0.630" stop-color="#ff16b0"/><stop offset="0.644" stop-color="#ff00ab"/><stop offset="0.897" stop-color="#ff0084"/><stop offset="1.000" stop-color="#ff007b"/></linearGradient>
<linearGradient id="g165" gradientUnits="userSpaceOnUse" x1="67" x2="272" y1="0" y2="0"><stop offset="0.000" stop-color="#00d9ff"/><stop offset="0.173" stop-color="#00bdff"/><stop offset="0.232" stop-color="#00a6ff"/><stop offset="0.234" stop-color="#17a6ff"/><stop offset="0.244" stop-color="#3aa5ff"/><stop offset="0.271" stop-color="#69a2ff"/><stop offset="0.337" stop-color="#ab98ff"/><stop offset="0.461" stop-color="#ff7efd"/><stop offset="0.588" stop-color="#ff37c2"/><stop offset="0.629" stop-color="#ff13b4"/><stop offset="0.641" stop-color="#ff00b0"/><stop offset="0.888" stop-color="#ff0088"/><stop offset="1.000" stop-color="#ff007d"/></linearGradient>
<linearGradient id="g166" gradientUnits="userSpaceOnUse" x1="68" x2="269" y1="0" y2="0"><stop offset="0.000" stop-color="#00d8ff"/><stop offset="0.172" stop-color="#00bbff"/><stop offset="0.229" stop-color="#00a4ff"/><stop offset="0.234" stop-color="#20a3ff"/><stop offset="0.246" stop-color="#44a2ff"/><stop offset="0.281" stop-color="#779dff"/><stop offset="0.366" stop-color="#c090ff"/><stop offset="0.468" stop-color="#ff78fc"/><stop offset="0.600" stop-color="#ff2cc1"/><stop offset="0.627" stop-color="#ff0fb7"/><stop offset="0.637" stop-color="#ff00b4"/><stop offset="0.878" stop-color="#ff008c"/><stop offset="1.000" stop-color="#ff0080"/></linearGradient>
<linearGradient id="g167" gradientUnits="userSpaceOnUse" x1="68" x2="266" y1="0" y2="0"><stop offset="0.000" stop-color="#00d6ff"/><stop offset="0.172" stop-color="#00b9ff"/><stop offset="0.230" stop-color="#00a2ff"/><stop offset="0.237" stop-color="#28a0ff"/><stop offset="0.255" stop-color="#509eff"/><stop offset="0.301" stop-color="#8898ff"/><stop offset="0.409" stop-color="#da85ff"/><stop offset="0.475" stop-color="#ff74fc"/><stop offset="0.604" stop-color="#ff27c3"/><stop offset="0.626" stop-color="#ff0bbb"/><stop offset="0.634" stop-color="#ff00b9"/><stop offset="0.869" stop-color="#ff0090"/><stop offset="1.000" stop-color="#ff0083"/></linearGradient>
<linearGradient id="g168" gradientUnits="userSpaceOnUse" x1="68" x2="263" y1="0" y2="0"><stop offset="0.000" stop-color="#00d5ff"/><stop offset="0.169" stop-color="#00b8ff"/><stop offset="0.231" stop-color="#009fff"/><stop offset="0.233" stop-color="#089eff"/><stop offset="0.238" stop-color="#269eff"/><stop offset="0.256" stop-color="#4f9bff"/><stop offset="0.303" stop-color="#8695ff"/><stop offset="0.410" stop-color="#d682ff"/><stop offset="0.485" stop-color="#ff6dfb"/><stop offset="0.603" stop-color="#ff25c7"/><stop offset="0.623" stop-color="#ff0bc0"/><stop offset="0.631" stop-color="#ff00be"/><stop offset="0.859" stop-color="#ff0094"/><stop offset="1.000" stop-color="#ff0086"/></linearGradient>
<linearGradient id="g169" gradientUnits="userSpaceOnUse" x1="69" x2="260" y1="0" y2="0"><stop offset="0.000" stop-color="#00d3ff"/><stop offset="0.168" stop-color="#00b5ff"/><stop offset="0.230" stop-color="#029cff"/><stop offset="0.233" stop-color="#179bff"/><stop offset="0.243" stop-color="#3a9aff"/><stop offset="0.275" stop-color="#6a96ff"/><stop offset="0.351" stop-color="#ad8aff"/><stop offset="0.487" stop-color="#ff6afd"/><stop offset="0.597" stop-color="#ff25cc"/><stop offset="0.618" stop-color="#ff0bc5"/><stop offset="0.626" stop-color="#ff00c2"/><stop offset="0.848" stop-color="#ff0099"/><stop offset="1.000" stop-color="#ff0088"/></linearGradient>
<linearGradient id="g170" gradientUnits="userSpaceOnUse" x1="69" x2="257" y1="0" y2="0"><stop offset="0.000" stop-color="#00d2ff"/><stop offset="0.168" stop-color="#00b4ff"/><stop offset="0.231" stop-color="#0099ff"/><stop offset="0.237" stop-color="#2198ff"/><stop offset="0.253" stop-color="#4896ff"/><stop offset="0.295" stop-color="#7d91ff"/><stop offset="0.396" stop-color="#c87fff"/><stop offset="0.497" stop-color="#ff63fb"/><stop offset="0.596" stop-color="#ff24d0"/><stop offset="0.614" stop-color="#ff0bca"/><stop offset="0.622" stop-color="#ff00c7"/><stop offset="0.838" stop-color="#ff009d"/><stop offset="1.000" stop-color="#ff008b"/></linearGradient>
<linearGradient id="g171" gradientUnits="userSpaceOnUse" x1="70" x2="254" y1="0" y2="0"><stop offset="0.000" stop-color="#00d0ff"/><stop offset="0.166" stop-color="#00b1ff"/><stop offset="0.228" stop-color="#0097ff"/><stop offset="0.236" stop-color="#2895ff"/><stop offset="0.255" stop-color="#4f93ff"/><stop offset="0.307" stop-color="#888cff"/><stop offset="0.427" stop-color="#d975ff"/><stop offset="0.503" stop-color="#ff5dfc"/><stop offset="0.592" stop-color="#ff21d5"/><stop offset="0.617" stop-color="#ff00cc"/><stop offset="0.829" stop-color="#ff00a2"/><stop offset="1.000" stop-color="#ff008e"/></linearGradient>
<linearGradient id="g172" gradientUnits="userSpaceOnUse" x1="70" x2="251" y1="0" y2="0"><stop offset="0.000" stop-color="#00ceff"/><stop offset="0.166" stop-color="#00afff"/><stop offset="0.229" stop-color="#0095ff"/><stop offset="0.238" stop-color="#2693ff"/><stop offset="0.257" stop-color="#4e90ff"/><stop offset="0.307" stop-color="#8489ff"/><stop offset="0.425" stop-color="#d472ff"/><stop offset="0.511" stop-color="#ff57fc"/><stop offset="0.588" stop-color="#ff22da"/><stop offset="0.613" stop-color="#ff00d2"/><stop offset="0.818" stop-color="#ff00a6"/><stop offset="1.000" stop-color="#ff0091"/></linearGradient>
<linearGradient id="g173" gradientUnits="userSpaceOnUse" x1="71" x2="248" y1="0" y2="0"><stop offset="0.000" stop-color="#00ccff"/><stop offset="0.164" stop-color="#00adff"/><stop offset="0.229" stop-color="#0491ff"/><stop offset="0.232" stop-color="#1891ff"/><stop offset="0.243" stop-color="#398fff"/><stop offset="0.277" stop-color="#698aff"/><stop offset="0.359" stop-color="#aa7dff"/><stop offset="0.511" stop-color="#ff54ff"/><stop offset="0.585" stop-color="#ff20df"/><stop offset="0.607" stop-color="#ff00d7"/><stop offset="0.808" stop-color="#ff00ab"/><stop offset="1.000" stop-color="#ff0094"/></linearGradient>
<linearGradient id="g174" gradientUnits="userSpaceOnUse" x1="71" x2="245" y1="0" y2="0"><stop offset="0.000" stop-color="#00cbff"/><stop offset="0.164" stop-color="#00abff"/><stop offset="0.230" stop-color="#008eff"/><stop offset="0.233" stop-color="#148eff"/><stop offset="0.244" stop-color="#378cff"/><stop offset="0.279" stop-color="#6888ff"/><stop offset="0.362" stop-color="#a97aff"/><stop offset="0.511" stop-color="#fb50ff"/><stop offset="0.578" stop-color="#ff23e6"/><stop offset="0.595" stop-color="#ff0bdf"/><stop offset="0.603" stop-color="#ff00dc"/><stop offset="0.796" stop-color="#ff00b0"/><stop offset="1.000" stop-color="#ff0096"/></linearGradient>
<linearGradient id="g175" gradientUnits="userSpaceOnUse" x1="72" x2="242" y1="0" y2="0"><stop offset="0.000" stop-color="#00c8ff"/><stop offset="0.162" stop-color="#00a8ff"/><stop offset="0.226" stop-color="#008cff"/><stop offset="0.235" stop-color="#288aff"/><stop offset="0.259" stop-color="#5287ff"/><stop offset="0.318" stop-color="#8a7eff"/><stop offset="0.459" stop-color="#de5fff"/><stop offset="0.535" stop-color="#ff3ffb"/><stop offset="0.582" stop-color="#ff16e7"/><stop offset="0.594" stop-color="#ff00e3"/><stop offset="0.779" stop-color="#ff00b6"/><stop offset="1.000" stop-color="#ff0099"/></linearGradient>
<linearGradient id="g176" gradientUnits="userSpaceOnUse" x1="72" x2="239" y1="0" y2="0"><stop offset="0.000" stop-color="#00c7ff"/><stop offset="0.162" stop-color="#00a7ff"/><stop offset="0.228" stop-color="#008aff"/><stop offset="0.237" stop-color="#2688ff"/><stop offset="0.257" stop-color="#4d85ff"/><stop offset="0.314" stop-color="#847cff"/><stop offset="0.446" stop-color="#d360ff"/><stop offset="0.542" stop-color="#ff38fd"/><stop offset="0.578" stop-color="#ff16ed"/><stop offset="0.590" stop-color="#ff00e9"/><stop offset="0.769" stop-color="#ff00bb"/><stop offset="1.000" stop-color="#ff009c"/></linearGradient>
<linearGradient id="g177" gradientUnits="userSpaceOnUse" x1="72" x2="236" y1="0" y2="0"><stop offset="0.000" stop-color="#00c5ff"/><stop offset="0.165" stop-color="#00a4ff"/><stop offset="0.229" stop-color="#0087ff"/><stop offset="0.232" stop-color="#0686ff"/><stop offset="0.238" stop-color="#2385ff"/><stop offset="0.259" stop-color="#4c82ff"/><stop offset="0.314" stop-color="#8179ff"/><stop offset="0.445" stop-color="#cf5dff"/><stop offset="0.540" stop-color="#fc36ff"/><stop offset="0.573" stop-color="#ff16f4"/><stop offset="0.585" stop-color="#ff00ef"/><stop offset="0.759" stop-color="#ff00c1"/><stop offset="1.000" stop-color="#ff009f"/></linearGradient>
<linearGradient id="g178" gradientUnits="userSpaceOnUse" x1="73" x2="233" y1="0" y2="0"><stop offset="0.000" stop-color="#00c3ff"/><stop offset="0.163" stop-color="#00a1ff"/><stop offset="0.228" stop-color="#0083ff"/><stop offset="0.231" stop-color="#1583ff"/><stop offset="0.244" stop-color="#3781ff"/><stop offset="0.281" stop-color="#667bff"/><stop offset="0.372" stop-color="#a66bff"/><stop offset="0.506" stop-color="#ea43ff"/><stop offset="0.559" stop-color="#ff1ffd"/><stop offset="0.578" stop-color="#ff00f5"/><stop offset="0.747" stop-color="#ff00c7"/><stop offset="1.000" stop-color="#ff00a2"/></linearGradient>
<linearGradient id="g179" gradientUnits="userSpaceOnUse" x1="73" x2="230" y1="0" y2="0"><stop offset="0.000" stop-color="#00c1ff"/><stop offset="0.162" stop-color="#009fff"/><stop offset="0.229" stop-color="#0081ff"/><stop offset="0.236" stop-color="#1f7fff"/><stop offset="0.255" stop-color="#457dff"/><stop offset="0.306" stop-color="#7875ff"/><stop offset="0.427" stop-color="#c05bff"/><stop offset="0.529" stop-color="#ef33ff"/><stop offset="0.561" stop-color="#fd17ff"/><stop offset="0.573" stop-color="#ff00fc"/><stop offset="0.736" stop-color="#ff00cd"/><stop offset="1.000" stop-color="#ff00a5"/></linearGradient>
<linearGradient id="g180" gradientUnits="userSpaceOnUse" x1="74" x2="227" y1="0" y2="0"><stop offset="0.000" stop-color="#00bfff"/><stop offset="0.160" stop-color="#009cff"/><stop offset="0.225" stop-color="#007eff"/><stop offset="0.235" stop-color="#267cff"/><stop offset="0.258" stop-color="#4c79ff"/><stop offset="0.320" stop-color="#826fff"/><stop offset="0.467" stop-color="#d14aff"/><stop offset="0.536" stop-color="#ef27ff"/><stop offset="0.559" stop-color="#f90bff"/><stop offset="0.565" stop-color="#fb00ff"/><stop offset="0.775" stop-color="#ff00c8"/><stop offset="1.000" stop-color="#ff00a9"/></linearGradient>
<linearGradient id="g181" gradientUnits="userSpaceOnUse" x1="74" x2="224" y1="0" y2="0"><stop offset="0.000" stop-color="#00bdff"/><stop offset="0.160" stop-color="#009bff"/><stop offset="0.227" stop-color="#007cff"/><stop offset="0.230" stop-color="#087aff"/><stop offset="0.237" stop-color="#2379ff"/><stop offset="0.260" stop-color="#4b76ff"/><stop offset="0.323" stop-color="#816bff"/><stop offset="0.473" stop-color="#d045ff"/><stop offset="0.537" stop-color="#eb21ff"/><stop offset="0.553" stop-color="#f20aff"/><stop offset="0.560" stop-color="#f400ff"/><stop offset="0.600" stop-color="#ff00fa"/><stop offset="0.783" stop-color="#ff00cb"/><stop offset="1.000" stop-color="#ff00ac"/></linearGradient>
<linearGradient id="g182" gradientUnits="userSpaceOnUse" x1="75" x2="221" y1="0" y2="0"><stop offset="0.000" stop-color="#00bbff"/><stop offset="0.158" stop-color="#0098ff"/><stop offset="0.226" stop-color="#0277ff"/><stop offset="0.229" stop-color="#1677ff"/><stop offset="0.243" stop-color="#3675ff"/><stop offset="0.284" stop-color="#656fff"/><stop offset="0.387" stop-color="#a55aff"/><stop offset="0.500" stop-color="#d933ff"/><stop offset="0.538" stop-color="#e815ff"/><stop offset="0.551" stop-color="#ee00ff"/><stop offset="0.606" stop-color="#ff00fb"/><stop offset="0.795" stop-color="#ff00cc"/><stop offset="1.000" stop-color="#ff00af"/></linearGradient>
<linearGradient id="g183" gradientUnits="userSpaceOnUse" x1="75" x2="218" y1="0" y2="0"><stop offset="0.000" stop-color="#00b9ff"/><stop offset="0.157" stop-color="#0096ff"/><stop offset="0.227" stop-color="#0075ff"/><stop offset="0.234" stop-color="#1f73ff"/><stop offset="0.255" stop-color="#4470ff"/><stop offset="0.315" stop-color="#7866ff"/><stop offset="0.455" stop-color="#c243ff"/><stop offset="0.521" stop-color="#dd20ff"/><stop offset="0.538" stop-color="#e409ff"/><stop offset="0.545" stop-color="#e700ff"/><stop offset="0.619" stop-color="#ff00fc"/><stop offset="0.815" stop-color="#ff00cc"/><stop offset="1.000" stop-color="#ff00b2"/></linearGradient>
<linearGradient id="g184" gradientUnits="userSpaceOnUse" x1="75" x2="215" y1="0" y2="0"><stop offset="0.000" stop-color="#00b7ff"/><stop offset="0.161" stop-color="#0093ff"/><stop offset="0.229" stop-color="#0072ff"/><stop offset="0.239" stop-color="#2670ff"/><stop offset="0.268" stop-color="#4f6cff"/><stop offset="0.343" stop-color="#875eff"/><stop offset="0.475" stop-color="#c637ff"/><stop offset="0.521" stop-color="#d919ff"/><stop offset="0.539" stop-color="#e000ff"/><stop offset="0.632" stop-color="#ff00fc"/><stop offset="0.836" stop-color="#ff00cc"/><stop offset="1.000" stop-color="#ff00b6"/></linearGradient>
<linearGradient id="g185" gradientUnits="userSpaceOnUse" x1="76" x2="212" y1="0" y2="0"><stop offset="0.000" stop-color="#00b4ff"/><stop offset="0.158" stop-color="#0090ff"/><stop offset="0.224" stop-color="#0070ff"/><stop offset="0.239" stop-color="#2b6cff"/><stop offset="0.272" stop-color="#5567ff"/><stop offset="0.357" stop-color="#8e57ff"/><stop offset="0.478" stop-color="#c52fff"/><stop offset="0.515" stop-color="#d414ff"/><stop offset="0.526" stop-color="#d801ff"/><stop offset="0.643" stop-color="#ff00fc"/><stop offset="0.857" stop-color="#ff00cd"/><stop offset="1.000" stop-color="#ff00b9"/></linearGradient>
<linearGradient id="g186" gradientUnits="userSpaceOnUse" x1="76" x2="209" y1="0" y2="0"><stop offset="0.000" stop-color="#00b3ff"/><stop offset="0.158" stop-color="#008eff"/><stop offset="0.229" stop-color="#046bff"/><stop offset="0.237" stop-color="#216aff"/><stop offset="0.263" stop-color="#4966ff"/><stop offset="0.335" stop-color="#7e59ff"/><stop offset="0.462" stop-color="#bb33ff"/><stop offset="0.508" stop-color="#cd14ff"/><stop offset="0.519" stop-color="#d100ff"/><stop offset="0.658" stop-color="#ff00fc"/><stop offset="0.880" stop-color="#ff00cd"/><stop offset="1.000" stop-color="#ff00bd"/></linearGradient>
<linearGradient id="g187" gradientUnits="userSpaceOnUse" x1="77" x2="206" y1="0" y2="0"><stop offset="0.000" stop-color="#00b0ff"/><stop offset="0.155" stop-color="#008bff"/><stop offset="0.225" stop-color="#0068ff"/><stop offset="0.233" stop-color="#1f67ff"/><stop offset="0.256" stop-color="#4363ff"/><stop offset="0.322" stop-color="#7757ff"/><stop offset="0.453" stop-color="#b530ff"/><stop offset="0.496" stop-color="#c613ff"/><stop offset="0.508" stop-color="#ca00ff"/><stop offset="0.671" stop-color="#ff00fc"/><stop offset="0.903" stop-color="#ff00cd"/><stop offset="1.000" stop-color="#ff00c0"/></linearGradient>
<linearGradient id="g188" gradientUnits="userSpaceOnUse" x1="77" x2="203" y1="0" y2="0"><stop offset="0.000" stop-color="#00aeff"/><stop offset="0.155" stop-color="#0089ff"/><stop offset="0.226" stop-color="#0065ff"/><stop offset="0.238" stop-color="#2663ff"/><stop offset="0.270" stop-color="#4e5eff"/><stop offset="0.353" stop-color="#854dff"/><stop offset="0.460" stop-color="#b428ff"/><stop offset="0.492" stop-color="#c00eff"/><stop offset="0.500" stop-color="#c300ff"/><stop offset="0.683" stop-color="#ff00fe"/><stop offset="0.921" stop-color="#ff00ce"/><stop offset="1.000" stop-color="#ff00c4"/></linearGradient>
<linearGradient id="g189" gradientUnits="userSpaceOnUse" x1="78" x2="200" y1="0" y2="0"><stop offset="0.000" stop-color="#00aaff"/><stop offset="0.156" stop-color="#0084ff"/><stop offset="0.221" stop-color="#0063ff"/><stop offset="0.234" stop-color="#2460ff"/><stop offset="0.262" stop-color="#495bff"/><stop offset="0.340" stop-color="#7e4bff"/><stop offset="0.447" stop-color="#ad27ff"/><stop offset="0.480" stop-color="#b90dff"/><stop offset="0.488" stop-color="#bc00ff"/><stop offset="0.697" stop-color="#ff00fe"/><stop offset="0.947" stop-color="#ff00ce"/><stop offset="1.000" stop-color="#ff00c7"/></linearGradient>
<linearGradient id="g190" gradientUnits="userSpaceOnUse" x1="79" x2="197" y1="0" y2="0"><stop offset="0.000" stop-color="#00a7ff"/><stop offset="0.153" stop-color="#0081ff"/><stop offset="0.216" stop-color="#0060ff"/><stop offset="0.220" stop-color="#065dff"/><stop offset="0.229" stop-color="#215cff"/><stop offset="0.258" stop-color="#4857ff"/><stop offset="0.339" stop-color="#7d46ff"/><stop offset="0.441" stop-color="#a922ff"/><stop offset="0.470" stop-color="#b406ff"/><stop offset="0.483" stop-color="#b900ff"/><stop offset="0.708" stop-color="#ff00ff"/><stop offset="0.970" stop-color="#ff00cf"/><stop offset="1.000" stop-color="#ff00cb"/></linearGradient>
<linearGradient id="g191" gradientUnits="userSpaceOnUse" x1="79" x2="194" y1="0" y2="0"><stop offset="0.000" stop-color="#00a5ff"/><stop offset="0.152" stop-color="#007fff"/><stop offset="0.222" stop-color="#015aff"/><stop offset="0.226" stop-color="#1459ff"/><stop offset="0.243" stop-color="#3456ff"/><stop offset="0.296" stop-color="#614dff"/><stop offset="0.417" stop-color="#9c28ff"/><stop offset="0.457" stop-color="#ab0cff"/><stop offset="0.465" stop-color="#ae00ff"/><stop offset="0.687" stop-color="#f500ff"/><stop offset="0.752" stop-color="#ff00f9"/><stop offset="1.000" stop-color="#ff00cf"/></linearGradient>
<linearGradient id="g192" gradientUnits="userSpaceOnUse" x1="80" x2="191" y1="0" y2="0"><stop offset="0.000" stop-color="#00a1ff"/><stop offset="0.149" stop-color="#007bff"/><stop offset="0.216" stop-color="#0057ff"/><stop offset="0.225" stop-color="#1d55ff"/><stop offset="0.252" stop-color="#4150ff"/><stop offset="0.329" stop-color="#7440ff"/><stop offset="0.419" stop-color="#9b1fff"/><stop offset="0.455" stop-color="#a900ff"/><stop offset="0.676" stop-color="#ee00ff"/><stop offset="0.766" stop-color="#ff00fa"/><stop offset="1.000" stop-color="#ff00d3"/></linearGradient>
<linearGradient id="g193" gradientUnits="userSpaceOnUse" x1="80" x2="188" y1="0" y2="0"><stop offset="0.000" stop-color="#009fff"/><stop offset="0.148" stop-color="#0079ff"/><stop offset="0.218" stop-color="#0054ff"/><stop offset="0.231" stop-color="#2450ff"/><stop offset="0.269" stop-color="#4c4aff"/><stop offset="0.366" stop-color="#8230ff"/><stop offset="0.426" stop-color="#9a10ff"/><stop offset="0.440" stop-color="#9f00ff"/><stop offset="0.653" stop-color="#e400ff"/><stop offset="0.782" stop-color="#ff00fb"/><stop offset="1.000" stop-color="#ff00d7"/></linearGradient>
<linearGradient id="g194" gradientUnits="userSpaceOnUse" x1="81" x2="185" y1="0" y2="0"><stop offset="0.000" stop-color="#009bff"/><stop offset="0.149" stop-color="#0073ff"/><stop offset="0.212" stop-color="#0051ff"/><stop offset="0.216" stop-color="#084eff"/><stop offset="0.226" stop-color="#224cff"/><stop offset="0.260" stop-color="#4746ff"/><stop offset="0.351" stop-color="#7b2eff"/><stop offset="0.409" stop-color="#9210ff"/><stop offset="0.423" stop-color="#9800ff"/><stop offset="0.630" stop-color="#da00ff"/><stop offset="0.803" stop-color="#ff00fc"/><stop offset="1.000" stop-color="#ff00dc"/></linearGradient>
<linearGradient id="g195" gradientUnits="userSpaceOnUse" x1="82" x2="182" y1="0" y2="0"><stop offset="0.000" stop-color="#0097ff"/><stop offset="0.145" stop-color="#006fff"/><stop offset="0.210" stop-color="#034aff"/><stop offset="0.220" stop-color="#1f48ff"/><stop offset="0.255" stop-color="#4641ff"/><stop offset="0.350" stop-color="#7a27ff"/><stop offset="0.395" stop-color="#8c0aff"/><stop offset="0.410" stop-color="#9200ff"/><stop offset="0.615" stop-color="#d300ff"/><stop offset="0.825" stop-color="#ff00fc"/><stop offset="1.000" stop-color="#ff00e0"/></linearGradient>
<linearGradient id="g196" gradientUnits="userSpaceOnUse" x1="82" x2="179" y1="0" y2="0"><stop offset="0.000" stop-color="#0095ff"/><stop offset="0.144" stop-color="#006dff"/><stop offset="0.211" stop-color="#0046ff"/><stop offset="0.222" stop-color="#1d44ff"/><stop offset="0.253" stop-color="#413eff"/><stop offset="0.340" stop-color="#7324ff"/><stop offset="0.381" stop-color="#830aff"/><stop offset="0.397" stop-color="#8900ff"/><stop offset="0.593" stop-color="#c900ff"/><stop offset="0.851" stop-color="#ff00fc"/><stop offset="1.000" stop-color="#ff00e5"/></linearGradient>
<linearGradient id="g197" gradientUnits="userSpaceOnUse" x1="83" x2="176" y1="0" y2="0"><stop offset="0.000" stop-color="#0090ff"/><stop offset="0.140" stop-color="#0069ff"/><stop offset="0.204" stop-color="#0043ff"/><stop offset="0.220" stop-color="#243eff"/><stop offset="0.263" stop-color="#4b34ff"/><stop offset="0.344" stop-color="#7417ff"/><stop offset="0.371" stop-color="#7f00ff"/><stop offset="0.554" stop-color="#bc00ff"/><stop offset="0.866" stop-color="#ff00fe"/><stop offset="1.000" stop-color="#ff00e9"/></linearGradient>
<linearGradient id="g198" gradientUnits="userSpaceOnUse" x1="83" x2="173" y1="0" y2="0"><stop offset="0.000" stop-color="#008eff"/><stop offset="0.139" stop-color="#0066ff"/><stop offset="0.206" stop-color="#003fff"/><stop offset="0.228" stop-color="#2938ff"/><stop offset="0.283" stop-color="#5429ff"/><stop offset="0.339" stop-color="#6e0eff"/><stop offset="0.356" stop-color="#7500ff"/><stop offset="0.528" stop-color="#b200ff"/><stop offset="0.856" stop-color="#f900ff"/><stop offset="0.961" stop-color="#ff00f4"/><stop offset="1.000" stop-color="#ff00ee"/></linearGradient>
<linearGradient id="g199" gradientUnits="userSpaceOnUse" x1="84" x2="170" y1="0" y2="0"><stop offset="0.000" stop-color="#0089ff"/><stop offset="0.134" stop-color="#0062ff"/><stop offset="0.198" stop-color="#003bff"/><stop offset="0.203" stop-color="#0436ff"/><stop offset="0.215" stop-color="#2034ff"/><stop offset="0.256" stop-color="#4529ff"/><stop offset="0.314" stop-color="#640eff"/><stop offset="0.331" stop-color="#6b00ff"/><stop offset="0.488" stop-color="#a500ff"/><stop offset="0.797" stop-color="#ea00ff"/><stop offset="0.948" stop-color="#ff00fb"/><stop offset="1.000" stop-color="#ff00f3"/></linearGradient>
<linearGradient id="g200" gradientUnits="userSpaceOnUse" x1="84" x2="167" y1="0" y2="0"><stop offset="0.000" stop-color="#0086ff"/><stop offset="0.139" stop-color="#005dff"/><stop offset="0.199" stop-color="#0037ff"/><stop offset="0.205" stop-color="#0030ff"/><stop offset="0.217" stop-color="#1d2dff"/><stop offset="0.259" stop-color="#4420ff"/><stop offset="0.301" stop-color="#5b08ff"/><stop offset="0.319" stop-color="#6400ff"/><stop offset="0.470" stop-color="#9c00ff"/><stop offset="0.771" stop-color="#e000ff"/><stop offset="0.976" stop-color="#ff00fc"/><stop offset="1.000" stop-color="#ff00f8"/></linearGradient>
<linearGradient id="g201" gradientUnits="userSpaceOnUse" x1="85" x2="164" y1="0" y2="0"><stop offset="0.000" stop-color="#0081ff"/><stop offset="0.133" stop-color="#0057ff"/><stop offset="0.190" stop-color="#0032ff"/><stop offset="0.196" stop-color="#002bff"/><stop offset="0.215" stop-color="#2424ff"/><stop offset="0.266" stop-color="#4a0dff"/><stop offset="0.285" stop-color="#5400ff"/><stop offset="0.411" stop-color="#8a00ff"/><stop offset="0.671" stop-color="#ca00ff"/><stop offset="1.000" stop-color="#ff00fe"/></linearGradient>
<linearGradient id="g202" gradientUnits="userSpaceOnUse" x1="86" x2="161" y1="0" y2="0"><stop offset="0.000" stop-color="#007bff"/><stop offset="0.127" stop-color="#0052ff"/><stop offset="0.180" stop-color="#002dff"/><stop offset="0.187" stop-color="#0025ff"/><stop offset="0.207" stop-color="#221bff"/><stop offset="0.253" stop-color="#4600ff"/><stop offset="0.353" stop-color="#7600ff"/><stop offset="0.573" stop-color="#b300ff"/><stop offset="0.993" stop-color="#fa00ff"/><stop offset="1.000" stop-color="#fb00ff"/></linearGradient>
<linearGradient id="g203" gradientUnits="userSpaceOnUse" x1="87" x2="158" y1="0" y2="0"><stop offset="0.000" stop-color="#0074ff"/><stop offset="0.120" stop-color="#004cff"/><stop offset="0.169" stop-color="#0028ff"/><stop offset="0.183" stop-color="#0614ff"/><stop offset="0.197" stop-color="#200dff"/><stop offset="0.218" stop-color="#3400ff"/><stop offset="0.289" stop-color="#5f00ff"/><stop offset="0.458" stop-color="#9600ff"/><stop offset="0.803" stop-color="#d900ff"/><stop offset="1.000" stop-color="#f500ff"/></linearGradient>
<linearGradient id="g204" gradientUnits="userSpaceOnUse" x1="88" x2="155" y1="0" y2="0"><stop offset="0.000" stop-color="#006dff"/><stop offset="0.112" stop-color="#0045ff"/><stop offset="0.157" stop-color="#0021ff"/><stop offset="0.164" stop-color="#0016ff"/><stop offset="0.172" stop-color="#0101ff"/><stop offset="0.179" stop-color="#1600ff"/><stop offset="0.209" stop-color="#3800ff"/><stop offset="0.291" stop-color="#6300ff"/><stop offset="0.485" stop-color="#9b00ff"/><stop offset="0.873" stop-color="#df00ff"/><stop offset="1.000" stop-color="#f000ff"/></linearGradient>
<linearGradient id="g205" gradientUnits="userSpaceOnUse" x1="88" x2="152" y1="0" y2="0"><stop offset="0.000" stop-color="#0069ff"/><stop offset="0.109" stop-color="#0041ff"/><stop offset="0.148" stop-color="#0024ff"/><stop offset="0.164" stop-color="#0008ff"/><stop offset="0.172" stop-color="#1000ff"/><stop offset="0.195" stop-color="#2f00ff"/><stop offset="0.266" stop-color="#5800ff"/><stop offset="0.438" stop-color="#8d00ff"/><stop offset="0.797" stop-color="#cf00ff"/><stop offset="1.000" stop-color="#ea00ff"/></linearGradient>
<linearGradient id="g206" gradientUnits="userSpaceOnUse" x1="89" x2="149" y1="0" y2="0"><stop offset="0.000" stop-color="#0061ff"/><stop offset="0.100" stop-color="#0039ff"/><stop offset="0.133" stop-color="#001dff"/><stop offset="0.142" stop-color="#000fff"/><stop offset="0.150" stop-color="#0900ff"/><stop offset="0.167" stop-color="#2400ff"/><stop offset="0.225" stop-color="#4b00ff"/><stop offset="0.375" stop-color="#7e00ff"/><stop offset="0.700" stop-color="#bc00ff"/><stop offset="1.000" stop-color="#e400ff"/></linearGradient>
<linearGradient id="g207" gradientUnits="userSpaceOnUse" x1="89" x2="146" y1="0" y2="0"><stop offset="0.000" stop-color="#005cff"/><stop offset="0.096" stop-color="#0035ff"/><stop offset="0.132" stop-color="#0014ff"/><stop offset="0.140" stop-color="#0100ff"/><stop offset="0.149" stop-color="#1600ff"/><stop offset="0.184" stop-color="#3700ff"/><stop offset="0.289" stop-color="#6400ff"/><stop offset="0.535" stop-color="#9d00ff"/><stop offset="1.000" stop-color="#df00ff"/></linearGradient>
<linearGradient id="g208" gradientUnits="userSpaceOnUse" x1="90" x2="143" y1="0" y2="0"><stop offset="0.000" stop-color="#0052ff"/><stop offset="0.075" stop-color="#0031ff"/><stop offset="0.104" stop-color="#0018ff"/><stop offset="0.113" stop-color="#0007ff"/><stop offset="0.132" stop-color="#1e00ff"/><stop offset="0.189" stop-color="#4400ff"/><stop offset="0.340" stop-color="#7400ff"/><stop offset="0.670" stop-color="#b000ff"/><stop offset="1.000" stop-color="#d900ff"/></linearGradient>
<linearGradient id="g209" gradientUnits="userSpaceOnUse" x1="92" x2="140" y1="0" y2="0"><stop offset="0.000" stop-color="#003dff"/><stop offset="0.052" stop-color="#001cff"/><stop offset="0.062" stop-color="#000eff"/><stop offset="0.073" stop-color="#0a00ff"/><stop offset="0.094" stop-color="#2400ff"/><stop offset="0.167" stop-color="#4a00ff"/><stop offset="0.354" stop-color="#7c00ff"/><stop offset="0.760" stop-color="#b900ff"/><stop offset="1.000" stop-color="#d300ff"/></linearGradient>
<linearGradient id="g210" gradientUnits="userSpaceOnUse" x1="93" x2="137" y1="0" y2="0"><stop offset="0.000" stop-color="#0027ff"/><stop offset="0.023" stop-color="#0013ff"/><stop offset="0.034" stop-color="#0200ff"/><stop offset="0.045" stop-color="#1600ff"/><stop offset="0.091" stop-color="#3600ff"/><stop offset="0.227" stop-color="#6200ff"/><stop offset="0.545" stop-color="#9a00ff"/><stop offset="1.000" stop-color="#cd00ff"/></linearGradient>
<linearGradient id="g211" gradientUnits="userSpaceOnUse" x1="93" x2="134" y1="0" y2="0"><stop offset="0.000" stop-color="#0017ff"/><stop offset="0.012" stop-color="#0006ff"/><stop offset="0.049" stop-color="#2600ff"/><stop offset="0.146" stop-color="#4e00ff"/><stop offset="0.390" stop-color="#8100ff"/><stop offset="0.915" stop-color="#c000ff"/><stop offset="1.000" stop-color="#c800ff"/></linearGradient>
<linearGradient id="g212" gradientUnits="userSpaceOnUse" x1="95" x2="131" y1="0" y2="0"><stop offset="0.000" stop-color="#3100ff"/><stop offset="0.153" stop-color="#5d00ff"/><stop offset="0.514" stop-color="#9300ff"/><stop offset="1.000" stop-color="#c200ff"/></linearGradient>
<linearGradient id="g213" gradientUnits="userSpaceOnUse" x1="96" x2="128" y1="0" y2="0"><stop offset="0.000" stop-color="#4300ff"/><stop offset="0.266" stop-color="#7400ff"/><stop offset="0.844" stop-color="#af00ff"/><stop offset="1.000" stop-color="#bc00ff"/></linearGradient>
<linearGradient id="g214" gradientUnits="userSpaceOnUse" x1="97" x2="125" y1="0" y2="0"><stop offset="0.000" stop-color="#5000ff"/><stop offset="0.393" stop-color="#8400ff"/><stop offset="1.000" stop-color="#b500ff"/></linearGradient>
<linearGradient id="g215" gradientUnits="userSpaceOnUse" x1="98" x2="122" y1="0" y2="0"><stop offset="0.000" stop-color="#5b00ff"/><stop offset="0.562" stop-color="#9200ff"/><stop offset="1.000" stop-color="#af00ff"/></linearGradient>
<linearGradient id="g216" gradientUnits="userSpaceOnUse" x1="100" x2="119" y1="0" y2="0"><stop offset="0.000" stop-color="#6900ff"/><stop offset="0.868" stop-color="#a200ff"/><stop offset="1.000" stop-color="#a900ff"/></linearGradient>
<linearGradient id="g217" gradientUnits="userSpaceOnUse" x1="101" x2="116" y1="0" y2="0"><stop offset="0.000" stop-color="#7100ff"/><stop offset="1.000" stop-color="#a200ff"/></linearGradient>
<linearGradient id="g218" gradientUnits="userSpaceOnUse" x1="103" x2="113" y1="0" y2="0"><stop offset="0.000" stop-color="#7b00ff"/><stop offset="1.000" stop-color="#9b00ff"/></linearGradient>
<linearGradient id="g219" gradientUnits="userSpaceOnUse" x1="105" x2="110" y1="0" y2="0"><stop offset="0.000" stop-color="#8500ff"/><stop offset="1.000" stop-color="#9500ff"/></linearGradient>
</defs>
<g clip-path="url(#cl)" shape-rendering="crispEdges"><rect x="70" y="325.7" width="9" height="1.05" fill="url(#g0)"/><rect x="68" y="326.7" width="14" height="1.05" fill="url(#g1)"/><rect x="65" y="327.7" width="23" height="1.05" fill="url(#g2)"/><rect x="62" y="328.7" width="29" height="1.05" fill="url(#g3)"/><rect x="60" y="329.7" width="34" height="1.05" fill="url(#g4)"/><rect x="59" y="330.7" width="38" height="1.05" fill="url(#g5)"/><rect x="57" y="331.7" width="43" height="1.05" fill="url(#g6)"/><rect x="56" y="332.7" width="45" height="1.05" fill="url(#g7)"/><rect x="56" y="333.7" width="47" height="1.05" fill="url(#g8)"/><rect x="55" y="334.7" width="50" height="1.05" fill="url(#g9)"/><rect x="54" y="335.7" width="54" height="1.05" fill="url(#g10)"/><rect x="53" y="336.7" width="58" height="1.05" fill="url(#g11)"/><rect x="53" y="337.7" width="59" height="1.05" fill="url(#g12)"/><rect x="52" y="338.7" width="62" height="1.05" fill="url(#g13)"/><rect x="52" y="339.7" width="65" height="1.05" fill="url(#g14)"/><rect x="51" y="340.7" width="68" height="1.05" fill="url(#g15)"/><rect x="51" y="341.7" width="69" height="1.05" fill="url(#g16)"/><rect x="50" y="342.7" width="72" height="1.05" fill="url(#g17)"/><rect x="50" y="343.7" width="75" height="1.05" fill="url(#g18)"/><rect x="50" y="344.7" width="76" height="1.05" fill="url(#g19)"/><rect x="49" y="345.7" width="78" height="1.05" fill="url(#g20)"/><rect x="49" y="346.7" width="81" height="1.05" fill="url(#g21)"/><rect x="48" y="347.7" width="83" height="1.05" fill="url(#g22)"/><rect x="48" y="348.7" width="85" height="1.05" fill="url(#g23)"/><rect x="48" y="349.7" width="87" height="1.05" fill="url(#g24)"/><rect x="47" y="350.7" width="89" height="1.05" fill="url(#g25)"/><rect x="47" y="351.7" width="91" height="1.05" fill="url(#g26)"/><rect x="47" y="352.7" width="92" height="1.05" fill="url(#g27)"/><rect x="47" y="353.7" width="94" height="1.05" fill="url(#g28)"/><rect x="47" y="354.7" width="96" height="1.05" fill="url(#g29)"/><rect x="46" y="355.7" width="98" height="1.05" fill="url(#g30)"/><rect x="46" y="356.7" width="100" height="1.05" fill="url(#g31)"/><rect x="46" y="357.7" width="102" height="1.05" fill="url(#g32)"/><rect x="46" y="358.7" width="103" height="1.05" fill="url(#g33)"/><rect x="46" y="359.7" width="105" height="1.05" fill="url(#g34)"/><rect x="45" y="360.7" width="107" height="1.05" fill="url(#g35)"/><rect x="45" y="361.7" width="109" height="1.05" fill="url(#g36)"/><rect x="45" y="362.7" width="110" height="1.05" fill="url(#g37)"/><rect x="45" y="363.7" width="111" height="1.05" fill="url(#g38)"/><rect x="45" y="364.7" width="114" height="1.05" fill="url(#g39)"/><rect x="45" y="365.7" width="115" height="1.05" fill="url(#g40)"/><rect x="45" y="366.7" width="117" height="1.05" fill="url(#g41)"/><rect x="45" y="367.7" width="118" height="1.05" fill="url(#g42)"/><rect x="45" y="368.7" width="119" height="1.05" fill="url(#g43)"/><rect x="45" y="369.7" width="120" height="1.05" fill="url(#g44)"/><rect x="45" y="370.7" width="122" height="1.05" fill="url(#g45)"/><rect x="45" y="371.7" width="124" height="1.05" fill="url(#g46)"/><rect x="45" y="372.7" width="125" height="1.05" fill="url(#g47)"/><rect x="45" y="373.7" width="127" height="1.05" fill="url(#g48)"/><rect x="45" y="374.7" width="128" height="1.05" fill="url(#g49)"/><rect x="45" y="375.7" width="130" height="1.05" fill="url(#g50)"/><rect x="44" y="376.7" width="132" height="1.05" fill="url(#g51)"/><rect x="44" y="377.7" width="133" height="1.05" fill="url(#g52)"/><rect x="44" y="378.7" width="134" height="1.05" fill="url(#g53)"/><rect x="44" y="379.7" width="136" height="1.05" fill="url(#g54)"/><rect x="44" y="380.7" width="138" height="1.05" fill="url(#g55)"/><rect x="44" y="381.7" width="139" height="1.05" fill="url(#g56)"/><rect x="45" y="382.7" width="140" height="1.05" fill="url(#g57)"/><rect x="45" y="383.7" width="141" height="1.05" fill="url(#g58)"/><rect x="45" y="384.7" width="143" height="1.05" fill="url(#g59)"/><rect x="45" y="385.7" width="144" height="1.05" fill="url(#g60)"/><rect x="45" y="386.7" width="145" height="1.05" fill="url(#g61)"/><rect x="45" y="387.7" width="146" height="1.05" fill="url(#g62)"/><rect x="45" y="388.7" width="148" height="1.05" fill="url(#g63)"/><rect x="45" y="389.7" width="149" height="1.05" fill="url(#g64)"/><rect x="45" y="390.7" width="150" height="1.05" fill="url(#g65)"/><rect x="45" y="391.7" width="153" height="1.05" fill="url(#g66)"/><rect x="45" y="392.7" width="154" height="1.05" fill="url(#g67)"/><rect x="45" y="393.7" width="156" height="1.05" fill="url(#g68)"/><rect x="45" y="394.7" width="157" height="1.05" fill="url(#g69)"/><rect x="45" y="395.7" width="158" height="1.05" fill="url(#g70)"/><rect x="45" y="396.7" width="159" height="1.05" fill="url(#g71)"/><rect x="45" y="397.7" width="161" height="1.05" fill="url(#g72)"/><rect x="45" y="398.7" width="162" height="1.05" fill="url(#g73)"/><rect x="45" y="399.7" width="163" height="1.05" fill="url(#g74)"/><rect x="45" y="400.7" width="164" height="1.05" fill="url(#g75)"/><rect x="46" y="401.7" width="165" height="1.05" fill="url(#g76)"/><rect x="46" y="402.7" width="167" height="1.05" fill="url(#g77)"/><rect x="46" y="403.7" width="168" height="1.05" fill="url(#g78)"/><rect x="46" y="404.7" width="170" height="1.05" fill="url(#g79)"/><rect x="46" y="405.7" width="171" height="1.05" fill="url(#g80)"/><rect x="46" y="406.7" width="173" height="1.05" fill="url(#g81)"/><rect x="47" y="407.7" width="173" height="1.05" fill="url(#g82)"/><rect x="47" y="408.7" width="174" height="1.05" fill="url(#g83)"/><rect x="47" y="409.7" width="175" height="1.05" fill="url(#g84)"/><rect x="47" y="410.7" width="177" height="1.05" fill="url(#g85)"/><rect x="47" y="411.7" width="179" height="1.05" fill="url(#g86)"/><rect x="47" y="412.7" width="180" height="1.05" fill="url(#g87)"/><rect x="47" y="413.7" width="181" height="1.05" fill="url(#g88)"/><rect x="48" y="414.7" width="181" height="1.05" fill="url(#g89)"/><rect x="48" y="415.7" width="183" height="1.05" fill="url(#g90)"/><rect x="48" y="416.7" width="184" height="1.05" fill="url(#g91)"/><rect x="48" y="417.7" width="185" height="1.05" fill="url(#g92)"/><rect x="48" y="418.7" width="188" height="1.05" fill="url(#g93)"/><rect x="48" y="419.7" width="189" height="1.05" fill="url(#g94)"/><rect x="48" y="420.7" width="190" height="1.05" fill="url(#g95)"/><rect x="49" y="421.7" width="190" height="1.05" fill="url(#g96)"/><rect x="49" y="422.7" width="191" height="1.05" fill="url(#g97)"/><rect x="49" y="423.7" width="194" height="1.05" fill="url(#g98)"/><rect x="49" y="424.7" width="195" height="1.05" fill="url(#g99)"/><rect x="49" y="425.7" width="196" height="1.05" fill="url(#g100)"/><rect x="49" y="426.7" width="197" height="1.05" fill="url(#g101)"/><rect x="49" y="427.7" width="198" height="1.05" fill="url(#g102)"/><rect x="50" y="428.7" width="200" height="1.05" fill="url(#g103)"/><rect x="50" y="429.7" width="201" height="1.05" fill="url(#g104)"/><rect x="50" y="430.7" width="202" height="1.05" fill="url(#g105)"/><rect x="50" y="431.7" width="204" height="1.05" fill="url(#g106)"/><rect x="50" y="432.7" width="205" height="1.05" fill="url(#g107)"/><rect x="51" y="433.7" width="205" height="1.05" fill="url(#g108)"/><rect x="51" y="434.7" width="206" height="1.05" fill="url(#g109)"/><rect x="51" y="435.7" width="207" height="1.05" fill="url(#g110)"/><rect x="52" y="436.7" width="208" height="1.05" fill="url(#g111)"/><rect x="52" y="437.7" width="210" height="1.05" fill="url(#g112)"/><rect x="52" y="438.7" width="211" height="1.05" fill="url(#g113)"/><rect x="52" y="439.7" width="212" height="1.05" fill="url(#g114)"/><rect x="53" y="440.7" width="213" height="1.05" fill="url(#g115)"/><rect x="53" y="441.7" width="214" height="1.05" fill="url(#g116)"/><rect x="53" y="442.7" width="215" height="1.05" fill="url(#g117)"/><rect x="53" y="443.7" width="217" height="1.05" fill="url(#g118)"/><rect x="53" y="444.7" width="219" height="1.05" fill="url(#g119)"/><rect x="54" y="445.7" width="219" height="1.05" fill="url(#g120)"/><rect x="54" y="446.7" width="220" height="1.05" fill="url(#g121)"/><rect x="54" y="447.7" width="221" height="1.05" fill="url(#g122)"/><rect x="54" y="448.7" width="223" height="1.05" fill="url(#g123)"/><rect x="55" y="449.7" width="223" height="1.05" fill="url(#g124)"/><rect x="55" y="450.7" width="225" height="1.05" fill="url(#g125)"/><rect x="55" y="451.7" width="226" height="1.05" fill="url(#g126)"/><rect x="55" y="452.7" width="228" height="1.05" fill="url(#g127)"/><rect x="56" y="453.7" width="228" height="1.05" fill="url(#g128)"/><rect x="56" y="454.7" width="230" height="1.05" fill="url(#g129)"/><rect x="56" y="455.7" width="231" height="1.05" fill="url(#g130)"/><rect x="56" y="456.7" width="232" height="1.05" fill="url(#g131)"/><rect x="56" y="457.7" width="233" height="1.05" fill="url(#g132)"/><rect x="57" y="458.7" width="235" height="1.05" fill="url(#g133)"/><rect x="57" y="459.7" width="236" height="1.05" fill="url(#g134)"/><rect x="57" y="460.7" width="237" height="1.05" fill="url(#g135)"/><rect x="58" y="461.7" width="237" height="1.05" fill="url(#g136)"/><rect x="58" y="462.7" width="239" height="1.05" fill="url(#g137)"/><rect x="58" y="463.7" width="241" height="1.05" fill="url(#g138)"/><rect x="59" y="464.7" width="240" height="1.05" fill="url(#g139)"/><rect x="59" y="465.7" width="242" height="1.05" fill="url(#g140)"/><rect x="59" y="466.7" width="244" height="1.05" fill="url(#g141)"/><rect x="60" y="467.7" width="244" height="1.05" fill="url(#g142)"/><rect x="60" y="468.7" width="246" height="1.05" fill="url(#g143)"/><rect x="60" y="469.7" width="247" height="1.05" fill="url(#g144)"/><rect x="60" y="470.7" width="248" height="1.05" fill="url(#g145)"/><rect x="61" y="471.7" width="249" height="1.05" fill="url(#g146)"/><rect x="61" y="472.7" width="250" height="1.05" fill="url(#g147)"/><rect x="61" y="473.7" width="252" height="1.05" fill="url(#g148)"/><rect x="61" y="474.7" width="253" height="1.05" fill="url(#g149)"/><rect x="62" y="475.7" width="252" height="1.05" fill="url(#g150)"/><rect x="62" y="476.7" width="252" height="1.05" fill="url(#g151)"/><rect x="62" y="477.7" width="249" height="1.05" fill="url(#g152)"/><rect x="63" y="478.7" width="245" height="1.05" fill="url(#g153)"/><rect x="63" y="479.7" width="242" height="1.05" fill="url(#g154)"/><rect x="63" y="480.7" width="239" height="1.05" fill="url(#g155)"/><rect x="64" y="481.7" width="235" height="1.05" fill="url(#g156)"/><rect x="64" y="482.7" width="232" height="1.05" fill="url(#g157)"/><rect x="65" y="483.7" width="228" height="1.05" fill="url(#g158)"/><rect x="65" y="484.7" width="225" height="1.05" fill="url(#g159)"/><rect x="66" y="485.7" width="221" height="1.05" fill="url(#g160)"/><rect x="66" y="486.7" width="218" height="1.05" fill="url(#g161)"/><rect x="67" y="487.7" width="214" height="1.05" fill="url(#g162)"/><rect x="67" y="488.7" width="211" height="1.05" fill="url(#g163)"/><rect x="67" y="489.7" width="208" height="1.05" fill="url(#g164)"/><rect x="67" y="490.7" width="205" height="1.05" fill="url(#g165)"/><rect x="68" y="491.7" width="201" height="1.05" fill="url(#g166)"/><rect x="68" y="492.7" width="198" height="1.05" fill="url(#g167)"/><rect x="68" y="493.7" width="195" height="1.05" fill="url(#g168)"/><rect x="69" y="494.7" width="191" height="1.05" fill="url(#g169)"/><rect x="69" y="495.7" width="188" height="1.05" fill="url(#g170)"/><rect x="70" y="496.7" width="184" height="1.05" fill="url(#g171)"/><rect x="70" y="497.7" width="181" height="1.05" fill="url(#g172)"/><rect x="71" y="498.7" width="177" height="1.05" fill="url(#g173)"/><rect x="71" y="499.7" width="174" height="1.05" fill="url(#g174)"/><rect x="72" y="500.7" width="170" height="1.05" fill="url(#g175)"/><rect x="72" y="501.7" width="167" height="1.05" fill="url(#g176)"/><rect x="72" y="502.7" width="164" height="1.05" fill="url(#g177)"/><rect x="73" y="503.7" width="160" height="1.05" fill="url(#g178)"/><rect x="73" y="504.7" width="157" height="1.05" fill="url(#g179)"/><rect x="74" y="505.7" width="153" height="1.05" fill="url(#g180)"/><rect x="74" y="506.7" width="150" height="1.05" fill="url(#g181)"/><rect x="75" y="507.7" width="146" height="1.05" fill="url(#g182)"/><rect x="75" y="508.7" width="143" height="1.05" fill="url(#g183)"/><rect x="75" y="509.7" width="140" height="1.05" fill="url(#g184)"/><rect x="76" y="510.7" width="136" height="1.05" fill="url(#g185)"/><rect x="76" y="511.7" width="133" height="1.05" fill="url(#g186)"/><rect x="77" y="512.7" width="129" height="1.05" fill="url(#g187)"/><rect x="77" y="513.7" width="126" height="1.05" fill="url(#g188)"/><rect x="78" y="514.7" width="122" height="1.05" fill="url(#g189)"/><rect x="79" y="515.7" width="118" height="1.05" fill="url(#g190)"/><rect x="79" y="516.7" width="115" height="1.05" fill="url(#g191)"/><rect x="80" y="517.7" width="111" height="1.05" fill="url(#g192)"/><rect x="80" y="518.7" width="108" height="1.05" fill="url(#g193)"/><rect x="81" y="519.7" width="104" height="1.05" fill="url(#g194)"/><rect x="82" y="520.7" width="100" height="1.05" fill="url(#g195)"/><rect x="82" y="521.7" width="97" height="1.05" fill="url(#g196)"/><rect x="83" y="522.7" width="93" height="1.05" fill="url(#g197)"/><rect x="83" y="523.7" width="90" height="1.05" fill="url(#g198)"/><rect x="84" y="524.7" width="86" height="1.05" fill="url(#g199)"/><rect x="84" y="525.7" width="83" height="1.05" fill="url(#g200)"/><rect x="85" y="526.7" width="79" height="1.05" fill="url(#g201)"/><rect x="86" y="527.7" width="75" height="1.05" fill="url(#g202)"/><rect x="87" y="528.7" width="71" height="1.05" fill="url(#g203)"/><rect x="88" y="529.7" width="67" height="1.05" fill="url(#g204)"/><rect x="88" y="530.7" width="64" height="1.05" fill="url(#g205)"/><rect x="89" y="531.7" width="60" height="1.05" fill="url(#g206)"/><rect x="89" y="532.7" width="57" height="1.05" fill="url(#g207)"/><rect x="90" y="533.7" width="53" height="1.05" fill="url(#g208)"/><rect x="92" y="534.7" width="48" height="1.05" fill="url(#g209)"/><rect x="93" y="535.7" width="44" height="1.05" fill="url(#g210)"/><rect x="93" y="536.7" width="41" height="1.05" fill="url(#g211)"/><rect x="95" y="537.7" width="36" height="1.05" fill="url(#g212)"/><rect x="96" y="538.7" width="32" height="1.05" fill="url(#g213)"/><rect x="97" y="539.7" width="28" height="1.05" fill="url(#g214)"/><rect x="98" y="540.7" width="24" height="1.05" fill="url(#g215)"/><rect x="100" y="541.7" width="19" height="1.05" fill="url(#g216)"/><rect x="101" y="542.7" width="15" height="1.05" fill="url(#g217)"/><rect x="103" y="543.7" width="10" height="1.05" fill="url(#g218)"/><rect x="105" y="544.7" width="5" height="1.05" fill="url(#g219)"/></g>
<polygon points="108.23,544.74 108.23,544.74 108.22,544.73 108.21,544.73 108.21,544.73 108.19,544.74 108.18,544.74 108.17,544.75 108.15,544.75 108.14,544.76 108.12,544.76 108.11,544.76 108.09,544.76 108.08,544.76 108.07,544.76 108.05,544.76 108.03,544.77 108.01,544.77 107.98,544.78 107.96,544.78 107.94,544.79 107.92,544.79 107.9,544.79 107.88,544.79 107.85,544.79 107.83,544.79 107.8,544.79 107.78,544.79 107.75,544.79 107.72,544.79 107.68,544.79 107.65,544.79 107.62,544.79 107.58,544.79 107.54,544.79 107.5,544.79 107.46,544.78 107.41,544.77 107.36,544.75 107.31,544.73 107.25,544.71 107.18,544.68 107.1,544.65 107.02,544.61 106.93,544.57 106.84,544.53 106.75,544.48 106.66,544.42 106.56,544.37 106.45,544.31 106.33,544.24 106.2,544.16 106.06,544.08 105.92,543.99 105.76,543.89 105.6,543.79 105.44,543.68 105.26,543.57 105.08,543.45 104.89,543.32 104.69,543.18 104.47,543.05 104.25,542.9 104.01,542.75 103.76,542.59 103.48,542.42 103.19,542.24 102.88,542.04 102.55,541.84 102.2,541.62 101.84,541.4 101.47,541.16 101.08,540.92 100.67,540.66 100.24,540.38 99.8,540.08 99.33,539.76 98.84,539.42 98.33,539.06 97.79,538.67 97.24,538.24 96.67,537.79 96.09,537.33 95.48,536.82 94.83,536.24 94.13,535.56 93.39,534.8 92.6,533.96 91.77,533.04 90.89,532.01 89.97,530.85 89.01,529.59 88,528.23 86.95,526.74 85.84,525.09 84.68,523.23 83.45,521.19 82.18,519 80.85,516.62 79.45,514.02 77.99,511.16 76.45,508.07 74.82,504.76 73.13,501.21 71.43,497.4 69.74,493.29 68.05,488.87 66.33,484.16 64.61,479.19 62.9,473.96 61.23,468.49 59.56,462.73 57.88,456.66 56.23,450.38 54.67,443.97 53.23,437.55 51.9,431.04 50.63,424.37 49.47,417.65 48.47,410.99 47.64,404.5 46.99,398.14 46.48,391.82 46.13,385.63 45.99,379.63 46.07,373.9 46.38,368.39 46.9,363.05 47.62,357.95 48.56,353.18 49.73,348.82 51.14,344.84 52.8,341.18 54.67,337.89 56.7,335.01 58.86,332.58 61.17,330.63 63.68,329.15 66.31,328.08 69.03,327.33 71.78,326.84 74.59,326.7 77.48,326.93 80.43,327.43 83.4,328.11 86.36,328.84 89.31,329.68 92.3,330.69 95.28,331.81 98.24,332.99 101.15,334.18 104,335.38 106.81,336.62 109.6,337.9 112.36,339.22 115.1,340.57 117.82,341.94 120.51,343.35 123.18,344.78 125.84,346.25 128.5,347.74 131.16,349.27 133.81,350.82 136.45,352.4 139.09,354.01 141.72,355.63 144.34,357.27 146.96,358.94 149.57,360.63 152.18,362.33 154.79,364.04 157.4,365.77 160.01,367.52 162.62,369.28 165.22,371.05 167.83,372.83 170.45,374.62 173.06,376.42 175.68,378.23 178.3,380.05 180.91,381.87 183.51,383.7 186.12,385.53 188.72,387.37 191.31,389.21 193.91,391.04 196.5,392.88 199.1,394.72 201.69,396.56 204.27,398.39 206.84,400.22 209.39,402.04 211.94,403.87 214.48,405.68 217,407.49 219.51,409.29 222,411.08 224.48,412.86 226.95,414.63 229.39,416.38 231.81,418.12 234.22,419.85 236.6,421.56 238.97,423.26 241.3,424.93 243.61,426.59 245.89,428.22 248.15,429.83 250.38,431.42 252.57,432.99 254.71,434.53 256.82,436.04 258.89,437.53 260.92,439 262.91,440.43 264.83,441.81 266.69,443.15 268.5,444.44 270.25,445.7 271.96,446.92 273.63,448.12 275.27,449.29 276.87,450.44 278.42,451.55 279.93,452.63 281.37,453.67 282.76,454.66 284.1,455.61 285.38,456.52 286.61,457.39 287.8,458.24 288.94,459.06 290.03,459.84 291.07,460.59 292.07,461.31 293.02,462 293.94,462.66 294.8,463.28 295.63,463.88 296.42,464.45 297.19,465 297.91,465.52 298.61,466.01 299.27,466.48 299.9,466.93 300.51,467.36 301.09,467.78 301.64,468.18 302.17,468.56 302.68,468.93 303.18,469.28 303.66,469.63 304.12,469.96 304.56,470.28 304.99,470.59 305.4,470.89 305.8,471.17 306.18,471.45 306.54,471.71 306.89,471.96 307.23,472.2 307.55,472.43 307.86,472.64 308.15,472.85 308.43,473.04 308.69,473.23 308.94,473.4 309.17,473.57 309.38,473.72 309.59,473.87 309.79,474.02 309.97,474.15 310.15,474.28 310.32,474.4 310.48,474.51 310.63,474.62 310.77,474.72 310.9,474.82 311.02,474.91 311.14,474.99 311.25,475.07 311.34,475.14 311.43,475.2 311.5,475.25 311.58,475.3 311.65,475.36 311.72,475.41 311.79,475.46 311.85,475.5 311.92,475.55 311.98,475.59 312.03,475.63 312.08,475.67 312.13,475.71 312.18,475.74 312.23,475.78 312.28,475.81 312.34,475.85 312.39,475.89 312.44,475.93 312.49,475.96 312.54,475.99 312.58,476.03 312.63,476.06 312.67,476.09 312.71,476.12 312.74,476.14 312.77,476.17 312.8,476.19 312.83,476.21 312.85,476.22 312.87,476.24 312.89,476.25 312.9,476.26 312.91,476.27 312.93,476.28 312.94,476.28 312.94,476.29 312.95,476.3 312.96,476.3 312.96,476.3" fill="none" stroke="#000" stroke-width="1.2" stroke-linejoin="round"/>
<rect x="44.65" y="322.75" width="273.45" height="223.3" fill="none" stroke="#000" stroke-width="1.4"/>
<line x1="44.65" y1="546.05" x2="44.65" y2="550.05" stroke="#000" stroke-width="1.4" />
<text x="44.65" y="564.5" font-size="14" text-anchor="middle" fill="#000" >0.0</text>
<line x1="62.91" y1="546.05" x2="62.91" y2="548.25" stroke="#000" stroke-width="1.4" />
<line x1="81.17" y1="546.05" x2="81.17" y2="550.05" stroke="#000" stroke-width="1.4" />
<text x="81.17" y="564.5" font-size="14" text-anchor="middle" fill="#000" >0.1</text>
<line x1="99.43" y1="546.05" x2="99.43" y2="548.25" stroke="#000" stroke-width="1.4" />
<line x1="117.69" y1="546.05" x2="117.69" y2="550.05" stroke="#000" stroke-width="1.4" />
<text x="117.69" y="564.5" font-size="14" text-anchor="middle" fill="#000" >0.2</text>
<line x1="135.95" y1="546.05" x2="135.95" y2="548.25" stroke="#000" stroke-width="1.4" />
<line x1="154.21" y1="546.05" x2="154.21" y2="550.05" stroke="#000" stroke-width="1.4" />
<text x="154.21" y="564.5" font-size="14" text-anchor="middle" fill="#000" >0.3</text>
<line x1="172.47" y1="546.05" x2="172.47" y2="548.25" stroke="#000" stroke-width="1.4" />
<line x1="190.73" y1="546.05" x2="190.73" y2="550.05" stroke="#000" stroke-width="1.4" />
<text x="190.73" y="564.5" font-size="14" text-anchor="middle" fill="#000" >0.4</text>
<line x1="208.99" y1="546.05" x2="208.99" y2="548.25" stroke="#000" stroke-width="1.4" />
<line x1="227.25" y1="546.05" x2="227.25" y2="550.05" stroke="#000" stroke-width="1.4" />
<text x="227.25" y="564.5" font-size="14" text-anchor="middle" fill="#000" >0.5</text>
<line x1="245.51" y1="546.05" x2="245.51" y2="548.25" stroke="#000" stroke-width="1.4" />
<line x1="263.77" y1="546.05" x2="263.77" y2="550.05" stroke="#000" stroke-width="1.4" />
<text x="263.77" y="564.5" font-size="14" text-anchor="middle" fill="#000" >0.6</text>
<line x1="282.03" y1="546.05" x2="282.03" y2="548.25" stroke="#000" stroke-width="1.4" />
<line x1="300.29" y1="546.05" x2="300.29" y2="550.05" stroke="#000" stroke-width="1.4" />
<text x="300.29" y="564.5" font-size="14" text-anchor="middle" fill="#000" >0.7</text>
<line x1="40.65" y1="546.05" x2="44.65" y2="546.05" stroke="#000" stroke-width="1.4" />
<text x="37.5" y="551.15" font-size="14" text-anchor="end" fill="#000" >0.0</text>
<line x1="42.45" y1="519.76" x2="44.65" y2="519.76" stroke="#000" stroke-width="1.4" />
<line x1="40.65" y1="493.47" x2="44.65" y2="493.47" stroke="#000" stroke-width="1.4" />
<text x="37.5" y="498.57" font-size="14" text-anchor="end" fill="#000" >0.2</text>
<line x1="42.45" y1="467.18" x2="44.65" y2="467.18" stroke="#000" stroke-width="1.4" />
<line x1="40.65" y1="440.89" x2="44.65" y2="440.89" stroke="#000" stroke-width="1.4" />
<text x="37.5" y="445.99" font-size="14" text-anchor="end" fill="#000" >0.4</text>
<line x1="42.45" y1="414.6" x2="44.65" y2="414.6" stroke="#000" stroke-width="1.4" />
<line x1="40.65" y1="388.31" x2="44.65" y2="388.31" stroke="#000" stroke-width="1.4" />
<text x="37.5" y="393.41" font-size="14" text-anchor="end" fill="#000" >0.6</text>
<line x1="42.45" y1="362.02" x2="44.65" y2="362.02" stroke="#000" stroke-width="1.4" />
<line x1="40.65" y1="335.73" x2="44.65" y2="335.73" stroke="#000" stroke-width="1.4" />
<text x="37.5" y="340.83" font-size="14" text-anchor="end" fill="#000" >0.8</text>
<text x="181.3" y="580.3" font-size="19" text-anchor="middle" fill="#000" >x</text>
<text transform="translate(11.7,434.5) rotate(-90)" font-size="19" text-anchor="middle">y</text>
<line x1="92.7" y1="538.2" x2="96.3" y2="537.5" stroke="#555" stroke-width="0.6" />
<text x="72.60000000000001" y="544.2" font-size="12.5">460</text>
<line x1="72.5" y1="512.4" x2="77.6" y2="511.3" stroke="#555" stroke-width="0.6" />
<text x="51.699999999999996" y="520.3" font-size="12.5">480</text>
<line x1="40.3" y1="405.5" x2="45.6" y2="405.2" stroke="#555" stroke-width="0.6" />
<text x="20.299999999999997" y="410.3" font-size="12.5">500</text>
<line x1="71.4" y1="320.6" x2="72.2" y2="326.8" stroke="#555" stroke-width="0.6" />
<text x="57.6" y="319.8" font-size="12.5">520</text>
<line x1="129" y1="346.9" x2="132.4" y2="344.2" stroke="#555" stroke-width="0.6" />
<text x="128.4" y="342.9" font-size="12.5">540</text>
<line x1="180.1" y1="381.4" x2="183.9" y2="378.1" stroke="#555" stroke-width="0.6" />
<text x="181.5" y="378.1" font-size="12.5">560</text>
<line x1="230.5" y1="416.7" x2="235.5" y2="413" stroke="#555" stroke-width="0.6" />
<text x="232.4" y="414.2" font-size="12.5">580</text>
<line x1="273.4" y1="447.8" x2="278" y2="444.6" stroke="#555" stroke-width="0.6" />
<text x="274.79999999999995" y="444.6" font-size="12.5">600</text>
<line x1="293.5" y1="466" x2="298" y2="461" stroke="#555" stroke-width="0.6" />
<text x="296.2" y="459.8" font-size="12.5">620</text>
<circle cx="264.4" cy="441.8" r="3.3" fill="none" stroke="#000" stroke-width="1.3"/>
<circle cx="288.4" cy="458.1" r="3.3" fill="none" stroke="#000" stroke-width="1.3"/>
<circle cx="298.3" cy="466.1" r="3.3" fill="none" stroke="#000" stroke-width="1.3"/>
<circle cx="300.5" cy="467.2" r="3.3" fill="none" stroke="#000" stroke-width="1.3"/>
<circle cx="302.8" cy="468.4" r="3.3" fill="none" stroke="#000" stroke-width="1.3"/>
<text x="234.4" y="448.2" font-size="12.8">22.5</text>
<text x="259.59999999999997" y="465.1" font-size="12.8">18.7</text>
<text x="272.29999999999995" y="476.7" font-size="12.8">14.1</text>
<text x="293.7" y="485" font-size="12.8">4.9</text>
<text x="229.2" y="342.5" font-size="14.8">SrF<tspan font-size="10.8" dy="4.4">2</tspan><tspan dy="-4.4">:x%Ho</tspan><tspan font-size="10.8" dy="-6.3">3+</tspan></text>
<defs><radialGradient id="glow" cx="0.5" cy="0.5" r="0.5"><stop offset="0" stop-color="#fff"/><stop offset="0.4" stop-color="#fffaf2"/><stop offset="0.5" stop-color="#ffc0a0"/><stop offset="0.62" stop-color="#e84030"/><stop offset="0.78" stop-color="#901810"/><stop offset="1" stop-color="#2a0000" stop-opacity="0"/></radialGradient><radialGradient id="glow2"><stop offset="0" stop-color="#5a0a06"/><stop offset="1" stop-color="#0c0202" stop-opacity="0"/></radialGradient></defs>
<rect x="269.1" y="348.1" width="28.8" height="39.4" fill="#0c0202"/>
<ellipse cx="282" cy="368.5" rx="10" ry="17" fill="url(#glow2)"/><circle cx="282" cy="368.7" r="8.6" fill="url(#glow)"/>
<text x="259.2" y="399.9" font-size="11.3">10.0%Ho<tspan font-size="8.8" dy="-6.2">3+</tspan></text>
<text x="262.3" y="539.1" font-size="13" font-weight="bold" font-style="italic">CIE 1931</text>
</svg></body></html>
